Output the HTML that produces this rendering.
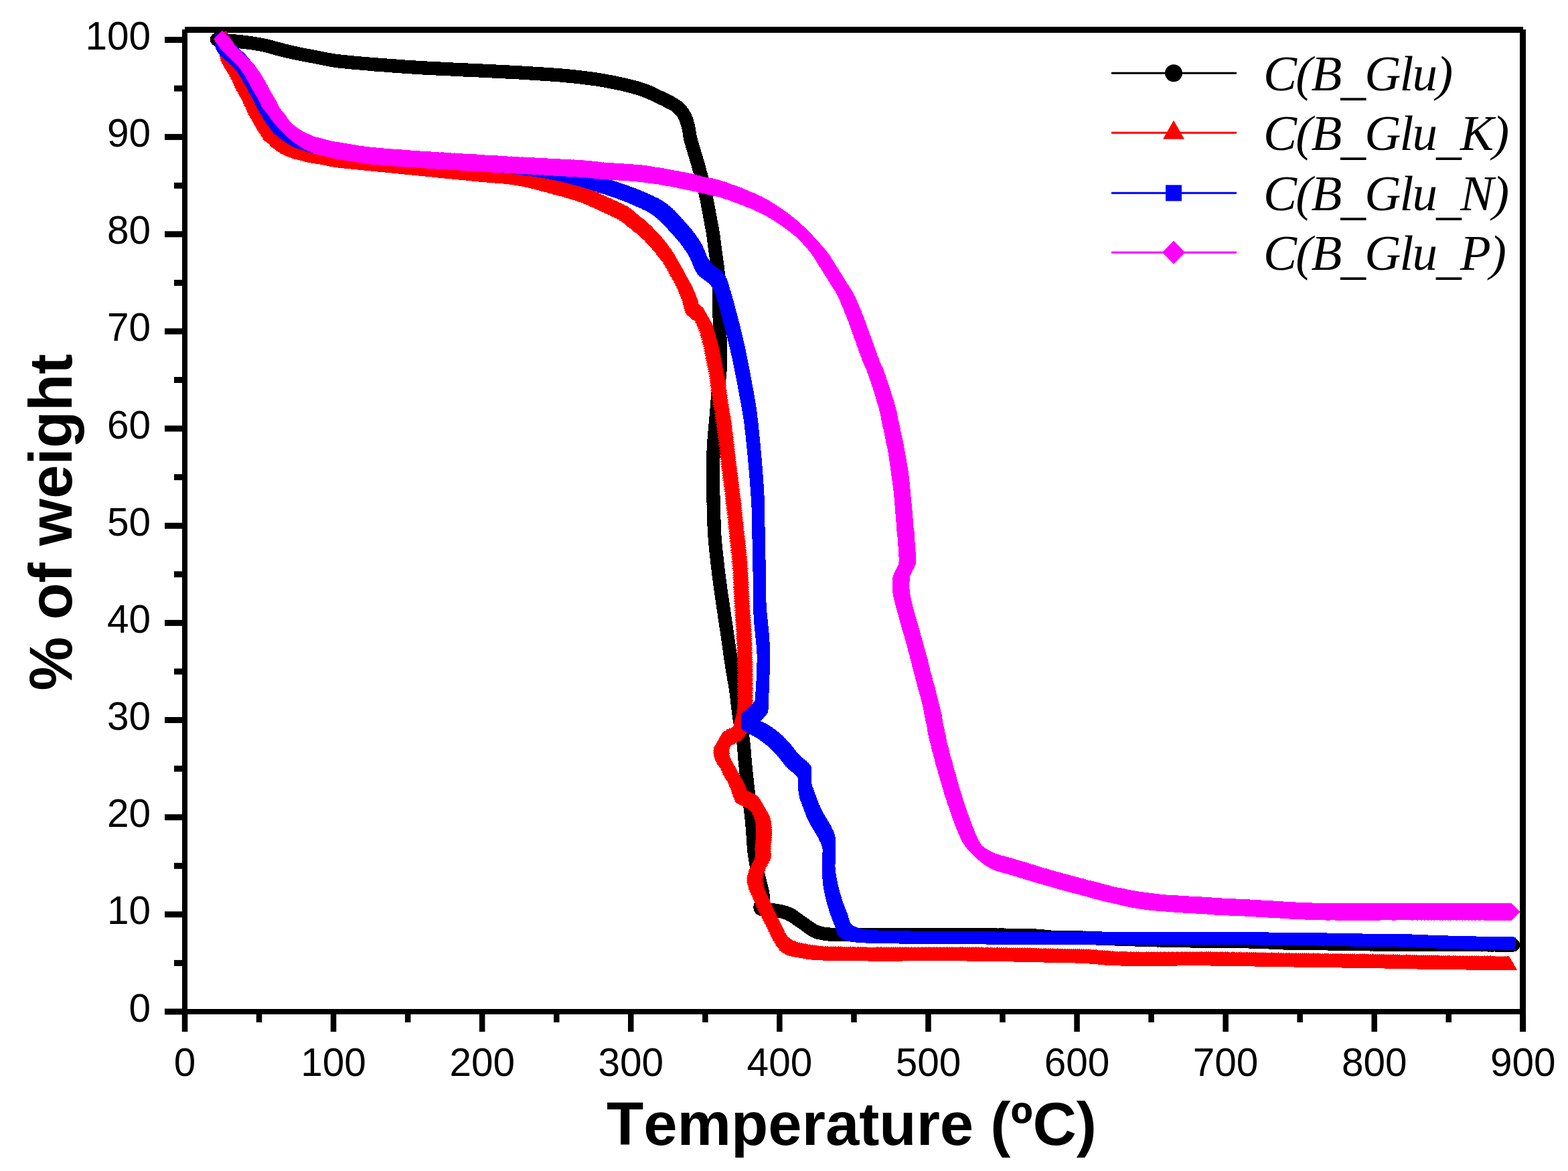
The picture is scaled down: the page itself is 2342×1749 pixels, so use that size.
<!DOCTYPE html><html><head><meta charset="utf-8"><title>TGA</title><style>html,body{margin:0;padding:0;background:#fff;overflow:hidden;width:2342px;height:1749px;}svg{display:block;} text{font-kerning:none;}.tk{font-family:"Liberation Sans",Arial,sans-serif;font-size:58.5px;fill:#000;}.ttl{font-family:"Liberation Sans",Arial,sans-serif;font-weight:bold;font-size:90.5px;fill:#000;}.lg{font-family:"Liberation Serif","Times New Roman",serif;font-style:italic;font-size:75px;letter-spacing:-1.8px;fill:#000;}</style></head><body><svg width="2342" height="1749" viewBox="0 0 2342 1749"><rect x="0" y="0" width="2342" height="1749" fill="#fff"/><defs><marker id="mC" shape-rendering="crispEdges" markerUnits="userSpaceOnUse" markerWidth="40" markerHeight="40" refX="20" refY="20" viewBox="0 0 40 40" overflow="visible"><circle cx="20" cy="20" r="10.2" fill="#000"/></marker><marker id="mT" shape-rendering="crispEdges" markerUnits="userSpaceOnUse" markerWidth="40" markerHeight="40" refX="20" refY="20" viewBox="0 0 40 40" overflow="visible"><path d="M20 9.3 L32.3 30.7 L7.7 30.7 Z" fill="#f00"/></marker><marker id="mS" shape-rendering="crispEdges" markerUnits="userSpaceOnUse" markerWidth="40" markerHeight="40" refX="20" refY="20" viewBox="0 0 40 40" overflow="visible"><rect x="10.5" y="10.5" width="19" height="19" fill="#00f"/></marker><marker id="mD" shape-rendering="crispEdges" markerUnits="userSpaceOnUse" markerWidth="40" markerHeight="40" refX="20" refY="20" viewBox="0 0 40 40" overflow="visible"><path d="M20 7 L33 20 L20 33 L7 20 Z" fill="#f0f"/></marker></defs><g fill="#000"><rect x="276" y="40" width="1999" height="9"/><rect x="272" y="44" width="8" height="1497"/><rect x="2270" y="44" width="9" height="1497"/><rect x="246" y="1507" width="2033" height="8"/><rect x="246" y="1506.5" width="26" height="9"/><rect x="260" y="1433.9" width="12" height="9"/><rect x="246" y="1361.3" width="26" height="9"/><rect x="260" y="1288.8" width="12" height="9"/><rect x="246" y="1216.2" width="26" height="9"/><rect x="260" y="1143.6" width="12" height="9"/><rect x="246" y="1071.0" width="26" height="9"/><rect x="260" y="998.5" width="12" height="9"/><rect x="246" y="925.9" width="26" height="9"/><rect x="260" y="853.3" width="12" height="9"/><rect x="246" y="780.8" width="26" height="9"/><rect x="260" y="708.2" width="12" height="9"/><rect x="246" y="635.6" width="26" height="9"/><rect x="260" y="563.0" width="12" height="9"/><rect x="246" y="490.4" width="26" height="9"/><rect x="260" y="417.9" width="12" height="9"/><rect x="246" y="345.3" width="26" height="9"/><rect x="260" y="272.7" width="12" height="9"/><rect x="246" y="200.1" width="26" height="9"/><rect x="260" y="127.6" width="12" height="9"/><rect x="246" y="55.0" width="26" height="9"/><rect x="271.8" y="1515" width="8.5" height="26"/><rect x="382.8" y="1515" width="8.5" height="12"/><rect x="493.8" y="1515" width="8.5" height="26"/><rect x="604.9" y="1515" width="8.5" height="12"/><rect x="715.9" y="1515" width="8.5" height="26"/><rect x="827.0" y="1515" width="8.5" height="12"/><rect x="938.0" y="1515" width="8.5" height="26"/><rect x="1049.1" y="1515" width="8.5" height="12"/><rect x="1160.1" y="1515" width="8.5" height="26"/><rect x="1271.2" y="1515" width="8.5" height="12"/><rect x="1382.2" y="1515" width="8.5" height="26"/><rect x="1493.2" y="1515" width="8.5" height="12"/><rect x="1604.3" y="1515" width="8.5" height="26"/><rect x="1715.3" y="1515" width="8.5" height="12"/><rect x="1826.4" y="1515" width="8.5" height="26"/><rect x="1937.4" y="1515" width="8.5" height="12"/><rect x="2048.5" y="1515" width="8.5" height="26"/><rect x="2159.5" y="1515" width="8.5" height="12"/><rect x="2270.6" y="1515" width="8.5" height="26"/></g><polyline fill="none" shape-rendering="crispEdges" stroke="#000" stroke-width="2" points="324.0,59.0 324.1,59.0 324.4,59.0 324.9,59.1 325.5,59.1 326.3,59.2 327.2,59.3 328.2,59.4 329.3,59.5 330.5,59.6 331.7,59.7 332.9,59.8 334.2,60.0 335.4,60.1 336.7,60.2 337.8,60.3 339.0,60.4 340.0,60.5 340.9,60.6 341.9,60.7 342.8,60.8 343.8,60.8 344.7,60.9 345.7,61.0 346.7,61.1 347.6,61.2 348.6,61.3 349.6,61.3 350.6,61.4 351.6,61.5 352.6,61.6 353.6,61.7 354.6,61.8 355.6,61.9 356.6,62.0 357.6,62.1 358.6,62.2 359.5,62.3 360.5,62.4 361.5,62.5 362.5,62.6 363.5,62.7 364.5,62.9 365.4,63.0 366.4,63.1 367.4,63.2 368.4,63.4 369.4,63.5 370.4,63.6 371.4,63.7 372.3,63.9 373.3,64.0 374.3,64.1 375.2,64.3 376.2,64.4 377.2,64.6 378.1,64.7 379.1,64.9 380.0,65.0 381.0,65.2 381.9,65.3 382.9,65.5 383.8,65.6 384.8,65.8 385.7,65.9 386.6,66.1 387.6,66.2 388.5,66.4 389.4,66.6 390.4,66.8 391.3,66.9 392.2,67.1 393.1,67.3 394.1,67.5 395.0,67.7 396.0,67.9 396.9,68.1 397.8,68.3 398.8,68.5 399.7,68.8 400.7,69.0 401.6,69.3 402.6,69.5 403.5,69.8 404.5,70.1 405.4,70.3 406.4,70.6 407.3,70.9 408.3,71.2 409.3,71.4 410.2,71.7 411.2,72.0 412.1,72.2 413.1,72.5 414.0,72.7 415.0,73.0 416.0,73.2 416.9,73.5 417.9,73.7 418.8,74.0 419.8,74.2 420.7,74.5 421.7,74.7 422.6,75.0 423.6,75.2 424.5,75.4 425.5,75.7 426.5,75.9 427.4,76.1 428.4,76.4 429.3,76.6 430.3,76.8 431.3,77.1 432.2,77.3 433.2,77.5 434.1,77.7 435.1,77.9 436.0,78.1 436.9,78.3 437.9,78.6 438.8,78.8 439.8,79.0 440.7,79.2 441.7,79.4 442.6,79.6 443.6,79.8 444.5,80.0 445.5,80.2 446.4,80.4 447.3,80.6 448.3,80.7 449.2,80.9 450.1,81.1 451.1,81.3 452.0,81.5 453.0,81.7 453.9,81.9 454.9,82.1 455.8,82.3 456.8,82.4 457.7,82.6 458.6,82.8 459.6,83.0 460.5,83.1 461.4,83.3 462.4,83.5 463.3,83.7 464.3,83.8 465.3,84.0 466.3,84.2 467.3,84.4 468.4,84.6 469.5,84.8 470.3,85.0 471.2,85.1 472.1,85.3 472.9,85.5 473.8,85.6 474.8,85.8 475.7,86.0 476.6,86.2 477.6,86.4 478.6,86.6 479.5,86.8 480.5,87.0 481.5,87.2 482.5,87.4 483.5,87.6 484.5,87.8 485.5,88.0 486.5,88.2 487.5,88.4 488.5,88.6 489.5,88.8 490.5,89.0 491.5,89.2 492.5,89.3 493.5,89.5 494.5,89.7 495.4,89.9 496.4,90.0 497.3,90.2 498.2,90.3 499.1,90.5 500.0,90.6 501.0,90.7 502.0,90.9 503.0,91.0 504.0,91.2 505.0,91.3 505.9,91.4 506.9,91.5 507.8,91.6 508.7,91.7 509.7,91.8 510.6,91.9 511.5,92.0 512.4,92.1 513.4,92.2 514.3,92.3 515.2,92.4 516.2,92.4 517.1,92.5 518.1,92.6 519.0,92.7 520.0,92.8 521.0,92.9 522.0,93.0 522.9,93.1 523.8,93.2 524.8,93.3 525.7,93.4 526.6,93.4 527.6,93.5 528.5,93.6 529.5,93.7 530.4,93.8 531.4,93.9 532.3,94.0 533.3,94.1 534.3,94.2 535.2,94.2 536.2,94.3 537.2,94.4 538.2,94.5 539.2,94.6 540.1,94.7 541.1,94.8 542.1,94.8 543.1,94.9 544.1,95.0 545.1,95.1 546.1,95.2 547.0,95.3 548.0,95.3 549.0,95.4 550.0,95.5 551.0,95.6 551.9,95.7 552.9,95.7 553.8,95.8 554.8,95.9 555.7,96.0 556.7,96.0 557.6,96.1 558.6,96.2 559.5,96.3 560.5,96.3 561.5,96.4 562.4,96.5 563.4,96.6 564.4,96.6 565.3,96.7 566.3,96.8 567.3,96.9 568.2,96.9 569.2,97.0 570.2,97.1 571.2,97.1 572.1,97.2 573.1,97.3 574.1,97.4 575.1,97.4 576.1,97.5 577.0,97.6 578.0,97.7 579.0,97.7 580.0,97.8 580.9,97.9 581.9,97.9 582.8,98.0 583.8,98.1 584.7,98.2 585.6,98.2 586.5,98.3 587.5,98.4 588.4,98.4 589.3,98.5 590.2,98.6 591.2,98.6 592.1,98.7 593.0,98.8 594.0,98.9 594.9,98.9 595.8,99.0 596.8,99.1 597.7,99.1 598.7,99.2 599.7,99.3 600.6,99.4 601.6,99.4 602.6,99.5 603.6,99.6 604.6,99.6 605.6,99.7 606.6,99.8 607.7,99.8 608.7,99.9 609.8,100.0 610.8,100.1 611.9,100.1 613.0,100.2 613.9,100.3 614.7,100.3 615.6,100.4 616.5,100.4 617.4,100.5 618.3,100.5 619.2,100.6 620.1,100.6 621.0,100.7 621.9,100.7 622.9,100.8 623.8,100.9 624.7,100.9 625.7,101.0 626.7,101.0 627.6,101.1 628.6,101.1 629.6,101.2 630.5,101.2 631.5,101.3 632.5,101.3 633.5,101.4 634.5,101.5 635.5,101.5 636.5,101.6 637.5,101.6 638.5,101.7 639.5,101.7 640.6,101.8 641.6,101.8 642.6,101.9 643.6,101.9 644.6,102.0 645.7,102.1 646.7,102.1 647.7,102.2 648.8,102.2 649.8,102.3 650.8,102.3 651.8,102.4 652.9,102.4 653.9,102.5 654.9,102.5 655.9,102.6 657.0,102.6 658.0,102.7 659.0,102.7 660.0,102.8 661.0,102.8 662.0,102.9 663.0,102.9 664.0,103.0 665.1,103.1 666.0,103.1 667.0,103.2 668.0,103.2 669.0,103.3 670.0,103.3 671.0,103.3 672.0,103.4 673.0,103.4 673.9,103.5 674.9,103.5 675.9,103.6 676.9,103.6 677.9,103.7 678.9,103.7 679.9,103.8 680.9,103.8 681.8,103.9 682.8,103.9 683.8,104.0 684.8,104.0 685.8,104.1 686.8,104.1 687.8,104.1 688.7,104.2 689.7,104.2 690.7,104.3 691.7,104.3 692.7,104.4 693.7,104.4 694.7,104.5 695.6,104.5 696.6,104.5 697.6,104.6 698.6,104.6 699.6,104.7 700.6,104.7 701.5,104.8 702.5,104.8 703.5,104.9 704.5,104.9 705.5,104.9 706.4,105.0 707.4,105.0 708.4,105.1 709.4,105.1 710.4,105.2 711.3,105.2 712.3,105.3 713.3,105.3 714.3,105.3 715.3,105.4 716.2,105.4 717.2,105.5 718.2,105.5 719.2,105.6 720.2,105.6 721.1,105.7 722.1,105.7 723.1,105.8 724.1,105.8 725.0,105.9 726.0,105.9 727.0,105.9 728.0,106.0 729.0,106.0 730.0,106.1 730.9,106.1 731.9,106.2 732.9,106.2 733.9,106.3 734.9,106.3 735.8,106.4 736.8,106.4 737.8,106.5 738.8,106.5 739.8,106.6 740.7,106.6 741.7,106.7 742.7,106.7 743.7,106.8 744.6,106.8 745.6,106.9 746.6,106.9 747.6,107.0 748.5,107.0 749.5,107.1 750.5,107.1 751.5,107.2 752.4,107.2 753.4,107.3 754.4,107.3 755.4,107.4 756.3,107.4 757.3,107.5 758.3,107.5 759.3,107.6 760.2,107.6 761.2,107.7 762.2,107.7 763.2,107.8 764.1,107.8 765.1,107.9 766.1,107.9 767.1,108.0 768.1,108.0 769.1,108.1 770.1,108.1 771.0,108.2 772.0,108.2 773.0,108.3 774.0,108.4 775.0,108.4 776.0,108.5 777.0,108.5 778.0,108.6 779.0,108.6 780.0,108.7 781.0,108.8 781.9,108.8 782.9,108.9 783.9,108.9 784.9,109.0 785.9,109.0 786.9,109.1 787.9,109.2 788.9,109.2 789.9,109.3 790.9,109.3 791.9,109.4 793.0,109.5 794.0,109.5 795.0,109.6 796.0,109.7 797.1,109.7 798.1,109.8 799.1,109.8 800.2,109.9 801.2,110.0 802.2,110.0 803.3,110.1 804.3,110.2 805.4,110.2 806.4,110.3 807.4,110.4 808.5,110.4 809.5,110.5 810.5,110.6 811.5,110.6 812.6,110.7 813.6,110.7 814.6,110.8 815.6,110.9 816.6,110.9 817.6,111.0 818.6,111.1 819.6,111.2 820.6,111.2 821.6,111.3 822.6,111.4 823.6,111.4 824.6,111.5 825.5,111.6 826.5,111.6 827.4,111.7 828.4,111.8 829.3,111.8 830.2,111.9 831.1,112.0 832.1,112.0 833.0,112.1 833.9,112.2 834.7,112.3 835.6,112.3 836.5,112.4 837.3,112.5 838.2,112.5 839.0,112.6 840.1,112.7 841.2,112.8 842.3,112.9 843.4,113.0 844.4,113.1 845.4,113.2 846.5,113.3 847.5,113.4 848.5,113.4 849.4,113.5 850.4,113.6 851.4,113.7 852.3,113.8 853.3,113.9 854.2,114.0 855.2,114.1 856.1,114.2 857.0,114.3 857.9,114.4 858.9,114.5 859.8,114.6 860.7,114.7 861.6,114.8 862.5,114.9 863.4,115.0 864.4,115.1 865.3,115.2 866.2,115.3 867.2,115.5 868.1,115.6 869.0,115.7 870.0,115.8 871.0,115.9 871.9,116.0 872.9,116.2 873.9,116.3 874.8,116.4 875.8,116.5 876.7,116.6 877.7,116.7 878.6,116.9 879.5,117.0 880.5,117.1 881.4,117.2 882.4,117.3 883.3,117.5 884.3,117.6 885.2,117.7 886.1,117.8 887.1,118.0 888.1,118.1 889.0,118.2 890.0,118.4 890.9,118.5 891.9,118.7 892.9,118.8 893.9,119.0 894.9,119.1 895.9,119.3 896.9,119.5 897.9,119.6 899.0,119.8 900.0,120.0 900.9,120.2 901.8,120.3 902.7,120.5 903.6,120.7 904.6,120.8 905.5,121.0 906.5,121.2 907.5,121.4 908.4,121.6 909.4,121.7 910.4,121.9 911.4,122.1 912.4,122.3 913.4,122.5 914.4,122.7 915.5,122.9 916.5,123.1 917.5,123.3 918.5,123.6 919.6,123.8 920.6,124.0 921.6,124.2 922.6,124.4 923.6,124.6 924.7,124.8 925.7,125.1 926.7,125.3 927.7,125.5 928.7,125.7 929.7,125.9 930.7,126.2 931.6,126.4 932.6,126.6 933.5,126.8 934.5,127.1 935.4,127.3 936.3,127.5 937.3,127.7 938.1,127.9 939.0,128.1 939.9,128.4 940.7,128.6 941.6,128.8 942.4,129.0 943.5,129.3 944.5,129.6 945.6,129.8 946.6,130.1 947.6,130.4 948.6,130.7 949.6,130.9 950.6,131.2 951.5,131.5 952.4,131.8 953.4,132.0 954.3,132.3 955.2,132.6 956.1,132.9 957.0,133.2 957.9,133.5 958.8,133.8 959.7,134.1 960.6,134.4 961.4,134.7 962.3,135.0 963.2,135.3 964.1,135.7 965.0,136.0 965.9,136.4 966.9,136.7 967.8,137.1 968.7,137.5 969.7,137.9 970.6,138.3 971.5,138.7 972.4,139.1 973.3,139.5 974.2,140.0 975.1,140.4 976.0,140.8 976.9,141.2 977.8,141.7 978.7,142.1 979.6,142.5 980.4,142.9 981.3,143.4 982.2,143.8 983.0,144.2 983.9,144.6 984.7,145.0 985.6,145.4 986.5,145.8 987.4,146.3 988.3,146.7 989.2,147.1 990.0,147.5 990.9,147.9 991.8,148.3 992.6,148.7 993.5,149.1 994.3,149.5 995.1,150.0 996.0,150.4 996.8,150.8 997.6,151.2 998.4,151.6 999.2,152.1 1000.0,152.5 1000.9,153.0 1001.7,153.4 1002.6,153.9 1003.4,154.4 1004.2,154.8 1005.0,155.3 1005.9,155.7 1006.7,156.2 1007.5,156.7 1008.2,157.2 1009.0,157.7 1009.8,158.2 1010.5,158.8 1011.3,159.4 1012.0,160.0 1012.7,160.6 1013.4,161.3 1014.1,161.9 1014.8,162.6 1015.5,163.3 1016.1,164.0 1016.8,164.8 1017.4,165.5 1018.1,166.3 1018.7,167.0 1019.3,167.8 1019.9,168.6 1020.4,169.5 1021.0,170.3 1021.5,171.1 1022.0,172.0 1022.4,172.8 1022.9,173.6 1023.3,174.4 1023.6,175.3 1024.0,176.2 1024.4,177.0 1024.7,177.9 1025.0,178.8 1025.3,179.8 1025.6,180.7 1025.9,181.6 1026.2,182.5 1026.5,183.5 1026.8,184.4 1027.0,185.3 1027.3,186.3 1027.5,187.2 1027.8,188.1 1028.0,189.0 1028.2,189.9 1028.4,190.9 1028.6,191.8 1028.8,192.7 1029.0,193.7 1029.1,194.6 1029.3,195.5 1029.4,196.4 1029.5,197.4 1029.7,198.3 1029.8,199.3 1029.9,200.2 1030.1,201.2 1030.2,202.1 1030.4,203.1 1030.6,204.0 1030.8,205.0 1031.0,206.0 1031.2,206.9 1031.4,207.8 1031.7,208.8 1031.9,209.7 1032.2,210.6 1032.4,211.6 1032.7,212.5 1033.0,213.5 1033.2,214.4 1033.5,215.4 1033.8,216.4 1034.1,217.3 1034.4,218.3 1034.7,219.3 1035.0,220.2 1035.3,221.2 1035.6,222.2 1035.9,223.1 1036.1,224.1 1036.4,225.1 1036.7,226.0 1037.0,227.0 1037.3,227.9 1037.5,228.8 1037.8,229.8 1038.1,230.7 1038.4,231.6 1038.7,232.5 1038.9,233.5 1039.2,234.4 1039.5,235.3 1039.8,236.2 1040.1,237.2 1040.4,238.1 1040.7,239.0 1040.9,239.9 1041.2,240.9 1041.5,241.8 1041.8,242.7 1042.1,243.6 1042.3,244.6 1042.6,245.5 1042.9,246.4 1043.1,247.4 1043.4,248.3 1043.7,249.2 1043.9,250.2 1044.2,251.1 1044.4,252.1 1044.7,253.0 1044.9,253.9 1045.2,254.9 1045.4,255.8 1045.7,256.8 1045.9,257.7 1046.2,258.7 1046.4,259.6 1046.6,260.6 1046.9,261.5 1047.1,262.5 1047.4,263.4 1047.6,264.4 1047.8,265.3 1048.1,266.3 1048.3,267.2 1048.5,268.1 1048.8,269.1 1049.0,270.0 1049.2,270.9 1049.5,271.9 1049.7,272.8 1049.9,273.7 1050.2,274.7 1050.4,275.6 1050.6,276.5 1050.9,277.4 1051.1,278.3 1051.3,279.2 1051.5,280.1 1051.8,281.1 1052.0,282.0 1052.2,282.9 1052.4,283.9 1052.7,284.8 1052.9,285.8 1053.1,286.7 1053.3,287.7 1053.6,288.7 1053.8,289.7 1054.0,290.7 1054.2,291.6 1054.4,292.5 1054.6,293.5 1054.8,294.4 1055.0,295.4 1055.2,296.4 1055.4,297.4 1055.6,298.4 1055.8,299.5 1056.0,300.5 1056.2,301.6 1056.4,302.6 1056.6,303.7 1056.8,304.7 1057.0,305.8 1057.2,306.8 1057.4,307.8 1057.6,308.9 1057.8,309.9 1058.0,310.9 1058.2,311.9 1058.4,312.9 1058.6,313.9 1058.7,314.8 1058.9,315.7 1059.1,316.6 1059.2,317.5 1059.4,318.4 1059.6,319.2 1059.7,320.0 1059.9,321.1 1060.1,322.1 1060.3,323.1 1060.4,324.1 1060.6,325.0 1060.8,325.9 1060.9,326.8 1061.1,327.7 1061.2,328.5 1061.4,329.4 1061.5,330.3 1061.7,331.2 1061.8,332.1 1062.0,333.0 1062.2,333.9 1062.3,334.8 1062.5,335.7 1062.7,336.6 1062.9,337.5 1063.1,338.4 1063.2,339.3 1063.4,340.2 1063.6,341.2 1063.8,342.1 1064.0,343.1 1064.2,344.1 1064.3,345.1 1064.5,346.1 1064.7,347.2 1064.8,348.0 1065.0,348.9 1065.1,349.7 1065.2,350.6 1065.4,351.5 1065.5,352.5 1065.6,353.4 1065.7,354.4 1065.9,355.3 1066.0,356.3 1066.1,357.3 1066.2,358.3 1066.4,359.3 1066.5,360.3 1066.6,361.3 1066.8,362.3 1066.9,363.4 1067.0,364.4 1067.1,365.4 1067.3,366.4 1067.4,367.5 1067.5,368.5 1067.7,369.5 1067.8,370.5 1067.9,371.5 1068.0,372.5 1068.2,373.5 1068.3,374.5 1068.4,375.5 1068.6,376.4 1068.7,377.4 1068.8,378.4 1069.0,379.4 1069.1,380.3 1069.3,381.3 1069.4,382.3 1069.6,383.2 1069.7,384.2 1069.8,385.2 1070.0,386.1 1070.1,387.1 1070.3,388.1 1070.4,389.0 1070.5,390.0 1070.7,391.0 1070.8,391.9 1071.0,392.9 1071.1,393.9 1071.2,394.9 1071.3,395.8 1071.5,396.8 1071.6,397.8 1071.7,398.8 1071.8,399.7 1071.9,400.7 1072.0,401.7 1072.1,402.7 1072.2,403.6 1072.3,404.6 1072.4,405.6 1072.4,406.6 1072.5,407.6 1072.6,408.6 1072.7,409.6 1072.7,410.6 1072.8,411.6 1072.9,412.6 1072.9,413.6 1073.0,414.6 1073.0,415.6 1073.1,416.6 1073.2,417.6 1073.2,418.6 1073.3,419.6 1073.3,420.6 1073.3,421.6 1073.4,422.5 1073.4,423.5 1073.5,424.5 1073.5,425.4 1073.6,426.3 1073.6,427.3 1073.6,428.2 1073.7,429.1 1073.7,430.0 1073.7,431.0 1073.8,432.0 1073.8,433.0 1073.8,433.9 1073.8,434.8 1073.8,435.7 1073.9,436.6 1073.9,437.5 1073.9,438.4 1073.9,439.3 1073.9,440.1 1073.9,441.0 1073.9,441.9 1073.9,442.8 1073.9,443.8 1073.9,444.7 1073.9,445.7 1073.9,446.7 1074.0,447.8 1074.0,448.9 1074.0,450.0 1074.0,450.8 1074.0,451.6 1074.1,452.4 1074.1,453.3 1074.1,454.2 1074.1,455.0 1074.1,455.9 1074.2,456.8 1074.2,457.7 1074.2,458.7 1074.2,459.6 1074.3,460.6 1074.3,461.5 1074.3,462.5 1074.3,463.5 1074.4,464.5 1074.4,465.5 1074.4,466.5 1074.4,467.5 1074.5,468.5 1074.5,469.6 1074.5,470.6 1074.6,471.7 1074.6,472.7 1074.6,473.8 1074.6,474.8 1074.7,475.9 1074.7,476.9 1074.7,478.0 1074.8,479.1 1074.8,480.1 1074.8,481.2 1074.8,482.3 1074.9,483.3 1074.9,484.4 1074.9,485.5 1075.0,486.5 1075.0,487.6 1075.0,488.6 1075.0,489.7 1075.1,490.7 1075.1,491.8 1075.1,492.8 1075.1,493.9 1075.2,494.9 1075.2,495.9 1075.2,496.9 1075.2,497.9 1075.2,498.9 1075.3,499.9 1075.3,500.9 1075.3,501.9 1075.3,502.9 1075.4,503.9 1075.4,504.9 1075.4,505.9 1075.5,506.9 1075.5,508.0 1075.5,509.0 1075.5,510.0 1075.6,511.1 1075.6,512.1 1075.6,513.1 1075.7,514.2 1075.7,515.2 1075.7,516.2 1075.8,517.3 1075.8,518.3 1075.8,519.3 1075.8,520.4 1075.9,521.4 1075.9,522.4 1075.9,523.4 1075.9,524.4 1076.0,525.4 1076.0,526.5 1076.0,527.5 1076.0,528.5 1076.0,529.4 1076.1,530.4 1076.1,531.4 1076.1,532.4 1076.1,533.3 1076.1,534.3 1076.1,535.2 1076.1,536.2 1076.1,537.1 1076.1,538.0 1076.1,538.9 1076.1,539.8 1076.1,540.7 1076.1,541.6 1076.1,542.5 1076.0,543.3 1076.0,544.2 1076.0,545.0 1076.0,546.1 1075.9,547.2 1075.9,548.2 1075.8,549.2 1075.8,550.2 1075.7,551.2 1075.6,552.1 1075.6,553.0 1075.5,553.9 1075.4,554.8 1075.3,555.7 1075.3,556.6 1075.2,557.5 1075.1,558.4 1075.0,559.3 1074.9,560.2 1074.8,561.1 1074.7,562.0 1074.6,562.9 1074.6,563.8 1074.5,564.8 1074.4,565.8 1074.3,566.8 1074.2,567.8 1074.1,568.9 1074.0,570.0 1073.9,570.8 1073.9,571.7 1073.8,572.5 1073.7,573.4 1073.7,574.3 1073.6,575.1 1073.5,576.0 1073.4,577.0 1073.4,577.9 1073.3,578.8 1073.2,579.7 1073.1,580.7 1073.0,581.6 1073.0,582.6 1072.9,583.6 1072.8,584.5 1072.7,585.5 1072.6,586.5 1072.6,587.5 1072.5,588.5 1072.4,589.5 1072.3,590.5 1072.2,591.5 1072.1,592.5 1072.0,593.5 1072.0,594.6 1071.9,595.6 1071.8,596.6 1071.7,597.6 1071.6,598.7 1071.5,599.7 1071.4,600.7 1071.4,601.8 1071.3,602.8 1071.2,603.8 1071.1,604.9 1071.0,605.9 1070.9,606.9 1070.8,607.9 1070.8,609.0 1070.7,610.0 1070.6,611.0 1070.5,612.0 1070.4,613.0 1070.3,614.0 1070.2,615.0 1070.2,616.0 1070.1,617.0 1070.0,618.0 1069.9,619.0 1069.8,620.0 1069.7,620.9 1069.7,621.9 1069.6,622.9 1069.5,623.9 1069.4,624.9 1069.3,625.8 1069.2,626.8 1069.1,627.8 1069.0,628.8 1069.0,629.7 1068.9,630.7 1068.8,631.7 1068.7,632.7 1068.6,633.7 1068.5,634.6 1068.4,635.6 1068.3,636.6 1068.2,637.6 1068.1,638.5 1068.0,639.5 1067.9,640.5 1067.9,641.5 1067.8,642.5 1067.7,643.4 1067.6,644.4 1067.5,645.4 1067.4,646.4 1067.3,647.3 1067.2,648.3 1067.2,649.3 1067.1,650.3 1067.0,651.3 1066.9,652.2 1066.8,653.2 1066.8,654.2 1066.7,655.2 1066.6,656.2 1066.6,657.1 1066.5,658.1 1066.4,659.1 1066.3,660.1 1066.3,661.1 1066.2,662.1 1066.2,663.0 1066.1,664.0 1066.1,665.0 1066.0,666.0 1066.0,667.0 1065.9,667.9 1065.9,668.9 1065.8,669.9 1065.8,670.9 1065.7,671.9 1065.7,672.8 1065.6,673.8 1065.6,674.8 1065.6,675.8 1065.5,676.8 1065.5,677.7 1065.5,678.7 1065.4,679.7 1065.4,680.7 1065.4,681.7 1065.4,682.6 1065.3,683.6 1065.3,684.6 1065.3,685.6 1065.3,686.6 1065.2,687.5 1065.2,688.5 1065.2,689.5 1065.2,690.5 1065.2,691.5 1065.2,692.5 1065.1,693.4 1065.1,694.4 1065.1,695.4 1065.1,696.4 1065.1,697.4 1065.1,698.4 1065.1,699.3 1065.1,700.3 1065.0,701.3 1065.0,702.3 1065.0,703.3 1065.0,704.2 1065.0,705.2 1065.0,706.2 1065.0,707.2 1065.0,708.2 1065.0,709.1 1065.0,710.1 1065.0,711.1 1065.0,712.1 1065.0,713.0 1065.0,714.0 1065.0,715.0 1065.0,716.0 1065.0,717.0 1065.0,718.0 1065.0,719.0 1065.0,719.9 1065.0,720.9 1065.0,721.9 1065.0,722.9 1065.1,723.9 1065.1,724.9 1065.1,725.9 1065.1,726.9 1065.1,727.9 1065.1,728.9 1065.1,729.9 1065.2,730.9 1065.2,731.9 1065.2,732.9 1065.2,733.9 1065.2,734.9 1065.3,735.9 1065.3,736.9 1065.3,737.9 1065.3,738.9 1065.3,739.9 1065.4,740.9 1065.4,741.9 1065.4,742.9 1065.4,743.9 1065.5,744.9 1065.5,745.8 1065.5,746.8 1065.6,747.8 1065.6,748.8 1065.6,749.8 1065.6,750.7 1065.7,751.7 1065.7,752.7 1065.7,753.6 1065.8,754.6 1065.8,755.5 1065.8,756.5 1065.8,757.4 1065.9,758.4 1065.9,759.3 1065.9,760.2 1065.9,761.2 1066.0,762.1 1066.0,763.0 1066.0,764.0 1066.1,765.1 1066.1,766.1 1066.1,767.1 1066.1,768.1 1066.2,769.1 1066.2,770.0 1066.2,771.0 1066.2,772.0 1066.3,773.0 1066.3,773.9 1066.3,774.9 1066.3,775.8 1066.4,776.8 1066.4,777.7 1066.4,778.7 1066.4,779.6 1066.5,780.6 1066.5,781.5 1066.5,782.4 1066.6,783.4 1066.6,784.3 1066.6,785.3 1066.7,786.2 1066.7,787.2 1066.7,788.1 1066.8,789.1 1066.8,790.0 1066.9,791.0 1066.9,792.0 1067.0,793.0 1067.0,793.9 1067.1,794.9 1067.1,795.9 1067.2,796.9 1067.3,797.9 1067.3,799.0 1067.4,800.0 1067.5,800.9 1067.5,801.9 1067.6,802.8 1067.7,803.7 1067.7,804.7 1067.8,805.6 1067.9,806.6 1068.0,807.5 1068.1,808.5 1068.1,809.5 1068.2,810.4 1068.3,811.4 1068.4,812.4 1068.5,813.4 1068.6,814.3 1068.7,815.3 1068.8,816.3 1068.9,817.3 1069.0,818.3 1069.1,819.3 1069.2,820.3 1069.3,821.3 1069.4,822.3 1069.5,823.3 1069.6,824.3 1069.7,825.3 1069.8,826.3 1069.9,827.3 1070.0,828.3 1070.1,829.3 1070.2,830.4 1070.3,831.4 1070.5,832.4 1070.6,833.4 1070.7,834.4 1070.8,835.4 1070.9,836.4 1071.0,837.4 1071.1,838.4 1071.3,839.4 1071.4,840.4 1071.5,841.4 1071.6,842.4 1071.7,843.4 1071.8,844.4 1072.0,845.4 1072.1,846.4 1072.2,847.4 1072.3,848.4 1072.4,849.4 1072.5,850.4 1072.7,851.4 1072.8,852.4 1072.9,853.4 1073.0,854.3 1073.1,855.3 1073.3,856.3 1073.4,857.3 1073.5,858.3 1073.6,859.3 1073.8,860.3 1073.9,861.3 1074.0,862.3 1074.2,863.3 1074.3,864.2 1074.4,865.2 1074.5,866.2 1074.7,867.2 1074.8,868.2 1074.9,869.2 1075.1,870.2 1075.2,871.2 1075.3,872.2 1075.5,873.2 1075.6,874.1 1075.7,875.1 1075.9,876.1 1076.0,877.1 1076.2,878.1 1076.3,879.1 1076.4,880.1 1076.6,881.1 1076.7,882.1 1076.8,883.1 1077.0,884.0 1077.1,885.0 1077.3,886.0 1077.4,887.0 1077.5,888.0 1077.7,889.0 1077.8,890.0 1078.0,891.0 1078.1,892.0 1078.2,892.9 1078.4,893.9 1078.5,894.9 1078.7,895.9 1078.8,896.9 1078.9,897.9 1079.1,898.9 1079.2,899.9 1079.4,900.9 1079.5,901.8 1079.7,902.8 1079.8,903.8 1079.9,904.8 1080.1,905.8 1080.2,906.8 1080.4,907.8 1080.5,908.8 1080.7,909.7 1080.8,910.7 1081.0,911.7 1081.1,912.7 1081.3,913.7 1081.4,914.7 1081.6,915.7 1081.7,916.7 1081.9,917.6 1082.0,918.6 1082.2,919.6 1082.3,920.6 1082.4,921.6 1082.6,922.6 1082.7,923.6 1082.9,924.6 1083.0,925.5 1083.2,926.5 1083.3,927.5 1083.5,928.5 1083.6,929.5 1083.8,930.5 1083.9,931.5 1084.1,932.5 1084.2,933.4 1084.4,934.4 1084.5,935.4 1084.7,936.4 1084.8,937.4 1085.0,938.4 1085.1,939.4 1085.3,940.4 1085.4,941.3 1085.6,942.3 1085.7,943.3 1085.9,944.3 1086.0,945.3 1086.1,946.3 1086.3,947.3 1086.4,948.3 1086.6,949.3 1086.7,950.3 1086.9,951.3 1087.0,952.3 1087.1,953.3 1087.3,954.3 1087.4,955.3 1087.6,956.3 1087.7,957.3 1087.8,958.3 1088.0,959.3 1088.1,960.3 1088.3,961.4 1088.4,962.4 1088.6,963.4 1088.7,964.4 1088.8,965.4 1089.0,966.4 1089.1,967.4 1089.3,968.4 1089.4,969.4 1089.5,970.4 1089.7,971.4 1089.8,972.4 1089.9,973.4 1090.1,974.4 1090.2,975.4 1090.4,976.4 1090.5,977.4 1090.6,978.4 1090.8,979.4 1090.9,980.4 1091.1,981.4 1091.2,982.3 1091.3,983.3 1091.5,984.3 1091.6,985.2 1091.8,986.2 1091.9,987.2 1092.1,988.1 1092.2,989.1 1092.3,990.0 1092.5,990.9 1092.6,991.9 1092.8,992.8 1092.9,993.7 1093.1,994.8 1093.2,995.8 1093.4,996.8 1093.6,997.9 1093.7,998.9 1093.9,1000.0 1094.1,1001.0 1094.3,1002.0 1094.4,1003.0 1094.6,1004.1 1094.8,1005.1 1095.0,1006.1 1095.1,1007.1 1095.3,1008.1 1095.5,1009.1 1095.7,1010.1 1095.9,1011.1 1096.0,1012.1 1096.2,1013.1 1096.4,1014.1 1096.5,1015.0 1096.7,1016.0 1096.9,1017.0 1097.1,1017.9 1097.2,1018.9 1097.4,1019.9 1097.5,1020.8 1097.7,1021.8 1097.9,1022.7 1098.0,1023.6 1098.2,1024.6 1098.3,1025.5 1098.5,1026.4 1098.6,1027.3 1098.7,1028.2 1098.9,1029.1 1099.0,1030.0 1099.1,1031.0 1099.3,1032.1 1099.4,1033.1 1099.6,1034.1 1099.7,1035.1 1099.8,1036.1 1099.9,1037.1 1100.1,1038.1 1100.2,1039.1 1100.3,1040.0 1100.4,1041.0 1100.5,1041.9 1100.6,1042.9 1100.7,1043.8 1100.8,1044.8 1100.9,1045.7 1101.0,1046.6 1101.1,1047.6 1101.2,1048.5 1101.3,1049.4 1101.4,1050.4 1101.5,1051.3 1101.7,1052.2 1101.8,1053.1 1101.9,1054.1 1102.0,1055.0 1102.1,1056.0 1102.3,1057.0 1102.4,1057.9 1102.5,1058.9 1102.6,1059.8 1102.7,1060.8 1102.9,1061.7 1103.0,1062.6 1103.1,1063.6 1103.2,1064.5 1103.3,1065.4 1103.5,1066.4 1103.6,1067.3 1103.7,1068.2 1103.9,1069.2 1104.0,1070.1 1104.1,1071.1 1104.3,1072.0 1104.4,1073.0 1104.5,1074.0 1104.7,1075.0 1104.8,1076.0 1105.0,1077.0 1105.1,1077.9 1105.3,1078.8 1105.4,1079.7 1105.6,1080.7 1105.8,1081.6 1105.9,1082.6 1106.1,1083.5 1106.3,1084.5 1106.5,1085.5 1106.6,1086.4 1106.8,1087.4 1107.0,1088.4 1107.2,1089.4 1107.4,1090.4 1107.6,1091.4 1107.7,1092.3 1107.9,1093.3 1108.1,1094.3 1108.3,1095.3 1108.5,1096.3 1108.6,1097.3 1108.8,1098.3 1109.0,1099.3 1109.1,1100.2 1109.3,1101.2 1109.5,1102.2 1109.6,1103.1 1109.7,1104.1 1109.9,1105.1 1110.0,1106.0 1110.1,1107.0 1110.3,1108.0 1110.4,1109.0 1110.5,1110.0 1110.6,1111.0 1110.7,1112.0 1110.8,1113.0 1110.9,1114.0 1111.0,1115.0 1111.0,1116.0 1111.1,1117.0 1111.2,1118.0 1111.3,1119.0 1111.4,1119.9 1111.4,1120.9 1111.5,1121.9 1111.6,1122.9 1111.7,1123.9 1111.7,1124.8 1111.8,1125.8 1111.9,1126.8 1112.0,1127.8 1112.0,1128.8 1112.1,1129.7 1112.2,1130.7 1112.3,1131.7 1112.4,1132.7 1112.5,1133.6 1112.6,1134.6 1112.7,1135.6 1112.8,1136.6 1112.9,1137.5 1112.9,1138.5 1113.0,1139.4 1113.1,1140.4 1113.2,1141.4 1113.3,1142.3 1113.4,1143.3 1113.5,1144.3 1113.6,1145.2 1113.7,1146.2 1113.8,1147.2 1113.9,1148.1 1114.0,1149.1 1114.1,1150.1 1114.2,1151.0 1114.3,1152.0 1114.4,1153.0 1114.5,1154.0 1114.6,1155.0 1114.7,1156.0 1114.8,1157.0 1114.9,1157.9 1115.0,1158.9 1115.1,1159.8 1115.2,1160.7 1115.3,1161.7 1115.4,1162.6 1115.5,1163.6 1115.6,1164.5 1115.7,1165.4 1115.8,1166.4 1115.9,1167.3 1116.0,1168.3 1116.1,1169.2 1116.2,1170.2 1116.3,1171.2 1116.4,1172.1 1116.5,1173.1 1116.6,1174.1 1116.7,1175.0 1116.9,1176.0 1117.0,1177.0 1117.1,1178.0 1117.2,1179.0 1117.3,1179.9 1117.4,1180.9 1117.5,1181.9 1117.6,1182.9 1117.8,1184.0 1117.9,1185.0 1118.0,1186.0 1118.1,1186.9 1118.2,1187.8 1118.3,1188.8 1118.4,1189.7 1118.6,1190.6 1118.7,1191.6 1118.8,1192.5 1118.9,1193.5 1119.1,1194.5 1119.2,1195.4 1119.3,1196.4 1119.4,1197.4 1119.6,1198.3 1119.7,1199.3 1119.8,1200.3 1120.0,1201.3 1120.1,1202.3 1120.2,1203.3 1120.3,1204.2 1120.5,1205.2 1120.6,1206.2 1120.7,1207.2 1120.9,1208.2 1121.0,1209.2 1121.1,1210.2 1121.2,1211.2 1121.4,1212.2 1121.5,1213.2 1121.6,1214.2 1121.7,1215.2 1121.8,1216.1 1122.0,1217.1 1122.1,1218.1 1122.2,1219.1 1122.3,1220.1 1122.4,1221.1 1122.5,1222.0 1122.6,1223.0 1122.7,1224.0 1122.8,1225.0 1122.9,1226.0 1123.0,1227.0 1123.1,1228.0 1123.2,1229.1 1123.3,1230.1 1123.4,1231.2 1123.4,1232.2 1123.5,1233.3 1123.6,1234.4 1123.7,1235.4 1123.8,1236.5 1123.9,1237.6 1123.9,1238.6 1124.0,1239.7 1124.1,1240.8 1124.2,1241.8 1124.3,1242.8 1124.3,1243.9 1124.4,1244.9 1124.5,1245.9 1124.5,1246.9 1124.6,1247.9 1124.7,1248.9 1124.7,1249.8 1124.8,1250.8 1124.9,1251.7 1124.9,1252.6 1125.0,1253.5 1125.1,1254.3 1125.1,1255.2 1125.2,1256.0 1125.2,1256.8 1125.3,1257.6 1125.3,1258.3 1125.4,1259.0 1125.5,1260.1 1125.5,1261.2 1125.6,1262.1 1125.7,1263.0 1125.7,1263.9 1125.8,1264.7 1125.8,1265.5 1125.9,1266.3 1125.9,1267.2 1126.0,1268.0 1126.1,1269.0 1126.2,1270.0 1126.3,1270.8 1126.4,1271.7 1126.5,1272.6 1126.6,1273.5 1126.8,1274.5 1126.9,1275.4 1127.0,1276.4 1127.2,1277.4 1127.3,1278.4 1127.5,1279.4 1127.6,1280.4 1127.8,1281.4 1127.9,1282.5 1128.1,1283.5 1128.3,1284.5 1128.4,1285.6 1128.6,1286.6 1128.8,1287.6 1129.0,1288.6 1129.1,1289.6 1129.3,1290.6 1129.5,1291.5 1129.6,1292.5 1129.8,1293.4 1130.0,1294.4 1130.2,1295.3 1130.3,1296.2 1130.5,1297.2 1130.7,1298.1 1130.9,1299.0 1131.1,1300.0 1131.3,1300.9 1131.5,1301.9 1131.7,1302.8 1131.9,1303.7 1132.1,1304.7 1132.3,1305.6 1132.5,1306.5 1132.7,1307.5 1132.9,1308.4 1133.1,1309.3 1133.3,1310.3 1133.5,1311.2 1133.7,1312.1 1134.0,1313.1 1134.2,1314.1 1134.4,1315.0 1134.7,1316.0 1135.0,1317.0 1135.2,1318.0 1135.5,1319.0 1135.8,1319.9 1136.0,1320.9 1136.3,1321.9 1136.6,1322.9 1136.8,1323.8 1137.1,1324.8 1137.3,1325.7 1137.6,1326.6 1137.8,1327.5 1138.0,1328.4 1138.2,1329.3 1138.4,1330.1 1138.6,1330.9 1138.7,1331.7 1138.9,1332.8 1139.1,1333.8 1139.2,1334.7 1139.4,1335.6 1139.5,1336.5 1139.6,1337.4 1139.7,1338.3 1139.7,1339.2 1139.8,1340.1 1139.8,1341.0 1139.7,1342.0 1139.6,1342.9 1139.4,1343.8 1139.1,1344.8 1138.7,1345.8 1138.3,1346.9 1137.8,1348.0 1137.4,1349.0 1136.9,1350.1 1136.5,1351.1 1136.2,1352.1 1135.9,1353.1 1135.6,1354.0 1135.5,1354.9 1135.5,1355.7 1135.7,1356.4 1136.0,1357.0 1136.4,1357.4 1136.9,1357.8 1137.5,1358.1 1138.2,1358.4 1138.9,1358.6 1139.8,1358.8 1140.7,1358.9 1141.6,1359.0 1142.7,1359.0 1143.7,1359.1 1144.8,1359.1 1145.9,1359.1 1147.1,1359.1 1148.3,1359.1 1149.4,1359.1 1150.6,1359.1 1151.7,1359.1 1152.8,1359.1 1153.9,1359.2 1155.0,1359.2 1156.0,1359.3 1157.0,1359.5 1157.9,1359.7 1158.9,1359.8 1159.8,1360.0 1160.8,1360.2 1161.7,1360.4 1162.7,1360.5 1163.6,1360.7 1164.5,1360.9 1165.5,1361.1 1166.4,1361.3 1167.4,1361.5 1168.3,1361.7 1169.2,1361.9 1170.2,1362.2 1171.1,1362.4 1172.0,1362.7 1172.9,1363.0 1173.9,1363.3 1174.8,1363.6 1175.7,1364.0 1176.6,1364.3 1177.5,1364.7 1178.3,1365.1 1179.2,1365.5 1180.0,1365.9 1180.9,1366.4 1181.7,1366.8 1182.5,1367.3 1183.4,1367.8 1184.2,1368.4 1185.0,1368.9 1185.8,1369.4 1186.6,1370.0 1187.4,1370.6 1188.3,1371.1 1189.1,1371.7 1189.9,1372.3 1190.7,1372.9 1191.5,1373.5 1192.3,1374.0 1193.1,1374.6 1193.9,1375.2 1194.7,1375.8 1195.5,1376.4 1196.4,1376.9 1197.2,1377.5 1198.0,1378.0 1198.8,1378.5 1199.6,1379.1 1200.5,1379.7 1201.3,1380.2 1202.1,1380.8 1202.9,1381.4 1203.7,1382.0 1204.5,1382.6 1205.3,1383.2 1206.2,1383.8 1207.0,1384.4 1207.8,1385.0 1208.6,1385.6 1209.4,1386.1 1210.2,1386.7 1211.1,1387.3 1211.9,1387.8 1212.7,1388.3 1213.5,1388.8 1214.4,1389.3 1215.2,1389.8 1216.0,1390.2 1216.9,1390.6 1217.7,1391.0 1218.6,1391.4 1219.5,1391.8 1220.4,1392.1 1221.3,1392.4 1222.2,1392.7 1223.1,1393.0 1224.0,1393.2 1224.9,1393.4 1225.8,1393.7 1226.7,1393.9 1227.6,1394.0 1228.5,1394.2 1229.5,1394.4 1230.4,1394.5 1231.3,1394.7 1232.3,1394.8 1233.2,1394.9 1234.2,1395.0 1235.2,1395.2 1236.2,1395.3 1237.2,1395.4 1238.2,1395.5 1239.2,1395.6 1240.1,1395.7 1241.0,1395.8 1241.9,1395.8 1242.9,1395.9 1243.8,1396.0 1244.8,1396.0 1245.7,1396.0 1246.7,1396.1 1247.7,1396.1 1248.7,1396.1 1249.7,1396.1 1250.7,1396.2 1251.7,1396.2 1252.7,1396.2 1253.7,1396.2 1254.7,1396.2 1255.8,1396.1 1256.8,1396.1 1257.8,1396.1 1258.8,1396.1 1259.9,1396.1 1260.9,1396.1 1261.9,1396.1 1262.9,1396.1 1264.0,1396.0 1265.0,1396.0 1266.0,1396.0 1267.0,1396.0 1268.0,1396.0 1269.0,1396.0 1270.0,1396.0 1271.0,1396.0 1271.9,1396.0 1272.8,1396.0 1273.7,1396.0 1274.6,1396.0 1275.4,1396.0 1276.3,1396.0 1277.1,1396.0 1278.0,1396.0 1278.8,1396.0 1279.6,1396.0 1280.5,1396.0 1281.3,1395.9 1282.1,1395.9 1283.0,1395.9 1283.9,1395.9 1284.7,1395.9 1285.6,1395.9 1286.5,1395.9 1287.5,1395.9 1288.4,1395.9 1289.4,1395.9 1290.5,1395.8 1291.5,1395.8 1292.6,1395.8 1293.7,1395.8 1294.9,1395.8 1296.1,1395.8 1297.3,1395.8 1298.6,1395.8 1300.0,1395.8 1300.6,1395.8 1301.2,1395.8 1301.8,1395.8 1302.4,1395.8 1303.0,1395.8 1303.6,1395.8 1304.3,1395.8 1304.9,1395.8 1305.6,1395.8 1306.3,1395.8 1307.0,1395.8 1307.7,1395.8 1308.4,1395.8 1309.1,1395.8 1309.8,1395.8 1310.6,1395.8 1311.3,1395.8 1312.1,1395.8 1312.9,1395.8 1313.6,1395.8 1314.4,1395.8 1315.2,1395.8 1316.0,1395.8 1316.9,1395.8 1317.7,1395.8 1318.5,1395.8 1319.4,1395.8 1320.2,1395.8 1321.1,1395.8 1321.9,1395.8 1322.8,1395.8 1323.7,1395.8 1324.6,1395.8 1325.5,1395.8 1326.4,1395.8 1327.3,1395.8 1328.3,1395.8 1329.2,1395.8 1330.1,1395.8 1331.1,1395.8 1332.0,1395.8 1333.0,1395.8 1334.0,1395.8 1335.0,1395.8 1335.9,1395.8 1336.9,1395.8 1337.9,1395.8 1338.9,1395.8 1339.9,1395.8 1340.9,1395.8 1342.0,1395.8 1343.0,1395.8 1344.0,1395.8 1345.1,1395.8 1346.1,1395.8 1347.2,1395.8 1348.2,1395.8 1349.3,1395.8 1350.3,1395.8 1351.4,1395.8 1352.5,1395.8 1353.5,1395.8 1354.6,1395.8 1355.7,1395.8 1356.8,1395.9 1357.9,1395.9 1359.0,1395.9 1360.1,1395.9 1361.2,1395.9 1362.3,1395.9 1363.4,1395.9 1364.6,1395.9 1365.7,1395.9 1366.8,1395.9 1367.9,1395.9 1369.1,1395.9 1370.2,1395.9 1371.3,1395.9 1372.5,1395.9 1373.6,1395.9 1374.8,1395.9 1375.9,1395.9 1377.1,1395.9 1378.2,1395.9 1379.4,1395.9 1380.5,1395.9 1381.7,1395.9 1382.8,1395.9 1384.0,1395.9 1385.2,1395.9 1386.3,1395.9 1387.5,1395.9 1388.6,1395.9 1389.8,1395.9 1391.0,1395.9 1392.1,1395.9 1393.3,1396.0 1394.5,1396.0 1395.7,1396.0 1396.8,1396.0 1398.0,1396.0 1399.2,1396.0 1400.3,1396.0 1401.5,1396.0 1402.7,1396.0 1403.8,1396.0 1405.0,1396.0 1406.2,1396.0 1407.3,1396.0 1408.5,1396.0 1409.6,1396.0 1410.8,1396.0 1412.0,1396.0 1413.1,1396.0 1414.3,1396.0 1415.4,1396.0 1416.6,1396.0 1417.7,1396.0 1418.9,1396.1 1420.0,1396.1 1421.2,1396.1 1422.3,1396.1 1423.5,1396.1 1424.6,1396.1 1425.7,1396.1 1426.9,1396.1 1428.0,1396.1 1429.1,1396.1 1430.2,1396.1 1431.4,1396.1 1432.5,1396.1 1433.6,1396.1 1434.7,1396.1 1435.8,1396.1 1436.9,1396.1 1438.0,1396.1 1439.1,1396.2 1440.2,1396.2 1441.3,1396.2 1442.3,1396.2 1443.4,1396.2 1444.5,1396.2 1445.6,1396.2 1446.6,1396.2 1447.7,1396.2 1448.7,1396.2 1449.8,1396.2 1450.8,1396.2 1451.8,1396.2 1452.9,1396.2 1453.9,1396.2 1454.9,1396.2 1455.9,1396.3 1456.9,1396.3 1457.9,1396.3 1458.9,1396.3 1459.9,1396.3 1460.8,1396.3 1461.8,1396.3 1462.8,1396.3 1463.7,1396.3 1464.7,1396.3 1465.6,1396.3 1466.6,1396.3 1467.5,1396.3 1468.4,1396.3 1469.3,1396.4 1470.2,1396.4 1471.1,1396.4 1472.0,1396.4 1472.9,1396.4 1473.8,1396.4 1474.6,1396.4 1475.5,1396.4 1476.3,1396.4 1477.1,1396.4 1478.0,1396.4 1478.8,1396.4 1479.6,1396.4 1480.4,1396.5 1481.2,1396.5 1482.0,1396.5 1482.7,1396.5 1483.5,1396.5 1484.3,1396.5 1485.0,1396.5 1486.2,1396.5 1487.5,1396.5 1488.7,1396.5 1489.9,1396.6 1491.1,1396.6 1492.3,1396.6 1493.5,1396.6 1494.7,1396.6 1495.8,1396.6 1497.0,1396.6 1498.1,1396.6 1499.3,1396.6 1500.4,1396.7 1501.5,1396.7 1502.7,1396.7 1503.8,1396.7 1504.9,1396.7 1506.0,1396.7 1507.1,1396.7 1508.2,1396.7 1509.2,1396.7 1510.3,1396.8 1511.3,1396.8 1512.4,1396.8 1513.4,1396.8 1514.5,1396.8 1515.5,1396.8 1516.5,1396.8 1517.5,1396.8 1518.5,1396.8 1519.5,1396.9 1520.5,1396.9 1521.5,1396.9 1522.5,1396.9 1523.4,1396.9 1524.4,1396.9 1525.3,1396.9 1526.3,1397.0 1527.2,1397.0 1528.1,1397.0 1529.1,1397.0 1530.0,1397.0 1530.9,1397.1 1531.8,1397.1 1532.7,1397.1 1533.6,1397.1 1534.4,1397.1 1535.3,1397.2 1536.2,1397.2 1537.0,1397.2 1537.9,1397.2 1538.7,1397.3 1539.5,1397.3 1540.4,1397.3 1541.2,1397.3 1542.0,1397.4 1542.8,1397.4 1543.6,1397.4 1544.4,1397.5 1545.2,1397.5 1546.0,1397.5 1546.7,1397.6 1547.5,1397.6 1548.2,1397.7 1549.0,1397.7 1550.2,1397.8 1551.3,1397.8 1552.4,1397.9 1553.4,1398.0 1554.5,1398.1 1555.5,1398.2 1556.4,1398.3 1557.4,1398.4 1558.3,1398.5 1559.2,1398.6 1560.1,1398.7 1561.0,1398.8 1561.8,1398.9 1562.7,1399.0 1563.6,1399.1 1564.5,1399.2 1565.3,1399.3 1566.2,1399.4 1567.1,1399.5 1568.1,1399.5 1569.0,1399.6 1570.0,1399.7 1570.9,1399.8 1572.0,1399.8 1573.0,1399.9 1573.9,1399.9 1574.8,1400.0 1575.7,1400.0 1576.6,1400.1 1577.5,1400.1 1578.4,1400.1 1579.4,1400.1 1580.3,1400.2 1581.3,1400.2 1582.2,1400.2 1583.2,1400.2 1584.2,1400.2 1585.2,1400.2 1586.2,1400.2 1587.2,1400.2 1588.2,1400.2 1589.2,1400.3 1590.2,1400.3 1591.2,1400.3 1592.2,1400.3 1593.2,1400.3 1594.2,1400.3 1595.3,1400.3 1596.3,1400.3 1597.3,1400.3 1598.3,1400.3 1599.3,1400.3 1600.3,1400.3 1601.3,1400.3 1602.3,1400.3 1603.3,1400.3 1604.3,1400.3 1605.2,1400.3 1606.2,1400.3 1607.2,1400.3 1608.1,1400.4 1609.1,1400.4 1610.0,1400.4 1611.0,1400.4 1612.0,1400.5 1613.0,1400.5 1613.9,1400.5 1614.9,1400.5 1615.8,1400.6 1616.8,1400.6 1617.7,1400.6 1618.6,1400.7 1619.6,1400.7 1620.5,1400.7 1621.4,1400.8 1622.3,1400.8 1623.2,1400.8 1624.1,1400.9 1625.1,1400.9 1626.0,1400.9 1626.9,1401.0 1627.8,1401.0 1628.8,1401.0 1629.7,1401.1 1630.7,1401.1 1631.6,1401.2 1632.6,1401.2 1633.6,1401.2 1634.6,1401.3 1635.6,1401.3 1636.7,1401.3 1637.7,1401.4 1638.8,1401.4 1639.9,1401.5 1641.0,1401.5 1641.8,1401.5 1642.7,1401.6 1643.5,1401.6 1644.4,1401.6 1645.2,1401.6 1646.1,1401.7 1647.0,1401.7 1647.9,1401.7 1648.7,1401.8 1649.6,1401.8 1650.5,1401.8 1651.5,1401.9 1652.4,1401.9 1653.3,1401.9 1654.2,1402.0 1655.1,1402.0 1656.1,1402.0 1657.0,1402.1 1658.0,1402.1 1658.9,1402.1 1659.9,1402.2 1660.9,1402.2 1661.8,1402.2 1662.8,1402.3 1663.8,1402.3 1664.8,1402.3 1665.8,1402.4 1666.8,1402.4 1667.8,1402.5 1668.8,1402.5 1669.8,1402.5 1670.8,1402.6 1671.8,1402.6 1672.8,1402.6 1673.8,1402.7 1674.9,1402.7 1675.9,1402.7 1676.9,1402.8 1677.9,1402.8 1679.0,1402.8 1680.0,1402.9 1681.0,1402.9 1682.1,1402.9 1683.1,1403.0 1684.2,1403.0 1685.2,1403.0 1686.3,1403.1 1687.3,1403.1 1688.4,1403.1 1689.4,1403.2 1690.5,1403.2 1691.5,1403.2 1692.6,1403.3 1693.7,1403.3 1694.7,1403.3 1695.8,1403.4 1696.8,1403.4 1697.9,1403.4 1698.9,1403.5 1700.0,1403.5 1700.9,1403.5 1701.8,1403.6 1702.8,1403.6 1703.7,1403.6 1704.6,1403.6 1705.5,1403.7 1706.5,1403.7 1707.4,1403.7 1708.3,1403.7 1709.3,1403.8 1710.2,1403.8 1711.1,1403.8 1712.1,1403.8 1713.0,1403.9 1714.0,1403.9 1714.9,1403.9 1715.9,1403.9 1716.9,1404.0 1717.8,1404.0 1718.8,1404.0 1719.7,1404.0 1720.7,1404.1 1721.7,1404.1 1722.6,1404.1 1723.6,1404.1 1724.6,1404.2 1725.6,1404.2 1726.5,1404.2 1727.5,1404.2 1728.5,1404.3 1729.5,1404.3 1730.5,1404.3 1731.4,1404.3 1732.4,1404.4 1733.4,1404.4 1734.4,1404.4 1735.4,1404.4 1736.4,1404.5 1737.4,1404.5 1738.4,1404.5 1739.4,1404.5 1740.4,1404.6 1741.4,1404.6 1742.4,1404.6 1743.4,1404.6 1744.4,1404.7 1745.4,1404.7 1746.4,1404.7 1747.4,1404.7 1748.4,1404.8 1749.4,1404.8 1750.4,1404.8 1751.5,1404.8 1752.5,1404.8 1753.5,1404.9 1754.5,1404.9 1755.5,1404.9 1756.5,1404.9 1757.5,1405.0 1758.6,1405.0 1759.6,1405.0 1760.6,1405.0 1761.6,1405.0 1762.6,1405.1 1763.7,1405.1 1764.7,1405.1 1765.7,1405.1 1766.7,1405.1 1767.7,1405.2 1768.8,1405.2 1769.8,1405.2 1770.8,1405.2 1771.8,1405.2 1772.8,1405.3 1773.9,1405.3 1774.9,1405.3 1775.9,1405.3 1776.9,1405.3 1778.0,1405.4 1779.0,1405.4 1780.0,1405.4 1781.0,1405.4 1781.9,1405.4 1782.9,1405.4 1783.8,1405.5 1784.8,1405.5 1785.8,1405.5 1786.8,1405.5 1787.8,1405.5 1788.7,1405.5 1789.7,1405.5 1790.7,1405.6 1791.7,1405.6 1792.7,1405.6 1793.7,1405.6 1794.7,1405.6 1795.7,1405.6 1796.7,1405.6 1797.7,1405.6 1798.7,1405.7 1799.7,1405.7 1800.8,1405.7 1801.8,1405.7 1802.8,1405.7 1803.8,1405.7 1804.8,1405.7 1805.8,1405.7 1806.9,1405.7 1807.9,1405.7 1808.9,1405.7 1809.9,1405.8 1811.0,1405.8 1812.0,1405.8 1813.0,1405.8 1814.1,1405.8 1815.1,1405.8 1816.1,1405.8 1817.1,1405.8 1818.2,1405.8 1819.2,1405.8 1820.2,1405.8 1821.3,1405.8 1822.3,1405.9 1823.3,1405.9 1824.4,1405.9 1825.4,1405.9 1826.4,1405.9 1827.4,1405.9 1828.5,1405.9 1829.5,1405.9 1830.5,1405.9 1831.5,1405.9 1832.5,1405.9 1833.6,1405.9 1834.6,1405.9 1835.6,1406.0 1836.6,1406.0 1837.6,1406.0 1838.6,1406.0 1839.6,1406.0 1840.7,1406.0 1841.7,1406.0 1842.7,1406.0 1843.7,1406.0 1844.7,1406.0 1845.7,1406.1 1846.6,1406.1 1847.6,1406.1 1848.6,1406.1 1849.6,1406.1 1850.6,1406.1 1851.6,1406.1 1852.5,1406.1 1853.5,1406.1 1854.5,1406.2 1855.4,1406.2 1856.4,1406.2 1857.3,1406.2 1858.3,1406.2 1859.2,1406.2 1860.2,1406.3 1861.1,1406.3 1862.1,1406.3 1863.0,1406.3 1863.9,1406.3 1864.8,1406.3 1865.7,1406.4 1866.6,1406.4 1867.6,1406.4 1868.5,1406.4 1869.3,1406.4 1870.2,1406.5 1871.1,1406.5 1872.0,1406.5 1873.1,1406.5 1874.2,1406.6 1875.2,1406.6 1876.3,1406.6 1877.4,1406.7 1878.4,1406.7 1879.5,1406.7 1880.5,1406.8 1881.5,1406.8 1882.6,1406.8 1883.6,1406.9 1884.6,1406.9 1885.6,1407.0 1886.6,1407.0 1887.6,1407.0 1888.6,1407.1 1889.5,1407.1 1890.5,1407.2 1891.5,1407.2 1892.5,1407.2 1893.4,1407.3 1894.4,1407.3 1895.3,1407.4 1896.3,1407.4 1897.3,1407.5 1898.2,1407.5 1899.2,1407.6 1900.1,1407.6 1901.0,1407.6 1902.0,1407.7 1902.9,1407.7 1903.9,1407.8 1904.8,1407.8 1905.8,1407.9 1906.7,1407.9 1907.6,1408.0 1908.6,1408.0 1909.5,1408.0 1910.5,1408.1 1911.4,1408.1 1912.4,1408.2 1913.3,1408.2 1914.3,1408.3 1915.2,1408.3 1916.2,1408.3 1917.1,1408.4 1918.1,1408.4 1919.1,1408.5 1920.0,1408.5 1921.0,1408.5 1922.0,1408.6 1923.0,1408.6 1924.0,1408.6 1924.9,1408.7 1925.9,1408.7 1927.0,1408.7 1928.0,1408.7 1929.0,1408.8 1930.0,1408.8 1930.9,1408.8 1931.9,1408.8 1932.8,1408.9 1933.8,1408.9 1934.8,1408.9 1935.7,1408.9 1936.7,1408.9 1937.7,1409.0 1938.7,1409.0 1939.6,1409.0 1940.6,1409.0 1941.6,1409.0 1942.6,1409.0 1943.6,1409.1 1944.6,1409.1 1945.6,1409.1 1946.6,1409.1 1947.6,1409.1 1948.6,1409.1 1949.6,1409.1 1950.6,1409.1 1951.6,1409.1 1952.6,1409.2 1953.6,1409.2 1954.6,1409.2 1955.6,1409.2 1956.7,1409.2 1957.7,1409.2 1958.7,1409.2 1959.7,1409.2 1960.7,1409.2 1961.7,1409.2 1962.7,1409.2 1963.8,1409.2 1964.8,1409.2 1965.8,1409.3 1966.8,1409.3 1967.8,1409.3 1968.8,1409.3 1969.8,1409.3 1970.9,1409.3 1971.9,1409.3 1972.9,1409.3 1973.9,1409.3 1974.9,1409.3 1975.9,1409.3 1976.9,1409.3 1977.9,1409.3 1978.9,1409.3 1979.9,1409.3 1980.9,1409.3 1981.8,1409.3 1982.8,1409.3 1983.8,1409.4 1984.8,1409.4 1985.8,1409.4 1986.7,1409.4 1987.7,1409.4 1988.7,1409.4 1989.6,1409.4 1990.6,1409.4 1991.5,1409.4 1992.5,1409.4 1993.4,1409.4 1994.4,1409.4 1995.3,1409.5 1996.2,1409.5 1997.2,1409.5 1998.1,1409.5 1999.0,1409.5 2000.0,1409.5 2001.1,1409.5 2002.1,1409.5 2003.1,1409.6 2004.1,1409.6 2005.1,1409.6 2006.1,1409.6 2007.1,1409.6 2008.0,1409.6 2009.0,1409.7 2009.9,1409.7 2010.9,1409.7 2011.8,1409.7 2012.7,1409.7 2013.7,1409.7 2014.6,1409.8 2015.5,1409.8 2016.4,1409.8 2017.3,1409.8 2018.2,1409.8 2019.2,1409.9 2020.1,1409.9 2021.0,1409.9 2021.9,1409.9 2022.8,1409.9 2023.7,1410.0 2024.6,1410.0 2025.5,1410.0 2026.5,1410.0 2027.4,1410.0 2028.3,1410.0 2029.2,1410.1 2030.2,1410.1 2031.1,1410.1 2032.1,1410.1 2033.1,1410.1 2034.0,1410.2 2035.0,1410.2 2036.0,1410.2 2037.0,1410.2 2038.0,1410.2 2039.0,1410.2 2040.1,1410.3 2041.1,1410.3 2042.2,1410.3 2043.2,1410.3 2044.3,1410.3 2045.4,1410.3 2046.5,1410.4 2047.7,1410.4 2048.8,1410.4 2050.0,1410.4 2050.8,1410.4 2051.6,1410.4 2052.4,1410.4 2053.2,1410.4 2054.1,1410.4 2054.9,1410.5 2055.7,1410.5 2056.6,1410.5 2057.4,1410.5 2058.3,1410.5 2059.2,1410.5 2060.0,1410.5 2060.9,1410.5 2061.8,1410.5 2062.7,1410.5 2063.6,1410.5 2064.5,1410.5 2065.4,1410.6 2066.3,1410.6 2067.2,1410.6 2068.2,1410.6 2069.1,1410.6 2070.0,1410.6 2071.0,1410.6 2071.9,1410.6 2072.9,1410.6 2073.8,1410.6 2074.8,1410.6 2075.8,1410.6 2076.7,1410.6 2077.7,1410.7 2078.7,1410.7 2079.7,1410.7 2080.7,1410.7 2081.7,1410.7 2082.7,1410.7 2083.6,1410.7 2084.7,1410.7 2085.7,1410.7 2086.7,1410.7 2087.7,1410.7 2088.7,1410.7 2089.7,1410.7 2090.7,1410.7 2091.8,1410.7 2092.8,1410.7 2093.8,1410.8 2094.9,1410.8 2095.9,1410.8 2096.9,1410.8 2098.0,1410.8 2099.0,1410.8 2100.1,1410.8 2101.1,1410.8 2102.2,1410.8 2103.2,1410.8 2104.3,1410.8 2105.3,1410.8 2106.4,1410.8 2107.4,1410.8 2108.5,1410.8 2109.5,1410.8 2110.6,1410.8 2111.6,1410.8 2112.7,1410.9 2113.8,1410.9 2114.8,1410.9 2115.9,1410.9 2116.9,1410.9 2118.0,1410.9 2119.1,1410.9 2120.1,1410.9 2121.2,1410.9 2122.2,1410.9 2123.3,1410.9 2124.4,1410.9 2125.4,1410.9 2126.5,1410.9 2127.5,1410.9 2128.6,1410.9 2129.6,1410.9 2130.7,1410.9 2131.7,1410.9 2132.8,1410.9 2133.8,1411.0 2134.9,1411.0 2135.9,1411.0 2137.0,1411.0 2138.0,1411.0 2139.1,1411.0 2140.1,1411.0 2141.1,1411.0 2142.2,1411.0 2143.2,1411.0 2144.2,1411.0 2145.3,1411.0 2146.3,1411.0 2147.3,1411.0 2148.3,1411.0 2149.3,1411.0 2150.3,1411.0 2151.3,1411.0 2152.3,1411.0 2153.3,1411.0 2154.3,1411.0 2155.3,1411.1 2156.3,1411.1 2157.3,1411.1 2158.3,1411.1 2159.2,1411.1 2160.2,1411.1 2161.2,1411.1 2162.1,1411.1 2163.1,1411.1 2164.1,1411.1 2165.0,1411.1 2166.0,1411.1 2167.1,1411.1 2168.2,1411.1 2169.3,1411.1 2170.4,1411.1 2171.5,1411.1 2172.7,1411.1 2173.8,1411.1 2175.0,1411.1 2176.2,1411.2 2177.4,1411.2 2178.6,1411.2 2179.8,1411.2 2181.1,1411.2 2182.3,1411.2 2183.6,1411.2 2184.8,1411.2 2186.1,1411.2 2187.4,1411.2 2188.6,1411.2 2189.9,1411.2 2191.2,1411.2 2192.5,1411.2 2193.8,1411.2 2195.1,1411.2 2196.4,1411.2 2197.8,1411.3 2199.1,1411.3 2200.4,1411.3 2201.7,1411.3 2203.0,1411.3 2204.4,1411.3 2205.7,1411.3 2207.0,1411.3 2208.3,1411.3 2209.6,1411.3 2210.9,1411.3 2212.2,1411.3 2213.5,1411.3 2214.8,1411.3 2216.1,1411.3 2217.4,1411.3 2218.7,1411.3 2219.9,1411.3 2221.2,1411.3 2222.4,1411.4 2223.7,1411.4 2224.9,1411.4 2226.1,1411.4 2227.3,1411.4 2228.5,1411.4 2229.7,1411.4 2230.9,1411.4 2232.0,1411.4 2233.2,1411.4 2234.3,1411.4 2235.4,1411.4 2236.5,1411.4 2237.6,1411.4 2238.6,1411.4 2239.7,1411.4 2240.7,1411.4 2241.7,1411.4 2242.7,1411.4 2243.7,1411.4 2244.6,1411.4 2245.5,1411.4 2246.4,1411.4 2247.3,1411.5 2248.1,1411.5 2249.0,1411.5 2249.8,1411.5 2250.6,1411.5 2251.3,1411.5 2252.0,1411.5 2252.7,1411.5 2253.4,1411.5 2254.0,1411.5 2254.6,1411.5 2255.2,1411.5 2255.8,1411.5 2256.3,1411.5 2256.8,1411.5 2257.2,1411.5 2257.7,1411.5 2258.1,1411.5 2258.4,1411.5 2258.7,1411.5 2259.0,1411.5 2259.3,1411.5 2259.5,1411.5 2259.7,1411.5 2259.8,1411.5 2259.9,1411.5 2260.0,1411.5 2260.0,1411.5" marker-start="url(#mC)" marker-mid="url(#mC)" marker-end="url(#mC)"/><polyline fill="none" shape-rendering="crispEdges" stroke="#f00" stroke-width="2" points="337.0,55.5 337.1,55.8 337.2,56.6 337.4,57.9 337.7,59.4 338.1,61.2 338.4,63.1 338.8,65.0 339.1,66.8 339.4,68.4 339.7,69.9 339.9,71.4 340.1,72.9 340.3,74.3 340.5,75.7 340.8,77.1 341.1,78.5 341.5,79.8 342.0,81.2 342.6,82.5 343.2,83.8 343.9,85.1 344.6,86.4 345.3,87.7 346.0,89.0 346.7,90.2 347.4,91.5 348.2,92.7 349.0,94.0 349.7,95.2 350.5,96.5 351.3,97.7 352.1,99.0 352.8,100.3 353.5,101.6 354.2,102.9 354.9,104.2 355.6,105.5 356.3,106.8 357.0,108.1 357.7,109.4 358.4,110.7 359.0,112.0 359.7,113.3 360.3,114.6 360.9,115.9 361.5,117.2 362.2,118.5 362.8,119.8 363.4,121.1 364.0,122.4 364.6,123.8 365.3,125.1 365.9,126.4 366.5,127.7 367.2,129.0 367.9,130.2 368.6,131.5 369.3,132.7 370.1,134.0 370.8,135.2 371.6,136.5 372.3,137.7 373.0,139.0 373.6,140.3 374.3,141.6 374.9,142.9 375.5,144.2 376.1,145.5 376.7,146.8 377.3,148.1 377.9,149.4 378.5,150.7 379.1,152.0 379.7,153.3 380.3,154.6 380.9,155.9 381.5,157.2 382.2,158.5 382.8,159.8 383.5,161.1 384.2,162.5 384.9,163.8 385.6,165.1 386.3,166.4 387.0,167.7 387.8,169.0 388.5,170.3 389.2,171.6 389.9,172.9 390.6,174.2 391.3,175.5 392.0,176.8 392.8,178.1 393.5,179.4 394.2,180.7 394.9,181.9 395.7,183.2 396.4,184.4 397.2,185.7 397.9,186.9 398.7,188.2 399.5,189.4 400.3,190.6 401.2,191.9 402.0,193.2 402.9,194.5 403.8,195.7 404.7,196.9 405.6,198.1 406.5,199.1 407.5,200.1 408.7,201.1 409.8,202.0 410.9,202.8 412.0,203.7 413.0,204.7 414.0,205.7 415.0,206.8 416.1,207.8 417.1,208.8 418.2,209.7 419.2,210.6 420.3,211.5 421.6,212.4 422.7,213.2 423.8,214.0 425.0,214.8 426.2,215.6 427.4,216.4 428.7,217.3 430.0,218.0 431.3,218.8 432.6,219.5 433.9,220.1 435.2,220.7 436.5,221.3 437.8,221.9 439.2,222.4 440.5,222.9 441.9,223.5 443.2,224.0 444.6,224.5 446.0,225.0 447.3,225.5 448.7,226.0 450.1,226.4 451.5,226.8 452.9,227.2 454.4,227.6 455.8,228.0 457.3,228.3 458.8,228.6 460.2,229.0 461.6,229.3 463.0,229.7 464.4,230.1 465.8,230.4 467.2,230.8 468.5,231.2 469.9,231.5 471.4,231.8 472.8,232.1 474.3,232.4 475.7,232.7 477.2,233.0 478.6,233.2 480.1,233.5 481.5,233.7 482.9,233.9 484.3,234.1 485.7,234.3 487.1,234.5 488.7,234.7 490.2,235.0 491.4,235.2 492.7,235.4 494.1,235.7 495.5,236.0 496.9,236.3 498.4,236.6 499.9,236.9 501.4,237.2 503.0,237.5 504.5,237.8 506.1,238.0 507.7,238.3 509.2,238.6 510.8,238.8 512.1,239.0 513.6,239.2 515.0,239.4 516.4,239.6 517.8,239.8 519.3,240.0 520.7,240.1 522.2,240.3 523.7,240.5 525.2,240.6 526.7,240.8 528.2,241.0 529.8,241.1 531.3,241.3 532.9,241.4 534.4,241.6 536.0,241.8 537.6,241.9 539.0,242.1 540.4,242.3 541.9,242.4 543.4,242.6 544.9,242.7 546.5,242.9 548.0,243.0 549.6,243.2 551.2,243.3 552.8,243.5 554.3,243.7 555.9,243.8 557.5,244.0 559.1,244.1 560.6,244.3 562.2,244.4 563.7,244.6 565.2,244.7 566.7,244.8 568.1,245.0 569.5,245.1 570.9,245.3 572.2,245.4 573.5,245.5 575.0,245.7 576.6,245.8 578.1,246.0 579.5,246.1 580.8,246.2 582.1,246.4 583.4,246.5 584.8,246.6 586.2,246.7 587.7,246.9 589.3,247.1 591.0,247.2 592.6,247.4 593.7,247.5 594.8,247.6 595.9,247.7 597.1,247.8 598.3,247.9 599.5,248.1 600.8,248.2 602.1,248.3 603.4,248.5 604.8,248.6 606.1,248.7 607.5,248.9 609.0,249.0 610.4,249.2 611.9,249.3 613.4,249.5 614.9,249.6 616.5,249.8 618.0,249.9 619.6,250.1 621.2,250.2 622.8,250.4 624.4,250.6 626.0,250.7 627.6,250.9 629.3,251.1 630.9,251.2 632.6,251.4 634.2,251.6 635.9,251.7 637.5,251.9 639.2,252.1 640.8,252.2 642.5,252.4 644.1,252.6 645.7,252.7 647.3,252.9 649.0,253.0 650.6,253.2 652.2,253.4 653.7,253.5 655.3,253.7 656.9,253.8 658.4,254.0 659.9,254.1 661.4,254.3 662.9,254.4 664.4,254.6 665.9,254.8 667.4,254.9 668.9,255.1 670.4,255.2 671.9,255.4 673.4,255.5 674.9,255.7 676.4,255.8 677.9,256.0 679.5,256.1 681.0,256.3 682.5,256.4 684.0,256.6 685.5,256.7 687.0,256.9 688.5,257.0 690.0,257.2 691.5,257.3 693.1,257.5 694.6,257.6 696.1,257.8 697.6,257.9 699.1,258.1 700.6,258.2 702.1,258.4 703.6,258.5 705.0,258.7 706.5,258.8 708.0,259.0 709.5,259.1 711.0,259.3 712.4,259.4 713.9,259.6 715.4,259.7 716.8,259.9 718.3,260.0 719.7,260.2 721.2,260.3 722.6,260.4 724.0,260.6 725.4,260.7 726.9,260.9 728.3,261.0 729.7,261.2 731.3,261.3 732.9,261.4 734.4,261.6 735.9,261.7 737.5,261.8 739.0,262.0 740.5,262.1 742.1,262.2 743.6,262.3 745.1,262.4 746.6,262.6 748.1,262.7 749.6,262.8 751.0,262.9 752.5,263.0 754.0,263.1 755.5,263.2 757.0,263.3 758.4,263.5 759.9,263.6 761.4,263.7 762.8,263.8 764.3,264.0 765.8,264.1 767.2,264.3 768.7,264.4 770.2,264.6 771.6,264.7 773.1,264.9 774.6,265.1 776.0,265.3 777.5,265.5 779.0,265.7 780.4,265.9 781.9,266.2 783.4,266.4 784.9,266.7 786.3,266.9 787.8,267.2 789.3,267.5 790.8,267.8 792.2,268.1 793.7,268.4 795.2,268.7 796.7,269.0 798.2,269.3 799.7,269.7 801.1,270.0 802.6,270.4 804.1,270.7 805.6,271.1 807.1,271.5 808.6,271.8 810.0,272.2 811.5,272.6 813.0,272.9 814.5,273.3 815.9,273.7 817.4,274.1 818.9,274.5 820.3,274.9 821.8,275.3 823.2,275.7 824.6,276.0 826.1,276.4 827.5,276.8 828.9,277.2 830.3,277.6 831.7,278.0 833.1,278.4 834.5,278.7 835.9,279.1 837.2,279.5 838.7,279.9 840.2,280.3 841.8,280.7 843.3,281.1 844.8,281.5 846.4,282.0 847.9,282.4 849.4,282.8 851.0,283.2 852.5,283.6 854.0,284.1 855.5,284.5 857.0,284.9 858.5,285.4 860.0,285.8 861.4,286.2 862.9,286.6 864.3,287.1 865.8,287.5 867.2,287.9 868.5,288.4 869.9,288.8 871.3,289.2 872.6,289.6 873.9,290.1 875.2,290.5 876.4,290.9 877.6,291.4 878.8,291.8 880.0,292.2 881.6,292.8 883.1,293.4 884.5,293.9 885.9,294.5 887.2,295.1 888.4,295.6 889.7,296.2 890.9,296.7 892.2,297.3 893.4,297.9 894.7,298.5 896.1,299.2 897.5,299.8 899.0,300.5 900.4,301.2 901.5,301.7 902.8,302.3 904.0,302.8 905.3,303.4 906.7,304.1 908.1,304.7 909.5,305.3 910.9,306.0 912.4,306.6 913.9,307.3 915.4,308.0 916.9,308.7 918.4,309.4 919.9,310.1 921.4,310.8 922.9,311.5 924.4,312.2 925.9,312.9 927.3,313.6 928.8,314.3 930.2,315.0 931.5,315.7 932.8,316.4 934.1,317.1 935.3,317.7 936.5,318.4 937.6,319.0 938.7,319.7 939.7,320.3 941.0,321.2 942.4,322.2 943.7,323.1 944.9,324.1 946.0,325.0 947.0,326.0 948.0,326.9 949.0,327.9 950.1,328.8 951.2,329.7 952.3,330.7 953.4,331.6 954.5,332.5 955.6,333.3 956.8,334.2 957.9,335.0 959.0,335.9 960.1,336.8 961.3,337.7 962.4,338.6 963.6,339.6 964.8,340.6 965.9,341.6 966.9,342.5 968.0,343.5 969.1,344.5 970.1,345.5 971.2,346.5 972.3,347.6 973.4,348.7 974.6,349.8 975.7,350.9 976.8,352.0 977.9,353.2 978.9,354.3 980.0,355.4 981.0,356.5 982.1,357.6 983.0,358.6 984.0,359.7 985.0,360.8 986.1,362.0 987.1,363.2 988.1,364.3 989.0,365.5 990.0,366.6 990.9,367.8 991.8,368.9 992.7,370.0 993.6,371.2 994.5,372.3 995.3,373.5 996.2,374.6 997.1,375.8 998.0,377.0 998.9,378.2 999.8,379.4 1000.7,380.6 1001.5,381.8 1002.4,383.0 1003.2,384.2 1004.0,385.4 1004.8,386.6 1005.6,387.9 1006.4,389.2 1007.1,390.4 1007.8,391.7 1008.5,393.0 1009.2,394.3 1009.9,395.6 1010.6,396.9 1011.3,398.2 1012.0,399.6 1012.7,400.9 1013.4,402.2 1014.1,403.5 1014.8,404.7 1015.5,406.0 1016.2,407.2 1016.9,408.5 1017.6,409.8 1018.3,411.0 1019.0,412.3 1019.7,413.6 1020.4,414.9 1021.1,416.3 1021.7,417.6 1022.3,418.9 1022.9,420.2 1023.5,421.5 1024.1,422.8 1024.7,424.2 1025.3,425.5 1025.9,426.9 1026.5,428.3 1027.0,429.7 1027.6,431.1 1028.2,432.5 1028.8,434.0 1029.3,435.4 1029.8,436.8 1030.3,438.2 1030.7,439.6 1031.1,441.1 1031.5,442.6 1031.9,444.1 1032.3,445.6 1032.7,447.2 1033.1,448.7 1033.5,450.2 1034.0,451.7 1034.4,453.2 1034.9,454.5 1035.4,455.9 1036.0,457.2 1036.6,458.3 1037.3,459.5 1038.1,460.6 1039.2,461.8 1040.4,462.8 1041.7,463.7 1042.9,464.5 1044.2,465.3 1045.5,466.1 1046.7,466.9 1047.8,467.8 1048.8,468.7 1049.7,469.8 1050.5,471.1 1051.2,472.4 1051.8,473.7 1052.3,475.1 1052.8,476.5 1053.3,477.9 1054.4,481.1 1055.4,484.3 1056.4,487.7 1057.4,491.1 1058.3,494.4 1059.2,497.7 1060.1,501.0 1061.0,504.3 1061.8,507.8 1062.6,511.2 1063.3,514.5 1064.0,517.9 1064.7,521.3 1065.4,524.9 1066.1,528.4 1066.8,531.9 1067.5,535.2 1068.1,538.6 1068.8,541.9 1069.4,545.3 1070.1,548.8 1070.7,552.3 1071.2,555.8 1071.7,559.1 1072.2,562.5 1072.6,565.9 1073.0,569.4 1073.5,572.9 1073.9,576.4 1074.4,579.9 1074.9,583.4 1075.4,586.9 1075.9,590.5 1076.5,594.1 1077.1,597.7 1077.7,601.3 1078.3,604.8 1078.9,608.2 1079.5,611.9 1080.1,615.5 1080.6,618.9 1081.1,622.3 1081.6,626.0 1082.1,629.4 1082.5,632.8 1082.9,636.1 1083.4,639.7 1083.8,643.1 1084.2,646.6 1084.6,650.3 1085.0,654.0 1085.4,657.8 1085.9,661.6 1086.3,665.4 1086.7,669.2 1087.2,672.9 1087.6,676.5 1088.0,680.0 1088.4,683.5 1088.8,686.9 1089.3,690.3 1089.7,693.7 1090.1,697.1 1090.6,700.5 1091.0,703.9 1091.4,707.3 1091.9,710.8 1092.3,714.2 1092.7,717.7 1093.1,721.2 1093.6,724.8 1094.0,728.4 1094.4,731.7 1094.8,735.1 1095.2,738.5 1095.5,742.0 1095.9,745.4 1096.3,749.0 1096.7,752.5 1097.1,756.1 1097.5,759.6 1097.9,763.2 1098.3,766.8 1098.6,770.3 1099.0,773.8 1099.4,777.3 1099.7,780.7 1100.1,784.1 1100.5,787.5 1100.8,791.0 1101.2,794.6 1101.6,798.1 1101.9,801.6 1102.3,805.1 1102.7,808.5 1103.0,812.0 1103.4,815.4 1103.7,818.8 1104.1,822.2 1104.4,825.6 1104.7,829.0 1105.0,832.4 1105.2,835.8 1105.5,839.3 1105.7,842.8 1106.0,846.3 1106.2,849.8 1106.3,853.3 1106.5,856.8 1106.7,860.3 1106.8,863.8 1107.0,867.2 1107.1,870.7 1107.3,874.2 1107.5,877.7 1107.6,881.2 1107.8,884.7 1108.0,888.2 1108.2,891.7 1108.5,895.2 1108.7,898.7 1108.9,902.2 1109.2,905.7 1109.4,909.1 1109.7,912.6 1109.9,916.1 1110.1,919.6 1110.3,923.1 1110.6,926.6 1110.8,930.1 1110.9,933.6 1111.1,937.1 1111.3,940.6 1111.4,944.1 1111.6,947.6 1111.7,951.2 1111.9,954.7 1112.0,958.3 1112.1,961.8 1112.2,965.3 1112.3,968.8 1112.4,972.2 1112.5,975.6 1112.6,978.9 1112.7,982.6 1112.8,986.3 1112.8,990.0 1112.9,993.6 1112.9,997.2 1113.0,1000.7 1113.0,1004.2 1113.0,1007.6 1113.0,1011.0 1113.0,1014.3 1113.0,1018.0 1113.0,1021.6 1113.0,1025.3 1113.0,1029.0 1113.0,1032.6 1113.0,1036.1 1112.9,1039.5 1112.8,1043.1 1112.6,1046.4 1112.3,1049.9 1111.8,1053.5 1111.2,1056.9 1110.6,1060.2 1110.2,1062.0 1109.9,1063.5 1109.5,1065.0 1109.2,1066.5 1108.8,1068.0 1108.4,1069.5 1108.0,1071.0 1107.6,1072.5 1107.2,1074.0 1106.7,1075.5 1106.2,1076.9 1105.7,1078.3 1105.2,1079.6 1104.6,1080.9 1103.9,1082.4 1103.3,1083.8 1102.6,1085.2 1101.9,1086.5 1101.1,1087.9 1100.4,1089.2 1099.6,1090.4 1098.7,1091.6 1097.9,1092.7 1097.0,1093.7 1096.1,1094.6 1095.0,1095.6 1093.7,1096.4 1092.3,1097.1 1090.9,1097.6 1089.5,1098.2 1088.1,1098.7 1086.8,1099.3 1085.6,1100.0 1084.3,1100.9 1083.0,1101.7 1081.7,1102.6 1080.6,1103.6 1079.5,1104.6 1078.7,1105.6 1078.1,1106.9 1077.8,1108.2 1077.6,1109.7 1077.6,1111.1 1077.6,1112.5 1077.6,1113.9 1077.6,1115.3 1077.6,1116.7 1077.8,1118.1 1078.1,1119.4 1078.5,1120.7 1079.0,1122.0 1079.6,1123.4 1080.2,1124.8 1080.9,1126.2 1081.5,1127.3 1082.1,1128.5 1082.8,1129.8 1083.6,1131.0 1084.4,1132.3 1085.2,1133.6 1085.9,1134.9 1086.7,1136.2 1087.5,1137.6 1088.2,1138.9 1088.8,1140.2 1089.5,1141.6 1090.2,1143.0 1090.9,1144.4 1091.5,1145.8 1092.2,1147.2 1092.8,1148.5 1093.5,1149.7 1094.1,1150.9 1094.8,1152.1 1095.6,1153.3 1096.4,1154.3 1097.2,1155.4 1098.0,1156.6 1098.8,1157.9 1099.3,1159.0 1099.8,1160.1 1100.3,1161.4 1100.9,1162.8 1101.4,1164.3 1102.0,1165.8 1102.6,1167.4 1103.2,1169.0 1103.7,1170.6 1104.3,1172.2 1104.9,1173.8 1105.4,1175.3 1105.9,1176.7 1106.4,1178.1 1106.9,1179.4 1107.4,1180.5 1107.9,1181.7 1108.5,1183.2 1109.0,1184.6 1109.5,1185.8 1110.2,1187.0 1111.0,1188.0 1111.9,1189.0 1113.0,1189.7 1114.3,1190.4 1115.7,1191.1 1117.1,1191.7 1118.5,1192.2 1120.0,1192.8 1121.3,1193.5 1122.6,1194.1 1124.0,1194.8 1125.3,1195.4 1126.6,1196.1 1127.8,1196.7 1129.0,1197.5 1130.2,1198.3 1131.3,1199.3 1132.2,1200.3 1133.1,1201.3 1133.9,1202.4 1134.7,1203.6 1135.5,1204.9 1136.2,1206.2 1136.9,1207.6 1137.5,1209.0 1138.1,1210.5 1138.6,1212.0 1139.0,1213.2 1139.3,1214.6 1139.6,1215.9 1139.8,1217.3 1140.1,1218.7 1140.2,1220.2 1140.4,1221.7 1140.5,1223.2 1140.7,1224.8 1140.7,1226.3 1140.8,1227.9 1140.9,1229.4 1140.9,1230.9 1141.0,1232.5 1141.0,1234.0 1141.0,1235.5 1141.0,1237.0 1141.0,1238.5 1140.9,1240.1 1140.8,1241.7 1140.6,1243.3 1140.5,1244.9 1140.3,1246.5 1140.2,1248.1 1140.0,1249.6 1139.9,1251.2 1139.7,1252.7 1139.6,1254.1 1139.5,1255.5 1139.4,1256.9 1139.3,1258.2 1139.3,1259.4 1139.4,1261.1 1139.5,1262.7 1139.7,1264.1 1139.9,1265.5 1140.1,1266.9 1140.1,1268.3 1139.9,1269.7 1139.6,1271.1 1139.1,1272.4 1138.5,1273.8 1137.8,1275.1 1137.0,1276.4 1136.3,1277.8 1135.6,1279.1 1135.0,1280.4 1134.4,1281.8 1133.7,1283.1 1133.1,1284.4 1132.5,1285.7 1131.9,1287.1 1131.3,1288.4 1130.8,1289.8 1130.3,1291.2 1129.8,1292.6 1129.3,1294.0 1128.9,1295.4 1128.5,1296.8 1128.1,1298.2 1127.8,1299.7 1127.6,1301.1 1127.5,1302.6 1127.5,1304.0 1127.5,1305.4 1127.6,1306.8 1127.8,1308.3 1128.1,1309.7 1128.4,1311.2 1128.7,1312.6 1129.1,1314.1 1129.5,1315.5 1129.9,1316.9 1130.3,1318.2 1130.8,1319.5 1131.4,1320.9 1132.0,1322.2 1132.6,1323.5 1133.2,1324.9 1133.9,1326.2 1134.5,1327.6 1135.2,1329.0 1135.9,1330.4 1136.5,1331.8 1137.0,1333.1 1137.6,1334.4 1138.2,1335.7 1138.8,1337.0 1139.3,1338.4 1139.9,1339.7 1140.5,1341.1 1141.1,1342.4 1141.8,1343.8 1142.4,1345.2 1143.0,1346.6 1143.6,1347.9 1144.2,1349.3 1144.9,1350.7 1145.5,1352.0 1146.1,1353.3 1146.8,1354.6 1147.4,1356.0 1148.1,1357.3 1148.7,1358.6 1149.4,1359.9 1150.0,1361.2 1150.7,1362.5 1151.4,1363.8 1152.0,1365.2 1152.7,1366.5 1153.4,1367.8 1154.0,1369.1 1154.7,1370.4 1155.4,1371.7 1156.0,1373.0 1156.7,1374.4 1157.3,1375.7 1158.0,1377.1 1158.6,1378.4 1159.3,1379.8 1160.0,1381.2 1160.6,1382.5 1161.3,1383.9 1161.9,1385.2 1162.6,1386.5 1163.2,1387.8 1163.9,1389.1 1164.6,1390.4 1165.2,1391.6 1165.9,1392.8 1166.6,1394.1 1167.4,1395.5 1168.2,1396.9 1169.0,1398.2 1169.7,1399.6 1170.5,1400.8 1171.3,1402.1 1172.1,1403.3 1173.0,1404.5 1173.8,1405.6 1174.7,1406.7 1175.7,1407.8 1176.7,1408.9 1177.8,1409.9 1178.8,1410.9 1179.9,1411.8 1181.1,1412.7 1182.3,1413.5 1183.6,1414.3 1185.0,1415.0 1186.2,1415.5 1187.4,1416.0 1188.8,1416.4 1190.2,1416.8 1191.6,1417.2 1193.1,1417.6 1194.6,1417.9 1196.1,1418.2 1197.6,1418.5 1199.2,1418.8 1200.7,1419.1 1202.2,1419.3 1203.7,1419.6 1205.2,1419.9 1206.6,1420.2 1208.1,1420.5 1209.5,1420.7 1210.8,1421.0 1212.2,1421.2 1213.6,1421.5 1215.0,1421.7 1216.4,1421.9 1217.9,1422.1 1219.3,1422.3 1220.9,1422.5 1222.4,1422.7 1224.1,1422.8 1225.8,1423.0 1227.0,1423.1 1228.3,1423.2 1229.6,1423.3 1231.0,1423.4 1232.4,1423.4 1233.8,1423.5 1235.3,1423.6 1236.7,1423.6 1238.2,1423.7 1239.8,1423.7 1241.3,1423.8 1242.9,1423.8 1244.5,1423.8 1246.1,1423.9 1247.6,1423.9 1249.2,1423.9 1250.8,1423.9 1252.4,1424.0 1254.0,1424.0 1255.6,1424.0 1257.2,1424.0 1258.8,1424.0 1260.3,1424.1 1261.8,1424.1 1263.3,1424.1 1264.8,1424.1 1266.3,1424.1 1267.7,1424.2 1269.1,1424.2 1270.5,1424.2 1272.1,1424.2 1273.6,1424.3 1275.0,1424.3 1276.4,1424.3 1277.7,1424.4 1279.0,1424.4 1280.3,1424.4 1281.6,1424.5 1282.9,1424.5 1284.2,1424.5 1285.5,1424.5 1286.8,1424.5 1288.2,1424.6 1289.7,1424.6 1291.2,1424.6 1292.7,1424.6 1294.4,1424.6 1296.2,1424.7 1298.0,1424.7 1300.0,1424.7 1300.9,1424.7 1301.9,1424.7 1302.9,1424.7 1303.9,1424.7 1305.0,1424.7 1306.0,1424.7 1307.1,1424.7 1308.2,1424.7 1309.4,1424.8 1310.5,1424.8 1311.7,1424.8 1312.9,1424.8 1314.1,1424.8 1315.4,1424.8 1316.6,1424.8 1317.9,1424.8 1319.2,1424.8 1320.5,1424.8 1321.8,1424.8 1323.2,1424.8 1324.6,1424.8 1326.0,1424.8 1327.4,1424.8 1328.8,1424.8 1330.2,1424.8 1331.7,1424.8 1333.1,1424.8 1334.6,1424.8 1336.1,1424.8 1337.6,1424.7 1339.1,1424.7 1340.6,1424.7 1342.2,1424.7 1343.7,1424.7 1345.3,1424.7 1346.9,1424.7 1348.5,1424.7 1350.1,1424.7 1351.7,1424.7 1353.3,1424.7 1354.9,1424.7 1356.5,1424.7 1358.2,1424.7 1359.8,1424.7 1361.5,1424.7 1363.1,1424.7 1364.8,1424.7 1366.5,1424.7 1368.1,1424.7 1369.8,1424.7 1371.5,1424.7 1373.2,1424.7 1374.9,1424.7 1376.6,1424.7 1378.3,1424.6 1380.0,1424.6 1381.7,1424.6 1383.4,1424.6 1385.1,1424.6 1386.8,1424.6 1388.5,1424.6 1390.2,1424.6 1391.9,1424.6 1393.6,1424.6 1395.3,1424.6 1397.0,1424.6 1398.6,1424.6 1400.3,1424.6 1402.0,1424.6 1403.7,1424.6 1405.4,1424.6 1407.0,1424.6 1408.7,1424.6 1410.3,1424.6 1412.0,1424.6 1413.6,1424.6 1415.3,1424.6 1416.9,1424.6 1418.5,1424.6 1420.1,1424.6 1421.7,1424.6 1423.3,1424.6 1424.9,1424.6 1426.5,1424.6 1428.1,1424.6 1429.6,1424.6 1431.1,1424.6 1432.7,1424.6 1434.2,1424.6 1435.7,1424.6 1437.2,1424.6 1438.7,1424.6 1440.1,1424.6 1441.6,1424.7 1443.0,1424.7 1444.4,1424.7 1445.8,1424.7 1447.2,1424.7 1448.5,1424.7 1450.1,1424.7 1451.7,1424.7 1453.4,1424.7 1455.0,1424.7 1456.7,1424.8 1458.3,1424.8 1459.9,1424.8 1461.6,1424.8 1463.2,1424.8 1464.8,1424.8 1466.5,1424.9 1468.1,1424.9 1469.7,1424.9 1471.3,1424.9 1473.0,1424.9 1474.6,1425.0 1476.2,1425.0 1477.8,1425.0 1479.4,1425.0 1481.0,1425.0 1482.6,1425.1 1484.2,1425.1 1485.8,1425.1 1487.4,1425.1 1489.0,1425.1 1490.5,1425.2 1492.1,1425.2 1493.7,1425.2 1495.2,1425.2 1496.8,1425.3 1498.3,1425.3 1499.9,1425.3 1501.4,1425.3 1503.0,1425.3 1504.5,1425.4 1506.0,1425.4 1507.5,1425.4 1509.0,1425.4 1510.5,1425.5 1512.0,1425.5 1513.5,1425.5 1515.0,1425.5 1516.4,1425.6 1517.9,1425.6 1519.3,1425.6 1520.8,1425.7 1522.2,1425.7 1523.6,1425.7 1525.0,1425.7 1526.4,1425.8 1527.8,1425.8 1529.2,1425.8 1530.6,1425.8 1531.9,1425.9 1533.3,1425.9 1534.6,1425.9 1536.0,1425.9 1537.3,1426.0 1538.6,1426.0 1539.9,1426.0 1541.2,1426.0 1542.4,1426.1 1543.7,1426.1 1544.9,1426.1 1546.2,1426.1 1547.4,1426.2 1548.6,1426.2 1550.2,1426.2 1551.9,1426.3 1553.6,1426.3 1555.3,1426.3 1557.0,1426.4 1558.6,1426.4 1560.2,1426.5 1561.8,1426.5 1563.4,1426.5 1564.9,1426.6 1566.5,1426.6 1568.0,1426.7 1569.5,1426.7 1570.9,1426.8 1572.4,1426.8 1573.9,1426.8 1575.3,1426.9 1576.7,1426.9 1578.1,1427.0 1579.5,1427.0 1580.9,1427.1 1582.3,1427.1 1583.6,1427.1 1585.0,1427.2 1586.4,1427.2 1587.7,1427.2 1589.1,1427.3 1590.4,1427.3 1591.8,1427.3 1593.1,1427.4 1594.5,1427.4 1596.1,1427.4 1597.7,1427.5 1599.3,1427.5 1600.8,1427.5 1602.3,1427.5 1603.8,1427.6 1605.3,1427.6 1606.8,1427.6 1608.3,1427.6 1609.7,1427.6 1611.2,1427.6 1612.6,1427.7 1614.0,1427.7 1615.5,1427.7 1616.9,1427.7 1618.3,1427.8 1619.8,1427.8 1621.2,1427.9 1622.6,1427.9 1624.0,1428.0 1625.5,1428.0 1627.0,1428.1 1628.5,1428.2 1630.1,1428.3 1631.6,1428.3 1633.1,1428.4 1634.7,1428.5 1636.2,1428.6 1637.7,1428.7 1639.2,1428.9 1640.7,1429.0 1642.2,1429.1 1643.7,1429.2 1645.1,1429.3 1646.6,1429.4 1648.0,1429.5 1649.4,1429.6 1650.8,1429.7 1652.1,1429.8 1653.5,1429.9 1655.0,1430.1 1656.4,1430.2 1657.7,1430.3 1658.9,1430.5 1660.1,1430.6 1661.4,1430.7 1662.7,1430.8 1664.0,1431.0 1665.5,1431.1 1667.1,1431.2 1669.0,1431.3 1671.0,1431.4 1671.8,1431.4 1672.6,1431.5 1673.5,1431.5 1674.4,1431.5 1675.3,1431.5 1676.2,1431.6 1677.2,1431.6 1678.2,1431.6 1679.2,1431.6 1680.3,1431.7 1681.4,1431.7 1682.5,1431.7 1683.6,1431.7 1684.8,1431.7 1686.0,1431.8 1687.2,1431.8 1688.4,1431.8 1689.7,1431.8 1690.9,1431.8 1692.2,1431.8 1693.5,1431.8 1694.9,1431.8 1696.2,1431.8 1697.6,1431.8 1699.0,1431.8 1700.4,1431.9 1701.9,1431.9 1703.3,1431.9 1704.8,1431.9 1706.3,1431.9 1707.8,1431.9 1709.3,1431.9 1710.8,1431.9 1712.4,1431.9 1713.9,1431.9 1715.5,1431.9 1717.1,1431.9 1718.7,1431.9 1720.3,1431.8 1721.9,1431.8 1723.5,1431.8 1725.2,1431.8 1726.8,1431.8 1728.5,1431.8 1730.2,1431.8 1731.8,1431.8 1733.5,1431.8 1735.2,1431.8 1736.9,1431.8 1738.6,1431.8 1740.3,1431.8 1742.0,1431.8 1743.8,1431.8 1745.5,1431.8 1747.2,1431.7 1748.9,1431.7 1750.7,1431.7 1752.4,1431.7 1754.1,1431.7 1755.9,1431.7 1757.6,1431.7 1759.3,1431.7 1761.1,1431.7 1762.8,1431.7 1764.5,1431.7 1766.3,1431.7 1768.0,1431.7 1769.7,1431.7 1771.4,1431.6 1773.2,1431.6 1774.9,1431.6 1776.6,1431.6 1778.3,1431.6 1780.0,1431.6 1781.7,1431.6 1783.3,1431.6 1785.0,1431.6 1786.7,1431.6 1788.3,1431.6 1790.0,1431.6 1791.6,1431.6 1793.2,1431.6 1794.8,1431.6 1796.4,1431.6 1798.0,1431.6 1799.6,1431.6 1801.2,1431.6 1802.7,1431.6 1804.2,1431.6 1805.8,1431.6 1807.3,1431.6 1808.7,1431.7 1810.2,1431.7 1811.7,1431.7 1813.1,1431.7 1814.5,1431.7 1816.1,1431.7 1817.6,1431.7 1819.2,1431.7 1820.8,1431.8 1822.4,1431.8 1824.0,1431.8 1825.6,1431.8 1827.2,1431.8 1828.8,1431.8 1830.4,1431.9 1831.9,1431.9 1833.5,1431.9 1835.1,1431.9 1836.7,1431.9 1838.3,1432.0 1839.9,1432.0 1841.5,1432.0 1843.1,1432.0 1844.6,1432.1 1846.2,1432.1 1847.8,1432.1 1849.4,1432.1 1851.0,1432.2 1852.5,1432.2 1854.1,1432.2 1855.7,1432.2 1857.3,1432.3 1858.8,1432.3 1860.4,1432.3 1862.0,1432.3 1863.5,1432.4 1865.1,1432.4 1866.6,1432.4 1868.2,1432.4 1869.7,1432.5 1871.2,1432.5 1872.8,1432.5 1874.3,1432.5 1875.8,1432.6 1877.4,1432.6 1878.9,1432.6 1880.4,1432.7 1881.9,1432.7 1883.4,1432.7 1884.9,1432.7 1886.4,1432.8 1887.9,1432.8 1889.4,1432.8 1890.9,1432.8 1892.3,1432.9 1893.8,1432.9 1895.3,1432.9 1896.7,1433.0 1898.1,1433.0 1899.6,1433.0 1901.0,1433.0 1902.4,1433.1 1903.9,1433.1 1905.3,1433.1 1906.7,1433.1 1908.1,1433.2 1909.5,1433.2 1910.8,1433.2 1912.2,1433.2 1913.6,1433.3 1914.9,1433.3 1916.3,1433.3 1917.6,1433.3 1919.0,1433.4 1920.3,1433.4 1921.6,1433.4 1922.9,1433.4 1924.2,1433.4 1925.5,1433.5 1926.7,1433.5 1928.0,1433.5 1929.7,1433.5 1931.4,1433.6 1933.1,1433.6 1934.7,1433.6 1936.3,1433.6 1937.9,1433.7 1939.5,1433.7 1941.0,1433.7 1942.6,1433.7 1944.1,1433.7 1945.6,1433.8 1947.1,1433.8 1948.6,1433.8 1950.1,1433.8 1951.5,1433.9 1953.0,1433.9 1954.4,1433.9 1955.8,1433.9 1957.3,1434.0 1958.7,1434.0 1960.1,1434.0 1961.5,1434.0 1962.9,1434.0 1964.3,1434.1 1965.7,1434.1 1967.1,1434.1 1968.5,1434.1 1970.0,1434.1 1971.4,1434.2 1972.8,1434.2 1974.2,1434.2 1975.6,1434.2 1977.1,1434.2 1978.5,1434.3 1980.0,1434.3 1981.5,1434.3 1983.0,1434.3 1984.5,1434.3 1986.0,1434.4 1987.5,1434.4 1989.0,1434.4 1990.4,1434.4 1991.9,1434.5 1993.3,1434.5 1994.8,1434.5 1996.3,1434.5 1997.8,1434.5 1999.3,1434.5 2000.8,1434.6 2002.3,1434.6 2003.8,1434.6 2005.3,1434.6 2006.9,1434.6 2008.4,1434.7 2009.9,1434.7 2011.4,1434.7 2013.0,1434.7 2014.5,1434.7 2016.1,1434.8 2017.6,1434.8 2019.1,1434.8 2020.7,1434.8 2022.2,1434.8 2023.7,1434.8 2025.3,1434.9 2026.8,1434.9 2028.3,1434.9 2029.9,1434.9 2031.4,1434.9 2032.9,1435.0 2034.4,1435.0 2035.9,1435.0 2037.4,1435.0 2038.9,1435.0 2040.4,1435.1 2041.9,1435.1 2043.3,1435.1 2044.8,1435.1 2046.2,1435.1 2047.7,1435.2 2049.1,1435.2 2050.5,1435.2 2051.9,1435.2 2053.3,1435.2 2054.7,1435.3 2056.1,1435.3 2057.5,1435.3 2059.1,1435.3 2060.7,1435.4 2062.3,1435.4 2063.9,1435.4 2065.4,1435.5 2066.9,1435.5 2068.5,1435.5 2070.0,1435.5 2071.5,1435.6 2072.9,1435.6 2074.4,1435.6 2075.9,1435.7 2077.4,1435.7 2078.8,1435.7 2080.3,1435.8 2081.7,1435.8 2083.2,1435.8 2084.6,1435.9 2086.1,1435.9 2087.5,1435.9 2088.9,1436.0 2090.4,1436.0 2091.8,1436.0 2093.3,1436.1 2094.7,1436.1 2096.2,1436.1 2097.6,1436.1 2099.1,1436.2 2100.5,1436.2 2102.0,1436.2 2103.5,1436.3 2105.0,1436.3 2106.5,1436.3 2107.9,1436.4 2109.4,1436.4 2110.8,1436.4 2112.3,1436.4 2113.7,1436.5 2115.2,1436.5 2116.6,1436.5 2118.0,1436.6 2119.5,1436.6 2120.9,1436.6 2122.3,1436.6 2123.8,1436.7 2125.2,1436.7 2126.7,1436.7 2128.1,1436.7 2129.5,1436.8 2131.0,1436.8 2132.5,1436.8 2133.9,1436.9 2135.4,1436.9 2136.9,1436.9 2138.4,1436.9 2139.9,1437.0 2141.4,1437.0 2142.9,1437.0 2144.4,1437.0 2146.0,1437.1 2147.5,1437.1 2149.1,1437.1 2150.7,1437.1 2152.3,1437.2 2153.9,1437.2 2155.4,1437.2 2156.8,1437.2 2158.2,1437.2 2159.6,1437.3 2161.1,1437.3 2162.5,1437.3 2164.0,1437.3 2165.5,1437.3 2167.0,1437.4 2168.6,1437.4 2170.1,1437.4 2171.7,1437.4 2173.3,1437.4 2174.9,1437.5 2176.5,1437.5 2178.1,1437.5 2179.7,1437.5 2181.3,1437.5 2183.0,1437.5 2184.6,1437.6 2186.2,1437.6 2187.9,1437.6 2189.5,1437.6 2191.2,1437.6 2192.8,1437.7 2194.4,1437.7 2196.1,1437.7 2197.7,1437.7 2199.3,1437.7 2200.9,1437.7 2202.5,1437.8 2204.1,1437.8 2205.6,1437.8 2207.2,1437.8 2208.7,1437.8 2210.2,1437.8 2211.7,1437.9 2213.2,1437.9 2214.7,1437.9 2216.1,1437.9 2217.5,1437.9 2218.9,1437.9 2220.3,1438.0 2221.6,1438.0 2222.9,1438.0 2224.2,1438.0 2225.4,1438.0 2226.6,1438.0 2227.8,1438.1 2228.9,1438.1 2230.0,1438.1 2231.9,1438.1 2233.9,1438.2 2235.9,1438.2 2237.9,1438.2 2239.9,1438.3 2241.8,1438.3 2243.7,1438.4 2245.5,1438.4 2247.2,1438.4 2248.8,1438.5 2250.2,1438.5 2251.4,1438.5 2252.4,1438.6 2253.2,1438.6 2253.7,1438.6 2254.0,1438.6 2254.0,1438.6" marker-start="url(#mT)" marker-mid="url(#mT)" marker-end="url(#mT)"/><polyline fill="none" shape-rendering="crispEdges" stroke="#00f" stroke-width="2" points="330.5,59.5 330.6,59.8 330.9,60.7 331.2,61.8 331.6,63.0 332.0,64.0 332.4,64.8 332.7,65.6 333.1,66.4 333.5,67.2 334.0,68.0 334.5,68.8 335.1,69.6 335.7,70.4 336.3,71.2 337.0,72.0 337.6,72.7 338.3,73.4 338.9,74.0 339.6,74.7 340.3,75.3 341.0,76.0 341.6,76.6 342.3,77.1 342.9,77.7 343.5,78.3 344.2,78.8 344.8,79.4 345.5,80.0 346.2,80.6 346.9,81.3 347.6,81.9 348.4,82.6 349.1,83.2 349.8,83.9 350.5,84.5 351.2,85.1 351.8,85.7 352.5,86.2 353.1,86.8 353.8,87.4 354.4,87.9 355.0,88.5 355.7,89.2 356.4,89.9 357.1,90.6 357.8,91.3 358.5,92.0 359.1,92.6 359.7,93.3 360.3,94.0 360.9,94.6 361.4,95.3 362.0,96.0 362.5,96.7 363.1,97.4 363.6,98.1 364.1,98.8 364.6,99.6 365.2,100.5 365.6,101.2 366.1,101.9 366.6,102.7 367.1,103.5 367.6,104.4 368.1,105.2 368.7,106.1 369.2,107.0 369.7,107.9 370.3,108.8 370.8,109.7 371.3,110.5 371.8,111.3 372.3,112.2 372.8,113.0 373.3,113.8 373.9,114.7 374.4,115.5 374.9,116.3 375.4,117.1 375.9,118.0 376.4,118.8 376.8,119.7 377.3,120.5 377.7,121.3 378.2,122.2 378.6,123.0 379.0,123.8 379.4,124.7 379.8,125.5 380.2,126.3 380.6,127.2 380.9,128.0 381.4,128.8 381.8,129.7 382.2,130.5 382.7,131.3 383.1,132.2 383.6,133.0 384.1,133.8 384.6,134.7 385.1,135.5 385.6,136.3 386.0,137.2 386.5,138.0 387.0,138.8 387.5,139.7 387.9,140.5 388.3,141.3 388.7,142.2 389.1,143.0 389.5,143.8 389.8,144.7 390.2,145.5 390.6,146.3 390.9,147.2 391.3,148.0 391.7,148.8 392.1,149.7 392.5,150.5 392.9,151.3 393.4,152.2 393.8,153.0 394.3,153.9 394.7,154.7 395.2,155.5 395.6,156.4 396.1,157.2 396.6,158.0 397.0,158.8 397.5,159.7 398.0,160.5 398.5,161.3 399.0,162.2 399.5,163.0 400.0,163.9 400.5,164.7 401.0,165.6 401.5,166.4 402.0,167.3 402.5,168.1 403.0,168.9 403.5,169.7 404.0,170.5 404.5,171.3 405.1,172.1 405.6,172.9 406.1,173.7 406.6,174.4 407.2,175.2 407.7,176.0 408.3,176.7 408.9,177.6 409.5,178.4 410.0,179.1 410.6,179.8 411.1,180.6 411.7,181.3 412.3,182.1 412.9,182.9 413.5,183.7 414.1,184.5 414.7,185.3 415.3,186.1 416.0,186.9 416.6,187.7 417.3,188.4 417.9,189.1 418.6,189.8 419.2,190.5 419.9,191.2 420.6,191.9 421.4,192.5 422.1,193.1 422.9,193.7 423.6,194.3 424.4,194.9 425.1,195.5 425.9,196.1 426.6,196.6 427.4,197.2 428.1,197.7 428.9,198.3 429.7,198.9 430.5,199.5 431.3,200.1 432.1,200.7 432.9,201.3 433.7,201.8 434.5,202.4 435.3,203.0 436.1,203.5 437.0,204.1 437.8,204.6 438.6,205.1 439.5,205.6 440.3,206.2 441.2,206.7 442.1,207.2 442.9,207.7 443.8,208.2 444.7,208.7 445.5,209.1 446.4,209.6 447.3,210.0 448.2,210.4 449.1,210.8 449.9,211.1 450.8,211.5 451.7,211.8 452.6,212.1 453.5,212.4 454.4,212.6 455.2,212.9 456.1,213.2 457.0,213.5 457.9,213.8 458.8,214.1 459.7,214.4 460.6,214.8 461.5,215.1 462.4,215.4 463.3,215.7 464.2,216.1 465.0,216.4 465.9,216.7 466.8,216.9 467.6,217.2 468.6,217.5 469.5,217.8 470.5,218.0 471.4,218.3 472.3,218.5 473.2,218.7 474.0,218.9 474.9,219.1 475.8,219.3 476.6,219.4 477.4,219.6 478.2,219.7 479.1,219.9 480.2,220.1 480.9,220.2 481.5,220.4 482.3,220.6 483.0,220.7 483.8,220.9 484.5,221.1 485.4,221.3 486.2,221.5 487.1,221.7 488.0,221.9 488.9,222.2 489.9,222.4 490.9,222.6 491.9,222.8 493.0,223.1 494.1,223.3 495.2,223.6 496.4,223.8 497.5,224.0 498.8,224.3 500.0,224.5 500.7,224.6 501.3,224.7 502.0,224.9 502.7,225.0 503.4,225.1 504.1,225.2 504.9,225.4 505.6,225.5 506.4,225.6 507.2,225.8 507.9,225.9 508.7,226.0 509.5,226.2 510.3,226.3 511.1,226.5 512.0,226.6 512.8,226.7 513.7,226.9 514.5,227.0 515.4,227.2 516.3,227.3 517.2,227.4 518.1,227.6 519.0,227.7 519.9,227.9 520.8,228.0 521.7,228.2 522.7,228.3 523.6,228.5 524.6,228.6 525.6,228.8 526.5,228.9 527.5,229.1 528.5,229.2 529.5,229.4 530.5,229.5 531.5,229.7 532.5,229.8 533.5,230.0 534.5,230.1 535.6,230.3 536.6,230.5 537.7,230.6 538.7,230.8 539.8,230.9 540.8,231.1 541.9,231.2 543.0,231.4 544.0,231.5 545.1,231.7 546.2,231.8 547.3,232.0 548.4,232.1 549.5,232.3 550.6,232.4 551.7,232.6 552.8,232.7 553.9,232.9 555.0,233.0 556.1,233.2 557.3,233.3 558.4,233.4 559.5,233.6 560.6,233.7 561.8,233.9 562.9,234.0 564.0,234.2 565.2,234.3 566.3,234.4 567.4,234.6 568.6,234.7 569.7,234.8 570.9,235.0 572.0,235.1 573.1,235.2 574.3,235.4 575.4,235.5 576.6,235.6 577.7,235.8 578.9,235.9 580.0,236.0 580.8,236.1 581.7,236.2 582.6,236.3 583.4,236.4 584.3,236.4 585.2,236.5 586.1,236.6 586.9,236.7 587.8,236.8 588.8,236.9 589.7,237.0 590.6,237.1 591.5,237.1 592.4,237.2 593.4,237.3 594.3,237.4 595.3,237.5 596.2,237.6 597.2,237.6 598.2,237.7 599.1,237.8 600.1,237.9 601.1,238.0 602.1,238.1 603.1,238.1 604.1,238.2 605.1,238.3 606.1,238.4 607.1,238.5 608.1,238.5 609.1,238.6 610.1,238.7 611.2,238.8 612.2,238.9 613.2,238.9 614.3,239.0 615.3,239.1 616.4,239.2 617.4,239.2 618.5,239.3 619.5,239.4 620.6,239.5 621.7,239.5 622.7,239.6 623.8,239.7 624.9,239.8 625.9,239.9 627.0,239.9 628.1,240.0 629.2,240.1 630.3,240.1 631.3,240.2 632.4,240.3 633.5,240.4 634.6,240.4 635.7,240.5 636.8,240.6 637.9,240.7 639.0,240.7 640.1,240.8 641.2,240.9 642.3,240.9 643.4,241.0 644.5,241.1 645.6,241.2 646.7,241.2 647.8,241.3 648.9,241.4 650.0,241.4 651.1,241.5 652.2,241.6 653.3,241.6 654.4,241.7 655.5,241.8 656.6,241.8 657.7,241.9 658.8,242.0 659.9,242.1 661.0,242.1 662.0,242.2 663.1,242.3 664.2,242.3 665.3,242.4 666.4,242.5 667.5,242.5 668.6,242.6 669.7,242.7 670.7,242.7 671.8,242.8 672.9,242.8 674.0,242.9 675.0,243.0 676.1,243.0 677.2,243.1 678.2,243.2 679.3,243.2 680.4,243.3 681.4,243.4 682.5,243.4 683.5,243.5 684.5,243.6 685.6,243.6 686.6,243.7 687.7,243.7 688.7,243.8 689.7,243.9 690.7,243.9 691.7,244.0 692.7,244.1 693.8,244.1 694.8,244.2 695.8,244.2 696.7,244.3 697.7,244.4 698.7,244.4 699.7,244.5 700.7,244.5 701.6,244.6 702.6,244.7 703.5,244.7 704.5,244.8 705.4,244.9 706.4,244.9 707.3,245.0 708.2,245.0 709.1,245.1 710.1,245.2 711.0,245.2 711.9,245.3 712.8,245.3 713.6,245.4 714.5,245.4 715.4,245.5 716.3,245.6 717.1,245.6 718.0,245.7 718.8,245.7 719.6,245.8 720.5,245.9 721.3,245.9 722.1,246.0 722.9,246.0 723.7,246.1 724.5,246.2 725.2,246.2 726.0,246.3 726.8,246.3 727.5,246.4 728.3,246.4 729.0,246.5 730.2,246.6 731.5,246.7 732.7,246.8 733.9,246.9 735.1,247.0 736.3,247.1 737.4,247.2 738.6,247.3 739.7,247.4 740.9,247.5 742.0,247.6 743.1,247.6 744.2,247.7 745.3,247.8 746.4,247.9 747.5,248.0 748.6,248.1 749.6,248.2 750.7,248.3 751.7,248.4 752.7,248.5 753.8,248.6 754.8,248.6 755.8,248.7 756.7,248.8 757.7,248.9 758.7,249.0 759.6,249.1 760.6,249.2 761.5,249.2 762.5,249.3 763.4,249.4 764.3,249.5 765.2,249.6 766.1,249.7 766.9,249.7 767.8,249.8 768.7,249.9 769.5,250.0 770.4,250.1 771.2,250.1 772.0,250.2 772.8,250.3 773.6,250.4 774.4,250.5 775.2,250.5 776.0,250.6 776.8,250.7 777.5,250.8 778.3,250.8 779.0,250.9 780.2,251.0 781.2,251.1 782.3,251.2 783.3,251.3 784.2,251.4 785.1,251.5 786.0,251.6 786.8,251.7 787.7,251.8 788.5,251.9 789.4,251.9 790.2,252.0 791.1,252.1 792.0,252.2 792.9,252.4 793.9,252.5 794.8,252.6 795.9,252.7 797.0,252.9 797.8,253.0 798.6,253.1 799.4,253.2 800.2,253.4 801.1,253.5 802.0,253.6 802.8,253.7 803.7,253.9 804.6,254.0 805.6,254.1 806.5,254.3 807.4,254.4 808.4,254.5 809.3,254.7 810.3,254.8 811.3,255.0 812.3,255.1 813.3,255.3 814.3,255.5 815.3,255.6 816.3,255.8 817.3,256.0 818.3,256.1 819.4,256.3 820.4,256.5 821.4,256.6 822.5,256.8 823.5,257.0 824.5,257.2 825.6,257.4 826.6,257.5 827.6,257.7 828.7,257.9 829.7,258.1 830.7,258.3 831.7,258.5 832.7,258.7 833.7,258.9 834.7,259.1 835.7,259.3 836.7,259.5 837.7,259.7 838.7,259.9 839.6,260.1 840.6,260.3 841.6,260.5 842.6,260.8 843.6,261.0 844.6,261.2 845.6,261.5 846.6,261.7 847.6,261.9 848.6,262.2 849.6,262.4 850.7,262.7 851.7,262.9 852.7,263.2 853.7,263.4 854.7,263.7 855.8,263.9 856.8,264.2 857.8,264.4 858.8,264.7 859.8,265.0 860.8,265.2 861.8,265.5 862.8,265.7 863.8,266.0 864.8,266.3 865.8,266.5 866.7,266.8 867.7,267.1 868.7,267.3 869.6,267.6 870.5,267.8 871.5,268.1 872.4,268.3 873.3,268.6 874.2,268.8 875.0,269.1 875.9,269.3 876.8,269.6 877.6,269.8 878.4,270.0 879.2,270.3 880.0,270.5 881.1,270.8 882.1,271.1 883.1,271.4 884.0,271.7 884.9,272.0 885.8,272.3 886.7,272.5 887.5,272.8 888.4,273.1 889.2,273.3 890.0,273.6 890.8,273.9 891.7,274.2 892.5,274.5 893.4,274.7 894.2,275.0 895.1,275.3 896.0,275.7 897.0,276.0 897.9,276.3 898.9,276.6 900.0,277.0 900.8,277.3 901.6,277.5 902.4,277.8 903.2,278.1 904.0,278.3 904.9,278.6 905.7,278.9 906.6,279.2 907.5,279.5 908.4,279.7 909.3,280.0 910.2,280.3 911.1,280.6 912.1,280.9 913.0,281.2 914.0,281.6 914.9,281.9 915.9,282.2 916.9,282.5 917.8,282.8 918.8,283.1 919.8,283.5 920.8,283.8 921.8,284.1 922.8,284.5 923.8,284.8 924.8,285.1 925.8,285.5 926.8,285.8 927.8,286.2 928.8,286.5 929.8,286.9 930.8,287.2 931.8,287.6 932.7,288.0 933.7,288.3 934.7,288.7 935.7,289.1 936.7,289.4 937.7,289.8 938.6,290.2 939.6,290.6 940.5,290.9 941.5,291.3 942.4,291.7 943.3,292.1 944.2,292.4 945.1,292.8 946.0,293.2 946.9,293.6 947.8,293.9 948.7,294.3 949.6,294.7 950.6,295.1 951.5,295.4 952.4,295.8 953.3,296.2 954.2,296.6 955.2,297.0 956.1,297.4 957.0,297.8 957.9,298.2 958.8,298.6 959.8,299.0 960.7,299.4 961.6,299.8 962.5,300.2 963.4,300.6 964.3,301.0 965.2,301.4 966.1,301.8 967.0,302.3 967.9,302.7 968.8,303.1 969.7,303.6 970.6,304.0 971.5,304.5 972.4,304.9 973.2,305.4 974.1,305.8 975.0,306.3 975.8,306.8 976.7,307.2 977.5,307.7 978.3,308.2 979.2,308.7 980.0,309.2 980.8,309.7 981.6,310.2 982.4,310.7 983.2,311.2 983.9,311.8 984.7,312.3 985.5,312.9 986.3,313.5 987.2,314.1 988.0,314.7 988.8,315.4 989.6,316.0 990.4,316.7 991.2,317.4 991.9,318.0 992.7,318.7 993.5,319.4 994.3,320.1 995.0,320.8 995.8,321.6 996.5,322.3 997.3,323.0 998.0,323.7 998.7,324.5 999.5,325.2 1000.2,325.9 1000.9,326.7 1001.6,327.4 1002.3,328.2 1003.0,328.9 1003.7,329.6 1004.4,330.4 1005.0,331.1 1005.7,331.8 1006.4,332.5 1007.0,333.3 1007.7,334.0 1008.3,334.7 1008.9,335.4 1009.6,336.1 1010.2,336.7 1010.8,337.4 1011.4,338.1 1012.0,338.7 1012.6,339.4 1013.1,340.0 1013.7,340.6 1014.5,341.4 1015.2,342.2 1015.9,343.0 1016.6,343.8 1017.3,344.5 1017.9,345.3 1018.6,346.0 1019.2,346.8 1019.9,347.5 1020.5,348.2 1021.1,349.0 1021.7,349.7 1022.3,350.4 1022.8,351.1 1023.4,351.8 1024.0,352.5 1024.6,353.3 1025.1,354.0 1025.7,354.7 1026.3,355.5 1026.8,356.2 1027.4,357.0 1028.0,357.8 1028.6,358.6 1029.1,359.4 1029.7,360.1 1030.3,360.9 1030.8,361.7 1031.4,362.5 1031.9,363.2 1032.5,364.0 1033.0,364.8 1033.5,365.6 1034.1,366.4 1034.6,367.2 1035.1,368.0 1035.7,368.9 1036.2,369.7 1036.7,370.5 1037.2,371.4 1037.8,372.3 1038.3,373.2 1038.8,374.1 1039.2,374.9 1039.7,375.7 1040.1,376.6 1040.5,377.4 1040.9,378.3 1041.3,379.2 1041.7,380.1 1042.1,381.0 1042.4,382.0 1042.8,382.9 1043.2,383.9 1043.6,384.8 1043.9,385.8 1044.3,386.7 1044.7,387.7 1045.1,388.6 1045.5,389.6 1045.9,390.5 1046.3,391.5 1046.7,392.4 1047.2,393.3 1047.6,394.3 1048.1,395.2 1048.5,396.0 1049.0,396.9 1049.5,397.8 1050.1,398.6 1050.6,399.4 1051.2,400.2 1051.8,401.0 1052.4,401.7 1053.1,402.4 1053.8,403.1 1054.5,403.8 1055.2,404.4 1056.0,405.1 1056.7,405.7 1057.5,406.3 1058.3,406.9 1059.1,407.5 1060.0,408.1 1060.8,408.7 1061.6,409.3 1062.4,409.8 1063.2,410.4 1064.1,411.0 1064.9,411.6 1065.7,412.2 1066.4,412.8 1067.2,413.4 1068.0,414.1 1068.7,414.7 1069.4,415.4 1070.1,416.1 1070.7,416.8 1071.4,417.5 1071.9,418.2 1072.5,419.0 1073.0,419.8 1073.5,420.6 1074.0,421.4 1074.5,422.3 1074.9,423.1 1075.3,424.0 1075.7,424.9 1076.1,425.8 1076.5,426.7 1076.8,427.6 1077.2,428.6 1077.5,429.5 1077.8,430.5 1078.1,431.4 1078.4,432.4 1078.7,433.3 1079.0,434.3 1079.3,435.3 1079.5,436.2 1079.8,437.2 1080.1,438.2 1080.4,439.1 1080.6,440.1 1080.9,441.1 1081.2,442.0 1081.4,443.0 1081.7,443.9 1082.0,444.9 1082.3,445.8 1082.6,446.7 1082.9,447.7 1083.2,448.6 1083.5,449.5 1083.7,450.5 1084.0,451.4 1084.3,452.3 1084.5,453.2 1084.8,454.1 1085.1,455.0 1085.3,455.9 1085.6,456.8 1085.8,457.8 1086.1,458.7 1086.3,459.6 1086.6,460.5 1086.8,461.5 1087.0,462.4 1087.3,463.4 1087.6,464.3 1087.8,465.3 1088.1,466.3 1088.3,467.3 1088.6,468.3 1088.9,469.4 1089.1,470.4 1089.4,471.5 1089.7,472.6 1089.9,473.4 1090.1,474.3 1090.4,475.1 1090.6,476.0 1090.8,476.9 1091.1,477.7 1091.3,478.6 1091.5,479.5 1091.8,480.5 1092.0,481.4 1092.2,482.3 1092.5,483.2 1092.7,484.2 1093.0,485.1 1093.2,486.1 1093.5,487.0 1093.7,488.0 1094.0,489.0 1094.2,490.0 1094.5,491.0 1094.7,491.9 1095.0,492.9 1095.2,493.9 1095.5,494.9 1095.7,495.9 1096.0,496.9 1096.2,498.0 1096.5,499.0 1096.8,500.0 1097.0,501.0 1097.3,502.0 1097.5,503.0 1097.8,504.0 1098.0,505.1 1098.3,506.1 1098.5,507.1 1098.8,508.1 1099.0,509.1 1099.2,510.1 1099.5,511.2 1099.7,512.2 1100.0,513.2 1100.2,514.2 1100.4,515.2 1100.7,516.2 1100.9,517.2 1101.1,518.2 1101.4,519.1 1101.6,520.1 1101.8,521.1 1102.0,522.1 1102.2,523.0 1102.4,524.0 1102.7,525.0 1102.9,525.9 1103.1,526.9 1103.3,527.9 1103.5,528.8 1103.7,529.8 1103.9,530.8 1104.1,531.7 1104.3,532.7 1104.5,533.7 1104.7,534.6 1104.9,535.6 1105.1,536.6 1105.3,537.5 1105.5,538.5 1105.7,539.5 1105.9,540.4 1106.1,541.4 1106.3,542.4 1106.5,543.3 1106.7,544.3 1106.9,545.3 1107.1,546.2 1107.2,547.2 1107.4,548.2 1107.6,549.2 1107.8,550.1 1108.0,551.1 1108.2,552.1 1108.4,553.0 1108.6,554.0 1108.7,555.0 1108.9,555.9 1109.1,556.9 1109.3,557.9 1109.5,558.8 1109.7,559.8 1109.9,560.8 1110.0,561.7 1110.2,562.7 1110.4,563.7 1110.6,564.7 1110.8,565.6 1111.0,566.6 1111.1,567.6 1111.3,568.5 1111.5,569.5 1111.7,570.5 1111.9,571.4 1112.0,572.4 1112.2,573.4 1112.4,574.3 1112.6,575.3 1112.8,576.3 1113.0,577.2 1113.1,578.2 1113.3,579.2 1113.5,580.1 1113.7,581.1 1113.9,582.1 1114.0,583.0 1114.2,584.0 1114.4,585.0 1114.6,585.9 1114.8,586.9 1114.9,587.9 1115.1,588.8 1115.3,589.8 1115.5,590.8 1115.7,591.7 1115.8,592.7 1116.0,593.7 1116.2,594.6 1116.4,595.6 1116.5,596.6 1116.7,597.6 1116.9,598.5 1117.0,599.5 1117.2,600.5 1117.4,601.4 1117.5,602.4 1117.7,603.4 1117.9,604.3 1118.0,605.3 1118.2,606.3 1118.4,607.2 1118.5,608.2 1118.7,609.2 1118.8,610.1 1119.0,611.1 1119.1,612.1 1119.3,613.1 1119.4,614.0 1119.6,615.0 1119.7,616.0 1119.9,616.9 1120.0,617.9 1120.1,618.9 1120.3,619.9 1120.4,620.9 1120.6,621.8 1120.7,622.8 1120.8,623.8 1121.0,624.8 1121.1,625.8 1121.2,626.8 1121.3,627.8 1121.5,628.7 1121.6,629.7 1121.7,630.7 1121.8,631.7 1121.9,632.7 1122.1,633.7 1122.2,634.7 1122.3,635.7 1122.4,636.6 1122.5,637.6 1122.6,638.6 1122.7,639.6 1122.9,640.6 1123.0,641.6 1123.1,642.6 1123.2,643.6 1123.3,644.5 1123.4,645.5 1123.5,646.5 1123.6,647.5 1123.7,648.5 1123.8,649.5 1123.9,650.5 1124.0,651.5 1124.1,652.5 1124.2,653.4 1124.3,654.4 1124.4,655.4 1124.5,656.4 1124.6,657.4 1124.7,658.4 1124.8,659.4 1124.9,660.4 1125.0,661.4 1125.1,662.3 1125.2,663.3 1125.3,664.3 1125.4,665.3 1125.5,666.3 1125.6,667.3 1125.7,668.3 1125.8,669.3 1125.9,670.3 1126.0,671.2 1126.1,672.2 1126.2,673.2 1126.3,674.2 1126.4,675.2 1126.5,676.2 1126.6,677.2 1126.6,678.2 1126.7,679.2 1126.8,680.1 1126.9,681.1 1127.0,682.1 1127.1,683.1 1127.2,684.1 1127.3,685.1 1127.4,686.1 1127.5,687.1 1127.5,688.1 1127.6,689.1 1127.7,690.0 1127.8,691.0 1127.9,692.0 1128.0,693.0 1128.1,694.0 1128.1,695.0 1128.2,696.0 1128.3,697.0 1128.4,698.0 1128.5,699.0 1128.6,699.9 1128.6,700.9 1128.7,701.9 1128.8,702.9 1128.9,703.9 1128.9,704.9 1129.0,705.9 1129.1,706.9 1129.2,707.9 1129.3,708.9 1129.3,709.9 1129.4,710.8 1129.5,711.8 1129.6,712.8 1129.6,713.8 1129.7,714.8 1129.8,715.8 1129.8,716.8 1129.9,717.8 1130.0,718.8 1130.1,719.8 1130.1,720.8 1130.2,721.8 1130.3,722.8 1130.3,723.8 1130.4,724.8 1130.5,725.8 1130.6,726.8 1130.6,727.8 1130.7,728.8 1130.8,729.8 1130.8,730.8 1130.9,731.9 1131.0,732.9 1131.0,733.9 1131.1,734.9 1131.2,735.9 1131.2,736.9 1131.3,737.9 1131.4,738.9 1131.4,739.9 1131.5,740.9 1131.5,741.9 1131.6,742.9 1131.7,743.9 1131.7,744.9 1131.8,745.9 1131.8,746.9 1131.9,747.9 1131.9,748.9 1132.0,749.9 1132.1,750.8 1132.1,751.8 1132.2,752.8 1132.2,753.7 1132.2,754.7 1132.3,755.7 1132.3,756.6 1132.4,757.6 1132.4,758.5 1132.5,759.5 1132.5,760.4 1132.5,761.3 1132.6,762.3 1132.6,763.2 1132.6,764.3 1132.7,765.3 1132.7,766.3 1132.7,767.4 1132.8,768.4 1132.8,769.4 1132.8,770.4 1132.8,771.4 1132.8,772.4 1132.8,773.4 1132.9,774.4 1132.9,775.3 1132.9,776.3 1132.9,777.3 1132.9,778.2 1132.9,779.2 1132.9,780.2 1132.9,781.1 1132.9,782.1 1132.9,783.0 1132.9,784.0 1132.9,785.0 1132.9,785.9 1132.9,786.9 1132.9,787.9 1132.9,788.8 1132.9,789.8 1132.9,790.8 1132.9,791.8 1132.9,792.8 1132.9,793.8 1132.9,794.8 1132.9,795.8 1133.0,796.9 1133.0,797.9 1133.0,798.9 1133.0,800.0 1133.0,800.9 1133.0,801.9 1133.0,802.8 1133.1,803.7 1133.1,804.7 1133.1,805.6 1133.1,806.6 1133.1,807.5 1133.2,808.5 1133.2,809.4 1133.2,810.4 1133.2,811.4 1133.2,812.4 1133.3,813.3 1133.3,814.3 1133.3,815.3 1133.3,816.3 1133.3,817.3 1133.4,818.3 1133.4,819.3 1133.4,820.3 1133.4,821.3 1133.5,822.3 1133.5,823.3 1133.5,824.3 1133.5,825.3 1133.6,826.3 1133.6,827.3 1133.6,828.3 1133.6,829.3 1133.6,830.3 1133.7,831.3 1133.7,832.4 1133.7,833.4 1133.7,834.4 1133.8,835.4 1133.8,836.4 1133.8,837.4 1133.8,838.4 1133.8,839.4 1133.9,840.4 1133.9,841.4 1133.9,842.4 1133.9,843.4 1133.9,844.4 1134.0,845.4 1134.0,846.4 1134.0,847.4 1134.0,848.4 1134.0,849.4 1134.0,850.4 1134.0,851.4 1134.1,852.4 1134.1,853.4 1134.1,854.4 1134.1,855.5 1134.1,856.5 1134.1,857.5 1134.1,858.6 1134.1,859.6 1134.1,860.7 1134.1,861.7 1134.1,862.7 1134.1,863.8 1134.1,864.8 1134.2,865.9 1134.2,866.9 1134.2,868.0 1134.2,869.0 1134.2,870.1 1134.2,871.1 1134.2,872.1 1134.2,873.2 1134.2,874.2 1134.2,875.2 1134.2,876.3 1134.2,877.3 1134.2,878.3 1134.2,879.3 1134.2,880.3 1134.2,881.3 1134.3,882.3 1134.3,883.3 1134.3,884.3 1134.3,885.2 1134.3,886.2 1134.3,887.1 1134.3,888.1 1134.3,889.0 1134.3,889.9 1134.4,890.9 1134.4,891.8 1134.4,892.6 1134.4,893.5 1134.4,894.4 1134.5,895.2 1134.5,896.1 1134.5,896.9 1134.5,898.0 1134.6,899.1 1134.6,900.1 1134.6,901.1 1134.7,902.1 1134.7,903.1 1134.7,904.0 1134.8,904.9 1134.8,905.8 1134.9,906.7 1134.9,907.6 1134.9,908.5 1135.0,909.4 1135.0,910.3 1135.1,911.2 1135.1,912.1 1135.2,913.0 1135.2,913.9 1135.3,914.8 1135.4,915.8 1135.4,916.8 1135.5,917.8 1135.6,918.8 1135.6,919.9 1135.7,921.0 1135.8,921.8 1135.8,922.7 1135.9,923.5 1136.0,924.4 1136.0,925.3 1136.1,926.1 1136.2,927.0 1136.3,928.0 1136.4,928.9 1136.5,929.8 1136.6,930.8 1136.7,931.7 1136.8,932.7 1136.9,933.6 1137.0,934.6 1137.1,935.6 1137.2,936.6 1137.3,937.6 1137.4,938.6 1137.5,939.6 1137.6,940.6 1137.7,941.6 1137.8,942.7 1137.9,943.7 1138.0,944.7 1138.1,945.8 1138.2,946.8 1138.3,947.8 1138.5,948.9 1138.6,949.9 1138.7,951.0 1138.8,952.0 1138.9,953.1 1139.0,954.1 1139.0,955.2 1139.1,956.2 1139.2,957.2 1139.3,958.3 1139.4,959.3 1139.5,960.4 1139.6,961.4 1139.6,962.4 1139.7,963.4 1139.8,964.5 1139.8,965.5 1139.9,966.5 1139.9,967.5 1140.0,968.5 1140.0,969.5 1140.0,970.5 1140.1,971.5 1140.1,972.5 1140.1,973.5 1140.1,974.5 1140.2,975.5 1140.2,976.6 1140.2,977.6 1140.2,978.6 1140.2,979.7 1140.2,980.7 1140.2,981.8 1140.2,982.8 1140.2,983.9 1140.2,984.9 1140.2,986.0 1140.2,987.0 1140.2,988.1 1140.2,989.1 1140.1,990.2 1140.1,991.2 1140.1,992.3 1140.1,993.3 1140.1,994.4 1140.0,995.4 1140.0,996.4 1140.0,997.4 1140.0,998.5 1139.9,999.5 1139.9,1000.5 1139.9,1001.5 1139.8,1002.5 1139.8,1003.5 1139.8,1004.5 1139.8,1005.4 1139.7,1006.4 1139.7,1007.4 1139.7,1008.3 1139.6,1009.2 1139.6,1010.2 1139.6,1011.1 1139.5,1012.0 1139.5,1012.9 1139.5,1013.7 1139.4,1014.6 1139.4,1015.4 1139.4,1016.3 1139.3,1017.1 1139.3,1017.9 1139.3,1019.0 1139.2,1020.1 1139.2,1021.2 1139.1,1022.3 1139.1,1023.4 1139.0,1024.4 1139.0,1025.4 1138.9,1026.4 1138.8,1027.4 1138.8,1028.3 1138.7,1029.3 1138.7,1030.2 1138.6,1031.1 1138.5,1032.1 1138.5,1033.0 1138.4,1033.9 1138.3,1034.8 1138.3,1035.6 1138.2,1036.5 1138.2,1037.4 1138.1,1038.3 1138.1,1039.1 1138.0,1040.0 1138.0,1041.0 1137.9,1042.0 1137.9,1043.0 1138.0,1044.0 1138.0,1045.0 1138.0,1046.0 1138.0,1046.9 1138.1,1047.9 1138.1,1048.8 1138.0,1049.7 1138.0,1050.6 1137.9,1051.5 1137.7,1052.4 1137.6,1053.3 1137.3,1054.1 1137.0,1055.0 1136.6,1055.8 1136.2,1056.6 1135.8,1057.4 1135.2,1058.2 1134.7,1058.9 1134.1,1059.7 1133.5,1060.4 1132.8,1061.2 1132.2,1061.9 1131.5,1062.6 1130.8,1063.3 1130.1,1064.0 1129.4,1064.7 1128.7,1065.4 1128.0,1066.0 1127.3,1066.7 1126.6,1067.4 1126.0,1068.0 1125.2,1068.7 1124.4,1069.4 1123.5,1070.1 1122.6,1070.8 1121.6,1071.4 1120.7,1072.0 1119.7,1072.7 1118.9,1073.3 1118.1,1073.9 1117.4,1074.5 1116.8,1075.1 1116.4,1075.7 1116.1,1076.4 1116.0,1077.0 1116.1,1077.6 1116.4,1078.2 1116.8,1078.9 1117.4,1079.5 1118.0,1080.1 1118.8,1080.7 1119.6,1081.4 1120.5,1082.0 1121.5,1082.6 1122.5,1083.2 1123.4,1083.8 1124.4,1084.4 1125.3,1084.9 1126.2,1085.5 1127.0,1086.0 1127.8,1086.5 1128.6,1087.0 1129.4,1087.4 1130.2,1087.9 1131.0,1088.3 1131.8,1088.7 1132.6,1089.1 1133.5,1089.5 1134.3,1089.9 1135.1,1090.3 1136.0,1090.8 1136.8,1091.3 1137.7,1091.8 1138.6,1092.3 1139.4,1092.8 1140.1,1093.3 1140.9,1093.8 1141.7,1094.3 1142.5,1094.8 1143.3,1095.4 1144.1,1095.9 1144.9,1096.5 1145.7,1097.0 1146.6,1097.6 1147.4,1098.2 1148.2,1098.8 1149.0,1099.4 1149.9,1100.1 1150.7,1100.7 1151.5,1101.3 1152.3,1102.0 1153.1,1102.6 1153.9,1103.3 1154.7,1103.9 1155.5,1104.6 1156.2,1105.2 1156.9,1105.9 1157.7,1106.5 1158.4,1107.2 1159.1,1107.9 1159.8,1108.5 1160.5,1109.2 1161.2,1109.9 1161.9,1110.6 1162.6,1111.4 1163.3,1112.1 1164.0,1112.8 1164.7,1113.5 1165.4,1114.3 1166.1,1115.0 1166.8,1115.7 1167.4,1116.4 1168.1,1117.2 1168.8,1117.9 1169.4,1118.6 1170.1,1119.4 1170.7,1120.1 1171.4,1120.8 1172.0,1121.5 1172.7,1122.2 1173.3,1123.0 1173.9,1123.7 1174.5,1124.5 1175.1,1125.2 1175.7,1126.0 1176.3,1126.7 1176.9,1127.5 1177.5,1128.2 1178.0,1129.0 1178.6,1129.7 1179.2,1130.5 1179.8,1131.2 1180.3,1132.0 1180.9,1132.7 1181.5,1133.5 1182.1,1134.2 1182.8,1135.0 1183.4,1135.7 1184.0,1136.5 1184.7,1137.2 1185.4,1137.9 1186.1,1138.6 1186.8,1139.3 1187.6,1139.9 1188.3,1140.6 1189.1,1141.3 1190.0,1141.9 1190.8,1142.6 1191.6,1143.3 1192.5,1143.9 1193.3,1144.6 1194.2,1145.3 1195.0,1145.9 1195.8,1146.6 1196.5,1147.3 1197.3,1148.0 1198.0,1148.7 1198.7,1149.3 1199.3,1150.0 1199.9,1150.8 1200.4,1151.5 1200.9,1152.2 1201.3,1152.9 1201.7,1153.7 1202.0,1154.6 1202.3,1155.5 1202.4,1156.5 1202.5,1157.5 1202.6,1158.4 1202.6,1159.4 1202.5,1160.4 1202.4,1161.4 1202.3,1162.5 1202.2,1163.5 1202.1,1164.4 1202.0,1165.4 1201.8,1166.4 1201.8,1167.3 1201.7,1168.3 1201.7,1169.1 1201.7,1170.0 1201.8,1171.0 1201.8,1171.9 1201.9,1172.8 1202.0,1173.6 1202.0,1174.5 1202.1,1175.3 1202.2,1176.2 1202.4,1177.0 1202.6,1178.0 1202.8,1178.9 1203.0,1180.0 1203.2,1180.8 1203.4,1181.6 1203.6,1182.4 1203.9,1183.2 1204.1,1184.1 1204.4,1185.0 1204.7,1186.0 1205.0,1186.9 1205.4,1187.9 1205.7,1188.8 1206.0,1189.8 1206.4,1190.8 1206.7,1191.9 1207.1,1192.9 1207.5,1193.9 1207.9,1194.9 1208.2,1195.9 1208.6,1196.9 1209.0,1197.9 1209.4,1198.9 1209.8,1199.9 1210.2,1200.9 1210.5,1201.8 1210.9,1202.7 1211.2,1203.6 1211.6,1204.5 1212.0,1205.5 1212.4,1206.4 1212.8,1207.4 1213.2,1208.3 1213.6,1209.3 1213.9,1210.2 1214.3,1211.1 1214.7,1212.0 1215.1,1212.9 1215.5,1213.8 1215.9,1214.7 1216.3,1215.5 1216.7,1216.4 1217.2,1217.3 1217.6,1218.2 1218.0,1219.1 1218.4,1219.9 1218.9,1220.8 1219.3,1221.7 1219.8,1222.6 1220.2,1223.4 1220.7,1224.3 1221.2,1225.1 1221.7,1225.9 1222.2,1226.8 1222.7,1227.6 1223.2,1228.4 1223.7,1229.2 1224.2,1230.0 1224.8,1230.9 1225.3,1231.7 1225.8,1232.5 1226.4,1233.3 1226.9,1234.1 1227.4,1235.0 1227.9,1235.8 1228.4,1236.6 1228.9,1237.5 1229.4,1238.3 1229.8,1239.1 1230.3,1240.0 1230.7,1240.8 1231.1,1241.7 1231.6,1242.6 1232.0,1243.5 1232.5,1244.4 1232.9,1245.3 1233.3,1246.2 1233.8,1247.1 1234.2,1248.0 1234.6,1248.9 1235.0,1249.8 1235.4,1250.7 1235.7,1251.6 1236.1,1252.6 1236.4,1253.5 1236.7,1254.4 1237.0,1255.3 1237.3,1256.2 1237.6,1257.2 1237.8,1258.1 1238.0,1259.0 1238.2,1259.9 1238.3,1260.9 1238.4,1261.8 1238.5,1262.8 1238.6,1263.8 1238.6,1264.7 1238.7,1265.7 1238.7,1266.7 1238.7,1267.6 1238.6,1268.6 1238.6,1269.6 1238.6,1270.5 1238.5,1271.5 1238.5,1272.4 1238.4,1273.4 1238.4,1274.3 1238.4,1275.2 1238.3,1276.1 1238.3,1277.0 1238.3,1278.0 1238.2,1279.0 1238.1,1280.0 1238.1,1280.9 1238.0,1281.9 1237.9,1282.8 1237.8,1283.7 1237.7,1284.7 1237.6,1285.6 1237.6,1286.6 1237.5,1287.5 1237.4,1288.5 1237.4,1289.5 1237.4,1290.6 1237.4,1291.5 1237.4,1292.4 1237.4,1293.3 1237.4,1294.3 1237.5,1295.2 1237.5,1296.2 1237.6,1297.2 1237.6,1298.1 1237.7,1299.1 1237.7,1300.1 1237.8,1301.1 1237.8,1302.2 1237.9,1303.2 1238.0,1304.2 1238.1,1305.2 1238.2,1306.2 1238.3,1307.2 1238.4,1308.2 1238.5,1309.2 1238.6,1310.2 1238.7,1311.2 1238.8,1312.2 1238.9,1313.2 1239.1,1314.1 1239.2,1315.1 1239.4,1316.1 1239.5,1317.1 1239.6,1318.1 1239.8,1319.0 1240.0,1320.0 1240.1,1321.0 1240.3,1322.0 1240.5,1322.9 1240.7,1323.9 1240.9,1324.9 1241.0,1325.9 1241.2,1326.8 1241.4,1327.8 1241.7,1328.8 1241.9,1329.8 1242.1,1330.7 1242.3,1331.7 1242.5,1332.6 1242.7,1333.6 1243.0,1334.5 1243.2,1335.5 1243.5,1336.4 1243.7,1337.3 1244.0,1338.3 1244.2,1339.2 1244.5,1340.2 1244.7,1341.1 1245.0,1342.0 1245.3,1343.0 1245.6,1343.9 1245.8,1344.8 1246.1,1345.8 1246.4,1346.7 1246.7,1347.6 1247.0,1348.6 1247.3,1349.5 1247.6,1350.4 1247.9,1351.4 1248.2,1352.3 1248.5,1353.2 1248.8,1354.2 1249.1,1355.1 1249.5,1356.1 1249.8,1357.1 1250.1,1358.0 1250.5,1359.0 1250.8,1359.9 1251.2,1360.9 1251.5,1361.8 1251.9,1362.8 1252.2,1363.7 1252.6,1364.7 1252.9,1365.6 1253.3,1366.5 1253.6,1367.5 1254.0,1368.4 1254.3,1369.3 1254.7,1370.2 1255.0,1371.1 1255.4,1372.0 1255.7,1372.9 1256.0,1373.9 1256.4,1374.8 1256.7,1375.8 1257.0,1376.8 1257.2,1377.8 1257.5,1378.7 1257.8,1379.7 1258.1,1380.7 1258.4,1381.6 1258.7,1382.6 1259.0,1383.5 1259.3,1384.4 1259.7,1385.2 1260.1,1386.1 1260.5,1386.9 1260.9,1387.6 1261.5,1388.3 1262.0,1389.0 1262.7,1389.7 1263.3,1390.3 1264.1,1391.0 1264.8,1391.5 1265.6,1392.0 1266.4,1392.5 1267.3,1393.0 1268.2,1393.5 1269.1,1393.9 1270.0,1394.3 1271.0,1394.6 1271.9,1395.0 1272.9,1395.3 1274.0,1395.7 1275.0,1396.0 1275.8,1396.2 1276.6,1396.5 1277.5,1396.7 1278.4,1396.8 1279.3,1397.0 1280.2,1397.2 1281.1,1397.3 1282.1,1397.5 1283.1,1397.6 1284.1,1397.7 1285.1,1397.8 1286.1,1397.9 1287.1,1398.0 1288.1,1398.1 1289.1,1398.1 1290.2,1398.2 1291.2,1398.3 1292.2,1398.3 1293.2,1398.4 1294.2,1398.4 1295.2,1398.5 1296.2,1398.6 1297.2,1398.6 1298.1,1398.7 1299.1,1398.7 1300.0,1398.8 1301.0,1398.9 1301.9,1398.9 1302.8,1399.0 1303.6,1399.0 1304.4,1399.1 1305.2,1399.1 1305.9,1399.2 1306.7,1399.2 1307.5,1399.2 1308.2,1399.2 1309.0,1399.3 1309.9,1399.3 1310.7,1399.3 1311.6,1399.3 1312.6,1399.4 1313.6,1399.4 1314.7,1399.4 1315.9,1399.4 1317.2,1399.4 1318.5,1399.5 1320.0,1399.5 1320.4,1399.5 1320.8,1399.5 1321.2,1399.5 1321.7,1399.5 1322.1,1399.5 1322.5,1399.6 1323.0,1399.6 1323.5,1399.6 1323.9,1399.6 1324.4,1399.6 1324.9,1399.6 1325.4,1399.6 1325.9,1399.6 1326.4,1399.6 1326.9,1399.6 1327.4,1399.6 1327.9,1399.6 1328.5,1399.7 1329.0,1399.7 1329.6,1399.7 1330.1,1399.7 1330.7,1399.7 1331.3,1399.7 1331.8,1399.7 1332.4,1399.7 1333.0,1399.7 1333.6,1399.7 1334.2,1399.7 1334.8,1399.7 1335.5,1399.8 1336.1,1399.8 1336.7,1399.8 1337.4,1399.8 1338.0,1399.8 1338.7,1399.8 1339.3,1399.8 1340.0,1399.8 1340.7,1399.8 1341.4,1399.8 1342.0,1399.8 1342.7,1399.8 1343.4,1399.9 1344.2,1399.9 1344.9,1399.9 1345.6,1399.9 1346.3,1399.9 1347.0,1399.9 1347.8,1399.9 1348.5,1399.9 1349.3,1399.9 1350.0,1399.9 1350.8,1399.9 1351.6,1399.9 1352.4,1400.0 1353.1,1400.0 1353.9,1400.0 1354.7,1400.0 1355.5,1400.0 1356.3,1400.0 1357.1,1400.0 1357.9,1400.0 1358.8,1400.0 1359.6,1400.0 1360.4,1400.0 1361.3,1400.0 1362.1,1400.1 1363.0,1400.1 1363.8,1400.1 1364.7,1400.1 1365.5,1400.1 1366.4,1400.1 1367.3,1400.1 1368.2,1400.1 1369.1,1400.1 1370.0,1400.1 1370.8,1400.1 1371.7,1400.1 1372.7,1400.2 1373.6,1400.2 1374.5,1400.2 1375.4,1400.2 1376.3,1400.2 1377.3,1400.2 1378.2,1400.2 1379.1,1400.2 1380.1,1400.2 1381.0,1400.2 1382.0,1400.2 1382.9,1400.2 1383.9,1400.3 1384.9,1400.3 1385.8,1400.3 1386.8,1400.3 1387.8,1400.3 1388.8,1400.3 1389.8,1400.3 1390.8,1400.3 1391.8,1400.3 1392.8,1400.3 1393.8,1400.3 1394.8,1400.3 1395.8,1400.4 1396.8,1400.4 1397.8,1400.4 1398.9,1400.4 1399.9,1400.4 1400.9,1400.4 1402.0,1400.4 1403.0,1400.4 1404.0,1400.4 1405.1,1400.4 1406.1,1400.4 1407.2,1400.4 1408.2,1400.5 1409.3,1400.5 1410.4,1400.5 1411.4,1400.5 1412.5,1400.5 1413.6,1400.5 1414.7,1400.5 1415.7,1400.5 1416.8,1400.5 1417.9,1400.5 1419.0,1400.5 1420.1,1400.5 1421.2,1400.5 1422.3,1400.6 1423.4,1400.6 1424.5,1400.6 1425.6,1400.6 1426.7,1400.6 1427.8,1400.6 1428.9,1400.6 1430.1,1400.6 1431.2,1400.6 1432.3,1400.6 1433.4,1400.6 1434.6,1400.6 1435.7,1400.7 1436.8,1400.7 1438.0,1400.7 1439.1,1400.7 1440.2,1400.7 1441.4,1400.7 1442.5,1400.7 1443.7,1400.7 1444.8,1400.7 1446.0,1400.7 1447.1,1400.7 1448.3,1400.7 1449.4,1400.7 1450.6,1400.8 1451.8,1400.8 1452.9,1400.8 1454.1,1400.8 1455.3,1400.8 1456.4,1400.8 1457.6,1400.8 1458.8,1400.8 1459.9,1400.8 1461.1,1400.8 1462.3,1400.8 1463.5,1400.8 1464.6,1400.8 1465.8,1400.8 1467.0,1400.9 1468.2,1400.9 1469.4,1400.9 1470.6,1400.9 1471.7,1400.9 1472.9,1400.9 1474.1,1400.9 1475.3,1400.9 1476.5,1400.9 1477.7,1400.9 1478.9,1400.9 1480.1,1400.9 1481.3,1400.9 1482.5,1401.0 1483.7,1401.0 1484.9,1401.0 1486.0,1401.0 1487.2,1401.0 1488.4,1401.0 1489.6,1401.0 1490.8,1401.0 1492.0,1401.0 1493.2,1401.0 1494.4,1401.0 1495.6,1401.0 1496.8,1401.0 1498.0,1401.0 1499.2,1401.0 1500.4,1401.1 1501.6,1401.1 1502.8,1401.1 1504.0,1401.1 1505.3,1401.1 1506.5,1401.1 1507.7,1401.1 1508.9,1401.1 1510.1,1401.1 1511.3,1401.1 1512.5,1401.1 1513.7,1401.1 1514.9,1401.1 1516.1,1401.1 1517.3,1401.1 1518.5,1401.2 1519.7,1401.2 1520.9,1401.2 1522.1,1401.2 1523.2,1401.2 1524.4,1401.2 1525.6,1401.2 1526.8,1401.2 1528.0,1401.2 1529.2,1401.2 1530.4,1401.2 1531.6,1401.2 1532.8,1401.2 1534.0,1401.2 1535.2,1401.2 1536.4,1401.2 1537.5,1401.3 1538.7,1401.3 1539.9,1401.3 1541.1,1401.3 1542.3,1401.3 1543.5,1401.3 1544.6,1401.3 1545.8,1401.3 1547.0,1401.3 1548.2,1401.3 1549.3,1401.3 1550.5,1401.3 1551.7,1401.3 1552.8,1401.3 1554.0,1401.3 1555.2,1401.3 1556.3,1401.3 1557.5,1401.4 1558.7,1401.4 1559.8,1401.4 1561.0,1401.4 1562.1,1401.4 1563.3,1401.4 1564.4,1401.4 1565.6,1401.4 1566.7,1401.4 1567.8,1401.4 1569.0,1401.4 1570.1,1401.4 1571.3,1401.4 1572.4,1401.4 1573.5,1401.4 1574.7,1401.4 1575.8,1401.4 1576.9,1401.4 1578.0,1401.5 1579.1,1401.5 1580.3,1401.5 1581.4,1401.5 1582.5,1401.5 1583.6,1401.5 1584.7,1401.5 1585.8,1401.5 1586.9,1401.5 1588.0,1401.5 1589.1,1401.5 1590.2,1401.5 1591.3,1401.5 1592.3,1401.5 1593.4,1401.5 1594.5,1401.5 1595.6,1401.5 1596.6,1401.5 1597.7,1401.5 1598.8,1401.5 1599.8,1401.5 1600.9,1401.6 1601.9,1401.6 1603.0,1401.6 1604.0,1401.6 1605.1,1401.6 1606.1,1401.6 1607.2,1401.6 1608.2,1401.6 1609.2,1401.6 1610.2,1401.6 1611.3,1401.6 1612.3,1401.6 1613.3,1401.6 1614.3,1401.6 1615.3,1401.6 1616.3,1401.6 1617.3,1401.6 1618.3,1401.6 1619.3,1401.6 1620.3,1401.6 1621.2,1401.6 1622.2,1401.6 1623.2,1401.6 1624.2,1401.6 1625.1,1401.6 1626.1,1401.7 1627.0,1401.7 1628.0,1401.7 1628.9,1401.7 1629.9,1401.7 1630.8,1401.7 1631.7,1401.7 1632.7,1401.7 1633.6,1401.7 1634.5,1401.7 1635.4,1401.7 1636.3,1401.7 1637.2,1401.7 1638.1,1401.7 1639.0,1401.7 1640.1,1401.7 1641.2,1401.7 1642.3,1401.7 1643.4,1401.7 1644.5,1401.7 1645.6,1401.7 1646.7,1401.7 1647.8,1401.7 1648.9,1401.7 1650.0,1401.7 1651.1,1401.7 1652.2,1401.7 1653.3,1401.7 1654.4,1401.7 1655.5,1401.7 1656.6,1401.7 1657.7,1401.7 1658.8,1401.8 1659.9,1401.8 1661.0,1401.8 1662.1,1401.8 1663.2,1401.8 1664.3,1401.8 1665.4,1401.8 1666.5,1401.8 1667.6,1401.8 1668.6,1401.8 1669.7,1401.8 1670.8,1401.8 1671.9,1401.8 1673.0,1401.8 1674.1,1401.8 1675.1,1401.8 1676.2,1401.8 1677.3,1401.8 1678.4,1401.8 1679.5,1401.8 1680.5,1401.8 1681.6,1401.8 1682.7,1401.8 1683.8,1401.8 1684.8,1401.8 1685.9,1401.8 1687.0,1401.8 1688.0,1401.8 1689.1,1401.8 1690.2,1401.8 1691.2,1401.8 1692.3,1401.8 1693.4,1401.8 1694.4,1401.8 1695.5,1401.8 1696.6,1401.8 1697.6,1401.8 1698.7,1401.8 1699.7,1401.8 1700.8,1401.8 1701.9,1401.8 1702.9,1401.8 1704.0,1401.8 1705.0,1401.8 1706.1,1401.8 1707.1,1401.8 1708.2,1401.8 1709.2,1401.8 1710.3,1401.8 1711.3,1401.8 1712.4,1401.8 1713.4,1401.8 1714.5,1401.8 1715.5,1401.8 1716.5,1401.8 1717.6,1401.7 1718.6,1401.7 1719.7,1401.7 1720.7,1401.7 1721.7,1401.7 1722.8,1401.7 1723.8,1401.7 1724.8,1401.7 1725.9,1401.7 1726.9,1401.7 1727.9,1401.7 1729.0,1401.7 1730.0,1401.7 1731.0,1401.7 1732.1,1401.7 1733.1,1401.7 1734.1,1401.7 1735.1,1401.7 1736.1,1401.7 1737.2,1401.7 1738.2,1401.7 1739.2,1401.7 1740.2,1401.7 1741.2,1401.7 1742.3,1401.7 1743.3,1401.7 1744.3,1401.7 1745.3,1401.7 1746.3,1401.7 1747.3,1401.7 1748.3,1401.7 1749.3,1401.7 1750.3,1401.7 1751.3,1401.7 1752.3,1401.7 1753.3,1401.7 1754.3,1401.7 1755.3,1401.7 1756.3,1401.7 1757.3,1401.7 1758.3,1401.7 1759.3,1401.7 1760.3,1401.7 1761.3,1401.7 1762.3,1401.7 1763.3,1401.7 1764.3,1401.7 1765.3,1401.7 1766.2,1401.7 1767.2,1401.7 1768.2,1401.7 1769.2,1401.7 1770.2,1401.7 1771.1,1401.7 1772.1,1401.7 1773.1,1401.6 1774.1,1401.6 1775.1,1401.6 1776.0,1401.6 1777.0,1401.6 1778.0,1401.6 1778.9,1401.6 1779.9,1401.6 1780.9,1401.6 1781.8,1401.6 1782.8,1401.6 1783.8,1401.6 1784.7,1401.6 1785.7,1401.6 1786.6,1401.6 1787.6,1401.6 1788.6,1401.6 1789.5,1401.6 1790.5,1401.6 1791.4,1401.6 1792.4,1401.6 1793.3,1401.6 1794.3,1401.6 1795.2,1401.6 1796.1,1401.6 1797.1,1401.6 1798.0,1401.6 1799.0,1401.6 1799.9,1401.6 1800.8,1401.6 1801.8,1401.6 1802.7,1401.6 1803.7,1401.6 1804.6,1401.6 1805.5,1401.6 1806.4,1401.6 1807.4,1401.6 1808.3,1401.6 1809.2,1401.6 1810.1,1401.6 1811.1,1401.6 1812.0,1401.6 1812.9,1401.6 1813.8,1401.6 1814.7,1401.6 1815.7,1401.6 1816.6,1401.6 1817.5,1401.6 1818.4,1401.6 1819.3,1401.6 1820.2,1401.6 1821.1,1401.6 1822.0,1401.6 1822.9,1401.6 1823.8,1401.6 1824.7,1401.6 1825.6,1401.6 1826.5,1401.6 1827.4,1401.6 1828.3,1401.6 1829.2,1401.6 1830.1,1401.6 1831.0,1401.7 1831.9,1401.7 1832.8,1401.7 1833.6,1401.7 1834.5,1401.7 1835.4,1401.7 1836.3,1401.7 1837.2,1401.7 1838.0,1401.7 1838.9,1401.7 1839.8,1401.7 1840.7,1401.7 1841.5,1401.7 1842.4,1401.7 1843.3,1401.7 1844.1,1401.7 1845.0,1401.7 1846.1,1401.7 1847.2,1401.7 1848.4,1401.7 1849.5,1401.7 1850.6,1401.7 1851.7,1401.7 1852.8,1401.7 1853.9,1401.7 1855.1,1401.8 1856.2,1401.8 1857.3,1401.8 1858.4,1401.8 1859.5,1401.8 1860.6,1401.8 1861.7,1401.8 1862.8,1401.8 1863.9,1401.8 1864.9,1401.8 1866.0,1401.8 1867.1,1401.8 1868.2,1401.8 1869.3,1401.8 1870.4,1401.8 1871.4,1401.8 1872.5,1401.9 1873.6,1401.9 1874.7,1401.9 1875.7,1401.9 1876.8,1401.9 1877.9,1401.9 1878.9,1401.9 1880.0,1401.9 1881.0,1401.9 1882.1,1401.9 1883.2,1401.9 1884.2,1401.9 1885.3,1401.9 1886.3,1402.0 1887.4,1402.0 1888.4,1402.0 1889.4,1402.0 1890.5,1402.0 1891.5,1402.0 1892.5,1402.0 1893.6,1402.0 1894.6,1402.0 1895.6,1402.0 1896.7,1402.0 1897.7,1402.1 1898.7,1402.1 1899.7,1402.1 1900.7,1402.1 1901.7,1402.1 1902.7,1402.1 1903.8,1402.1 1904.8,1402.1 1905.8,1402.1 1906.8,1402.1 1907.8,1402.1 1908.8,1402.2 1909.8,1402.2 1910.7,1402.2 1911.7,1402.2 1912.7,1402.2 1913.7,1402.2 1914.7,1402.2 1915.7,1402.2 1916.6,1402.2 1917.6,1402.2 1918.6,1402.3 1919.6,1402.3 1920.5,1402.3 1921.5,1402.3 1922.5,1402.3 1923.4,1402.3 1924.4,1402.3 1925.3,1402.3 1926.3,1402.3 1927.2,1402.3 1928.2,1402.4 1929.1,1402.4 1930.1,1402.4 1931.0,1402.4 1931.9,1402.4 1932.9,1402.4 1933.8,1402.4 1934.7,1402.4 1935.7,1402.4 1936.6,1402.4 1937.5,1402.5 1938.4,1402.5 1939.4,1402.5 1940.3,1402.5 1941.2,1402.5 1942.1,1402.5 1943.0,1402.5 1943.9,1402.5 1944.8,1402.5 1945.7,1402.6 1946.6,1402.6 1947.5,1402.6 1948.4,1402.6 1949.3,1402.6 1950.2,1402.6 1951.1,1402.6 1951.9,1402.6 1952.8,1402.6 1953.7,1402.7 1954.6,1402.7 1955.4,1402.7 1956.3,1402.7 1957.2,1402.7 1958.0,1402.7 1958.9,1402.7 1959.8,1402.7 1960.6,1402.8 1961.5,1402.8 1962.3,1402.8 1963.2,1402.8 1964.0,1402.8 1965.1,1402.8 1966.2,1402.8 1967.4,1402.8 1968.5,1402.9 1969.6,1402.9 1970.6,1402.9 1971.7,1402.9 1972.8,1402.9 1973.9,1403.0 1974.9,1403.0 1976.0,1403.0 1977.0,1403.0 1978.1,1403.0 1979.1,1403.0 1980.1,1403.1 1981.1,1403.1 1982.2,1403.1 1983.2,1403.1 1984.2,1403.1 1985.2,1403.2 1986.2,1403.2 1987.2,1403.2 1988.2,1403.2 1989.1,1403.2 1990.1,1403.3 1991.1,1403.3 1992.1,1403.3 1993.0,1403.3 1994.0,1403.3 1995.0,1403.4 1995.9,1403.4 1996.9,1403.4 1997.8,1403.4 1998.8,1403.4 1999.7,1403.4 2000.7,1403.5 2001.6,1403.5 2002.5,1403.5 2003.5,1403.5 2004.4,1403.5 2005.4,1403.6 2006.3,1403.6 2007.2,1403.6 2008.2,1403.6 2009.1,1403.6 2010.0,1403.7 2011.0,1403.7 2011.9,1403.7 2012.8,1403.7 2013.8,1403.7 2014.7,1403.8 2015.7,1403.8 2016.6,1403.8 2017.5,1403.8 2018.5,1403.8 2019.4,1403.8 2020.4,1403.9 2021.3,1403.9 2022.3,1403.9 2023.2,1403.9 2024.2,1403.9 2025.1,1403.9 2026.1,1404.0 2027.1,1404.0 2028.0,1404.0 2029.0,1404.0 2030.0,1404.0 2031.0,1404.0 2032.0,1404.0 2033.0,1404.1 2034.0,1404.1 2035.0,1404.1 2036.0,1404.1 2037.0,1404.1 2038.0,1404.1 2039.1,1404.1 2040.1,1404.1 2041.1,1404.1 2042.1,1404.2 2043.1,1404.2 2044.1,1404.2 2045.1,1404.2 2046.2,1404.2 2047.2,1404.2 2048.2,1404.2 2049.2,1404.2 2050.2,1404.2 2051.2,1404.2 2052.3,1404.2 2053.3,1404.2 2054.3,1404.2 2055.3,1404.3 2056.3,1404.3 2057.3,1404.3 2058.3,1404.3 2059.3,1404.3 2060.3,1404.3 2061.3,1404.3 2062.4,1404.3 2063.4,1404.3 2064.4,1404.3 2065.3,1404.3 2066.3,1404.3 2067.3,1404.3 2068.3,1404.4 2069.3,1404.4 2070.3,1404.4 2071.3,1404.4 2072.3,1404.4 2073.2,1404.4 2074.2,1404.4 2075.2,1404.4 2076.1,1404.4 2077.1,1404.4 2078.1,1404.5 2079.0,1404.5 2080.0,1404.5 2080.9,1404.5 2081.9,1404.5 2082.8,1404.5 2083.7,1404.5 2084.6,1404.6 2085.6,1404.6 2086.5,1404.6 2087.4,1404.6 2088.3,1404.6 2089.2,1404.7 2090.1,1404.7 2091.0,1404.7 2092.1,1404.7 2093.1,1404.8 2094.2,1404.8 2095.2,1404.8 2096.3,1404.8 2097.3,1404.9 2098.3,1404.9 2099.3,1404.9 2100.4,1405.0 2101.4,1405.0 2102.4,1405.1 2103.4,1405.1 2104.3,1405.1 2105.3,1405.2 2106.3,1405.2 2107.3,1405.2 2108.3,1405.3 2109.2,1405.3 2110.2,1405.4 2111.2,1405.4 2112.1,1405.5 2113.1,1405.5 2114.0,1405.5 2115.0,1405.6 2115.9,1405.6 2116.9,1405.7 2117.8,1405.7 2118.8,1405.7 2119.7,1405.8 2120.7,1405.8 2121.6,1405.9 2122.6,1405.9 2123.5,1405.9 2124.5,1406.0 2125.4,1406.0 2126.3,1406.1 2127.3,1406.1 2128.2,1406.1 2129.2,1406.2 2130.1,1406.2 2131.1,1406.2 2132.0,1406.3 2133.0,1406.3 2134.0,1406.3 2135.0,1406.4 2136.0,1406.4 2137.0,1406.4 2138.0,1406.5 2139.0,1406.5 2140.0,1406.5 2141.0,1406.6 2141.9,1406.6 2142.9,1406.6 2143.9,1406.6 2144.9,1406.7 2145.9,1406.7 2146.9,1406.7 2147.9,1406.8 2148.9,1406.8 2149.9,1406.8 2150.9,1406.8 2151.8,1406.9 2152.8,1406.9 2153.8,1406.9 2154.8,1407.0 2155.8,1407.0 2156.7,1407.0 2157.7,1407.0 2158.7,1407.1 2159.7,1407.1 2160.6,1407.1 2161.6,1407.1 2162.6,1407.2 2163.5,1407.2 2164.5,1407.2 2165.4,1407.2 2166.4,1407.3 2167.3,1407.3 2168.3,1407.3 2169.2,1407.3 2170.1,1407.4 2171.1,1407.4 2172.0,1407.4 2173.0,1407.4 2174.0,1407.4 2175.0,1407.5 2176.0,1407.5 2177.0,1407.5 2177.9,1407.5 2178.9,1407.6 2179.8,1407.6 2180.8,1407.6 2181.7,1407.6 2182.6,1407.7 2183.6,1407.7 2184.5,1407.7 2185.4,1407.7 2186.4,1407.7 2187.3,1407.8 2188.2,1407.8 2189.2,1407.8 2190.1,1407.8 2191.0,1407.8 2192.0,1407.9 2192.9,1407.9 2193.9,1407.9 2194.8,1407.9 2195.8,1407.9 2196.8,1408.0 2197.8,1408.0 2198.8,1408.0 2199.8,1408.0 2200.8,1408.0 2201.9,1408.1 2202.9,1408.1 2204.0,1408.1 2204.9,1408.1 2205.8,1408.1 2206.8,1408.2 2207.8,1408.2 2208.9,1408.2 2210.0,1408.2 2211.1,1408.2 2212.3,1408.3 2213.4,1408.3 2214.6,1408.3 2215.9,1408.3 2217.1,1408.3 2218.4,1408.4 2219.6,1408.4 2220.9,1408.4 2222.2,1408.4 2223.5,1408.5 2224.8,1408.5 2226.1,1408.5 2227.5,1408.5 2228.8,1408.6 2230.1,1408.6 2231.4,1408.6 2232.6,1408.6 2233.9,1408.6 2235.2,1408.7 2236.4,1408.7 2237.6,1408.7 2238.8,1408.7 2239.9,1408.8 2241.1,1408.8 2242.2,1408.8 2243.3,1408.8 2244.3,1408.8 2245.3,1408.8 2246.2,1408.9 2247.2,1408.9 2248.0,1408.9 2248.8,1408.9 2249.6,1408.9 2250.3,1408.9 2251.0,1408.9 2251.6,1409.0 2252.1,1409.0 2252.6,1409.0 2253.0,1409.0 2253.4,1409.0 2253.6,1409.0 2253.8,1409.0 2254.0,1409.0 2254.0,1409.0" marker-start="url(#mS)" marker-mid="url(#mS)" marker-end="url(#mS)"/><polyline fill="none" shape-rendering="crispEdges" stroke="#f0f" stroke-width="2" points="332.0,58.5 332.1,58.7 332.4,59.2 332.9,59.9 333.5,60.8 334.1,61.7 334.8,62.7 335.4,63.7 336.0,64.5 336.5,65.3 337.1,66.0 337.6,66.8 338.2,67.5 338.8,68.3 339.3,69.0 339.9,69.8 340.5,70.5 341.1,71.2 341.7,71.9 342.3,72.6 342.9,73.3 343.6,74.0 344.2,74.6 344.9,75.3 345.5,76.0 346.2,76.7 346.8,77.4 347.5,78.1 348.2,78.8 348.9,79.5 349.6,80.2 350.3,80.8 351.0,81.5 351.7,82.1 352.4,82.8 353.1,83.4 353.8,84.0 354.5,84.7 355.1,85.3 355.8,85.9 356.5,86.5 357.2,87.2 358.0,87.8 358.7,88.4 359.4,89.1 360.1,89.7 360.8,90.4 361.5,91.0 362.2,91.6 362.8,92.3 363.5,92.9 364.2,93.5 364.8,94.2 365.4,94.8 366.0,95.5 366.6,96.2 367.1,96.9 367.6,97.6 368.1,98.4 368.7,99.1 369.3,100.0 369.8,100.6 370.2,101.3 370.8,102.0 371.3,102.8 371.8,103.5 372.4,104.3 373.0,105.1 373.5,106.0 374.1,106.8 374.7,107.6 375.2,108.4 375.8,109.2 376.3,110.0 376.8,110.8 377.4,111.7 377.9,112.5 378.4,113.3 378.9,114.1 379.4,115.0 379.9,115.8 380.4,116.6 380.9,117.5 381.4,118.3 381.9,119.2 382.4,120.0 382.9,120.8 383.3,121.7 383.8,122.5 384.2,123.3 384.7,124.2 385.1,125.0 385.6,125.8 386.0,126.7 386.5,127.5 386.9,128.3 387.3,129.2 387.8,130.0 388.3,130.8 388.7,131.7 389.2,132.5 389.6,133.3 390.1,134.2 390.5,135.0 391.0,135.8 391.4,136.7 391.9,137.5 392.4,138.3 392.8,139.2 393.3,140.0 393.8,140.8 394.3,141.7 394.8,142.5 395.3,143.3 395.8,144.2 396.3,145.0 396.8,145.8 397.4,146.7 397.9,147.5 398.4,148.3 398.8,149.2 399.3,150.0 399.7,150.8 400.1,151.7 400.5,152.5 400.9,153.3 401.3,154.2 401.7,155.0 402.0,155.9 402.4,156.7 402.8,157.5 403.3,158.4 403.7,159.2 404.2,160.0 404.7,160.8 405.3,161.6 405.9,162.5 406.5,163.3 407.2,164.1 407.8,164.9 408.5,165.7 409.1,166.5 409.8,167.3 410.4,168.0 411.0,168.7 411.5,169.4 412.0,170.0 412.7,170.9 413.4,171.7 414.0,172.4 414.5,173.1 415.1,173.9 415.6,174.7 416.1,175.5 416.6,176.3 417.0,177.2 417.5,178.0 418.0,178.7 418.5,179.4 419.1,180.0 419.6,180.7 420.2,181.3 420.9,182.1 421.4,182.7 421.9,183.3 422.5,184.0 423.1,184.7 423.7,185.4 424.3,186.2 425.0,187.0 425.7,187.8 426.3,188.5 427.0,189.3 427.7,190.1 428.4,190.8 429.1,191.5 429.8,192.2 430.5,192.9 431.3,193.6 432.1,194.3 432.8,195.0 433.6,195.6 434.4,196.3 435.2,196.9 435.9,197.6 436.7,198.2 437.4,198.7 438.1,199.3 438.7,199.8 439.5,200.4 440.2,200.9 440.9,201.4 441.6,201.9 442.2,202.4 442.9,202.8 443.6,203.3 444.4,203.8 445.2,204.4 446.0,204.9 446.8,205.4 447.6,206.0 448.4,206.5 449.2,207.0 450.0,207.6 450.8,208.1 451.7,208.6 452.5,209.1 453.3,209.6 454.1,210.1 454.9,210.5 455.7,210.9 456.5,211.3 457.3,211.7 458.1,212.1 458.9,212.4 459.7,212.8 460.5,213.1 461.4,213.4 462.2,213.7 463.0,214.0 463.8,214.4 464.6,214.7 465.4,215.1 466.2,215.5 467.0,215.9 467.8,216.2 468.6,216.5 469.4,216.7 470.2,217.0 471.0,217.2 471.8,217.4 472.6,217.6 473.4,217.8 474.1,218.0 474.8,218.2 475.6,218.4 476.5,218.6 477.5,218.9 478.1,219.1 478.8,219.2 479.6,219.4 480.3,219.6 481.1,219.8 482.0,220.0 482.9,220.3 483.8,220.5 484.7,220.7 485.7,221.0 486.7,221.2 487.7,221.5 488.7,221.7 489.7,222.0 490.8,222.2 491.8,222.4 492.8,222.7 493.9,222.9 494.9,223.1 496.0,223.4 497.0,223.6 498.0,223.8 498.9,224.0 499.8,224.2 500.8,224.3 501.7,224.5 502.6,224.7 503.6,224.9 504.5,225.0 505.5,225.2 506.5,225.4 507.5,225.5 508.4,225.7 509.4,225.9 510.4,226.0 511.4,226.2 512.4,226.4 513.4,226.5 514.4,226.7 515.4,226.8 516.4,227.0 517.4,227.2 518.4,227.3 519.4,227.5 520.4,227.6 521.4,227.8 522.4,227.9 523.3,228.1 524.3,228.2 525.3,228.4 526.3,228.6 527.2,228.7 528.2,228.9 529.2,229.0 530.2,229.2 531.1,229.3 532.1,229.5 533.1,229.7 534.0,229.8 535.0,230.0 536.0,230.1 536.9,230.3 537.9,230.4 538.9,230.6 539.9,230.7 540.8,230.9 541.8,231.0 542.8,231.2 543.7,231.3 544.7,231.5 545.7,231.6 546.7,231.7 547.6,231.9 548.6,232.0 549.6,232.1 550.5,232.3 551.5,232.4 552.5,232.5 553.5,232.6 554.4,232.7 555.3,232.8 556.2,232.9 557.1,233.0 558.0,233.1 558.8,233.2 559.7,233.3 560.5,233.4 561.4,233.4 562.3,233.5 563.1,233.6 564.0,233.7 564.9,233.7 565.8,233.8 566.7,233.9 567.6,234.0 568.5,234.0 569.5,234.1 570.5,234.2 571.6,234.3 572.6,234.3 573.8,234.4 574.9,234.5 576.1,234.6 577.4,234.7 578.7,234.8 580.0,234.9 580.6,234.9 581.2,235.0 581.8,235.0 582.5,235.1 583.1,235.1 583.8,235.2 584.4,235.2 585.1,235.3 585.8,235.3 586.5,235.4 587.2,235.4 587.9,235.5 588.6,235.5 589.3,235.6 590.1,235.6 590.8,235.7 591.6,235.7 592.4,235.8 593.1,235.9 593.9,235.9 594.7,236.0 595.5,236.0 596.3,236.1 597.1,236.1 598.0,236.2 598.8,236.2 599.6,236.3 600.5,236.4 601.3,236.4 602.2,236.5 603.1,236.5 603.9,236.6 604.8,236.7 605.7,236.7 606.6,236.8 607.5,236.8 608.4,236.9 609.4,237.0 610.3,237.0 611.2,237.1 612.2,237.2 613.1,237.2 614.1,237.3 615.0,237.3 616.0,237.4 616.9,237.5 617.9,237.5 618.9,237.6 619.9,237.7 620.9,237.7 621.9,237.8 622.9,237.9 623.9,237.9 624.9,238.0 625.9,238.1 626.9,238.1 628.0,238.2 629.0,238.3 630.0,238.3 631.1,238.4 632.1,238.5 633.1,238.5 634.2,238.6 635.3,238.7 636.3,238.7 637.4,238.8 638.4,238.9 639.5,238.9 640.6,239.0 641.7,239.1 642.7,239.1 643.8,239.2 644.9,239.3 646.0,239.4 647.1,239.4 648.2,239.5 649.3,239.6 650.4,239.6 651.5,239.7 652.6,239.8 653.7,239.8 654.8,239.9 655.9,240.0 657.0,240.1 658.1,240.1 659.3,240.2 660.4,240.3 661.5,240.3 662.6,240.4 663.7,240.5 664.9,240.6 666.0,240.6 667.1,240.7 668.2,240.8 669.4,240.8 670.5,240.9 671.6,241.0 672.7,241.0 673.9,241.1 675.0,241.2 676.1,241.3 677.2,241.3 678.4,241.4 679.5,241.5 680.6,241.5 681.7,241.6 682.9,241.7 684.0,241.7 685.1,241.8 686.2,241.9 687.4,242.0 688.5,242.0 689.6,242.1 690.7,242.2 691.8,242.2 693.0,242.3 694.1,242.4 695.2,242.4 696.3,242.5 697.4,242.6 698.5,242.6 699.6,242.7 700.7,242.8 701.8,242.8 702.9,242.9 704.0,243.0 705.1,243.0 706.2,243.1 707.3,243.2 708.3,243.2 709.4,243.3 710.5,243.4 711.6,243.4 712.6,243.5 713.7,243.6 714.8,243.6 715.8,243.7 716.9,243.8 717.9,243.8 719.0,243.9 720.0,243.9 721.1,244.0 722.1,244.1 723.1,244.1 724.1,244.2 725.2,244.3 726.2,244.3 727.2,244.4 728.2,244.4 729.2,244.5 730.2,244.6 731.2,244.6 732.2,244.7 733.2,244.7 734.2,244.8 735.2,244.9 736.3,244.9 737.3,245.0 738.3,245.0 739.4,245.1 740.4,245.2 741.5,245.2 742.5,245.3 743.6,245.3 744.7,245.4 745.7,245.5 746.8,245.5 747.9,245.6 749.0,245.6 750.1,245.7 751.1,245.8 752.2,245.8 753.3,245.9 754.4,245.9 755.5,246.0 756.7,246.1 757.8,246.1 758.9,246.2 760.0,246.2 761.1,246.3 762.2,246.4 763.4,246.4 764.5,246.5 765.6,246.5 766.7,246.6 767.9,246.7 769.0,246.7 770.1,246.8 771.3,246.8 772.4,246.9 773.6,246.9 774.7,247.0 775.8,247.1 777.0,247.1 778.1,247.2 779.3,247.2 780.4,247.3 781.6,247.4 782.7,247.4 783.8,247.5 785.0,247.5 786.1,247.6 787.3,247.7 788.4,247.7 789.6,247.8 790.7,247.8 791.9,247.9 793.0,248.0 794.2,248.0 795.3,248.1 796.4,248.1 797.6,248.2 798.7,248.2 799.9,248.3 801.0,248.4 802.1,248.4 803.3,248.5 804.4,248.5 805.5,248.6 806.6,248.7 807.8,248.7 808.9,248.8 810.0,248.8 811.1,248.9 812.2,248.9 813.3,249.0 814.4,249.1 815.5,249.1 816.7,249.2 817.7,249.2 818.8,249.3 819.9,249.3 821.0,249.4 822.1,249.4 823.2,249.5 824.3,249.6 825.3,249.6 826.4,249.7 827.4,249.7 828.5,249.8 829.6,249.8 830.6,249.9 831.6,249.9 832.7,250.0 833.7,250.1 834.7,250.1 835.8,250.2 836.8,250.2 837.8,250.3 838.8,250.3 839.8,250.4 840.8,250.4 841.8,250.5 842.7,250.5 843.7,250.6 844.7,250.7 845.6,250.7 846.6,250.8 847.5,250.8 848.5,250.9 849.4,250.9 850.3,251.0 851.3,251.0 852.2,251.1 853.1,251.1 854.0,251.2 854.9,251.2 855.7,251.3 856.6,251.3 857.5,251.4 858.3,251.4 859.2,251.5 860.0,251.5 860.8,251.6 861.7,251.6 862.5,251.7 863.3,251.7 864.1,251.8 864.8,251.8 865.6,251.9 866.4,251.9 867.1,252.0 867.9,252.0 868.6,252.1 869.3,252.1 870.0,252.2 870.8,252.2 871.4,252.3 872.1,252.3 872.8,252.4 873.5,252.4 874.1,252.4 874.8,252.5 875.4,252.5 876.0,252.6 876.6,252.6 877.2,252.7 877.8,252.7 878.4,252.8 878.9,252.8 879.5,252.9 880.0,252.9 881.3,253.0 882.6,253.1 883.7,253.2 884.8,253.3 885.8,253.4 886.8,253.6 887.6,253.7 888.5,253.8 889.3,253.9 890.1,254.0 890.9,254.1 891.6,254.2 892.4,254.3 893.2,254.4 894.0,254.5 894.9,254.6 895.8,254.7 896.7,254.8 897.7,254.9 898.8,255.0 900.0,255.1 900.7,255.2 901.5,255.2 902.2,255.3 903.0,255.4 903.8,255.4 904.6,255.5 905.4,255.5 906.2,255.6 907.1,255.7 907.9,255.7 908.8,255.8 909.7,255.9 910.6,255.9 911.5,256.0 912.5,256.0 913.4,256.1 914.3,256.2 915.3,256.2 916.3,256.3 917.2,256.3 918.2,256.4 919.2,256.5 920.2,256.5 921.2,256.6 922.3,256.6 923.3,256.7 924.3,256.8 925.4,256.8 926.4,256.9 927.5,257.0 928.5,257.0 929.6,257.1 930.7,257.2 931.7,257.2 932.8,257.3 933.9,257.4 935.0,257.4 936.0,257.5 937.1,257.6 938.2,257.7 939.3,257.7 940.4,257.8 941.5,257.9 942.6,258.0 943.6,258.1 944.7,258.1 945.8,258.2 946.9,258.3 948.0,258.4 949.0,258.5 950.1,258.6 951.2,258.7 952.3,258.8 953.3,258.9 954.4,259.0 955.4,259.1 956.5,259.2 957.5,259.3 958.5,259.4 959.6,259.5 960.6,259.6 961.6,259.8 962.6,259.9 963.6,260.0 964.6,260.1 965.6,260.3 966.6,260.4 967.6,260.5 968.6,260.7 969.6,260.8 970.6,260.9 971.6,261.1 972.7,261.2 973.7,261.4 974.7,261.5 975.8,261.7 976.8,261.9 977.9,262.0 978.9,262.2 980.0,262.3 981.0,262.5 982.1,262.7 983.1,262.9 984.2,263.0 985.2,263.2 986.3,263.4 987.4,263.6 988.4,263.7 989.5,263.9 990.5,264.1 991.6,264.3 992.6,264.5 993.7,264.6 994.7,264.8 995.8,265.0 996.8,265.2 997.8,265.4 998.9,265.6 999.9,265.8 1000.9,265.9 1001.9,266.1 1002.9,266.3 1003.9,266.5 1004.9,266.7 1005.9,266.9 1006.9,267.1 1007.9,267.3 1008.9,267.4 1009.8,267.6 1010.8,267.8 1011.7,268.0 1012.7,268.2 1013.6,268.3 1014.5,268.5 1015.5,268.7 1016.4,268.9 1017.2,269.1 1018.1,269.2 1019.0,269.4 1019.9,269.6 1020.7,269.7 1021.5,269.9 1022.4,270.1 1023.2,270.2 1024.0,270.4 1024.7,270.5 1025.5,270.7 1026.3,270.9 1027.0,271.0 1028.2,271.2 1029.3,271.5 1030.4,271.7 1031.5,271.9 1032.5,272.2 1033.6,272.4 1034.5,272.6 1035.5,272.8 1036.4,273.1 1037.4,273.3 1038.3,273.5 1039.2,273.7 1040.1,273.9 1041.0,274.1 1041.8,274.4 1042.7,274.6 1043.6,274.8 1044.5,275.0 1045.4,275.2 1046.3,275.4 1047.2,275.6 1048.1,275.9 1049.0,276.1 1050.0,276.3 1051.0,276.5 1051.9,276.7 1052.9,276.9 1053.8,277.1 1054.8,277.4 1055.8,277.6 1056.7,277.8 1057.7,278.0 1058.7,278.2 1059.7,278.4 1060.6,278.6 1061.6,278.8 1062.6,279.0 1063.5,279.2 1064.5,279.4 1065.5,279.6 1066.5,279.8 1067.4,280.1 1068.4,280.3 1069.4,280.5 1070.3,280.8 1071.3,281.0 1072.3,281.3 1073.2,281.5 1074.2,281.8 1075.1,282.1 1076.1,282.3 1077.0,282.6 1077.9,282.9 1078.9,283.2 1079.8,283.5 1080.7,283.8 1081.7,284.1 1082.6,284.4 1083.5,284.7 1084.5,285.0 1085.4,285.3 1086.3,285.7 1087.3,286.0 1088.2,286.3 1089.1,286.6 1090.1,287.0 1091.0,287.3 1091.9,287.6 1092.8,288.0 1093.8,288.3 1094.7,288.6 1095.6,289.0 1096.5,289.3 1097.5,289.7 1098.4,290.0 1099.3,290.3 1100.2,290.7 1101.1,291.0 1102.0,291.3 1102.9,291.7 1103.8,292.0 1104.7,292.3 1105.6,292.7 1106.5,293.0 1107.4,293.4 1108.3,293.7 1109.2,294.1 1110.1,294.4 1111.0,294.8 1111.9,295.1 1112.8,295.5 1113.7,295.8 1114.6,296.2 1115.5,296.6 1116.4,296.9 1117.2,297.3 1118.1,297.7 1119.0,298.1 1119.9,298.4 1120.8,298.8 1121.7,299.2 1122.6,299.6 1123.5,300.0 1124.3,300.4 1125.2,300.8 1126.1,301.1 1127.0,301.5 1127.8,301.9 1128.7,302.3 1129.6,302.7 1130.5,303.1 1131.3,303.5 1132.2,303.9 1133.1,304.3 1134.0,304.7 1134.8,305.2 1135.7,305.6 1136.6,306.0 1137.4,306.4 1138.3,306.8 1139.2,307.3 1140.0,307.7 1140.9,308.2 1141.8,308.6 1142.6,309.1 1143.5,309.5 1144.3,310.0 1145.2,310.4 1146.0,310.9 1146.9,311.4 1147.8,311.9 1148.6,312.4 1149.4,312.9 1150.3,313.4 1151.1,313.9 1152.0,314.4 1152.8,314.9 1153.7,315.4 1154.5,315.9 1155.3,316.5 1156.2,317.0 1157.0,317.5 1157.9,318.1 1158.7,318.6 1159.5,319.2 1160.4,319.7 1161.2,320.3 1162.0,320.8 1162.9,321.4 1163.7,322.0 1164.5,322.5 1165.3,323.1 1166.2,323.7 1167.0,324.3 1167.8,324.8 1168.6,325.4 1169.5,326.0 1170.3,326.6 1171.1,327.2 1171.9,327.8 1172.7,328.4 1173.5,328.9 1174.3,329.5 1175.1,330.1 1175.9,330.7 1176.7,331.4 1177.6,332.0 1178.4,332.6 1179.2,333.2 1180.0,333.8 1180.8,334.5 1181.6,335.1 1182.4,335.7 1183.2,336.3 1184.1,337.0 1184.9,337.6 1185.6,338.3 1186.4,338.9 1187.2,339.5 1188.0,340.2 1188.8,340.8 1189.5,341.5 1190.3,342.1 1191.0,342.7 1191.8,343.4 1192.5,344.0 1193.2,344.6 1193.9,345.3 1194.6,345.9 1195.3,346.5 1196.1,347.2 1196.8,347.9 1197.6,348.7 1198.3,349.4 1199.1,350.1 1199.8,350.8 1200.5,351.5 1201.2,352.2 1201.9,352.9 1202.5,353.7 1203.2,354.4 1203.9,355.1 1204.5,355.8 1205.2,356.5 1205.8,357.2 1206.5,358.0 1207.1,358.7 1207.8,359.4 1208.4,360.1 1209.1,360.8 1209.7,361.6 1210.4,362.3 1211.0,363.0 1211.7,363.7 1212.3,364.5 1213.0,365.2 1213.6,365.9 1214.2,366.6 1214.9,367.3 1215.5,368.0 1216.1,368.7 1216.8,369.5 1217.4,370.2 1218.0,370.9 1218.6,371.6 1219.3,372.3 1219.9,373.1 1220.5,373.8 1221.1,374.6 1221.7,375.3 1222.3,376.1 1222.9,376.8 1223.5,377.6 1224.1,378.4 1224.7,379.2 1225.3,380.0 1225.8,380.7 1226.4,381.5 1226.9,382.3 1227.5,383.1 1228.0,384.0 1228.5,384.8 1229.1,385.6 1229.6,386.4 1230.2,387.3 1230.7,388.1 1231.2,389.0 1231.7,389.8 1232.3,390.7 1232.8,391.5 1233.3,392.4 1233.8,393.2 1234.4,394.1 1234.9,395.0 1235.4,395.8 1235.9,396.7 1236.4,397.5 1237.0,398.3 1237.5,399.2 1238.0,400.0 1238.5,400.8 1239.1,401.7 1239.6,402.5 1240.1,403.4 1240.6,404.2 1241.2,405.0 1241.7,405.9 1242.2,406.7 1242.7,407.5 1243.3,408.4 1243.8,409.2 1244.3,410.0 1244.8,410.8 1245.3,411.7 1245.8,412.5 1246.4,413.3 1246.9,414.2 1247.4,415.0 1247.9,415.8 1248.4,416.7 1248.9,417.5 1249.5,418.3 1250.0,419.2 1250.5,420.0 1251.0,420.8 1251.5,421.7 1252.1,422.5 1252.6,423.3 1253.1,424.2 1253.7,425.0 1254.2,425.8 1254.7,426.6 1255.3,427.5 1255.8,428.3 1256.3,429.1 1256.9,430.0 1257.4,430.8 1257.9,431.6 1258.4,432.4 1258.9,433.3 1259.5,434.1 1260.0,434.9 1260.5,435.8 1260.9,436.6 1261.4,437.5 1261.9,438.3 1262.3,439.2 1262.8,440.0 1263.3,440.9 1263.7,441.8 1264.2,442.7 1264.6,443.6 1265.0,444.5 1265.4,445.4 1265.8,446.3 1266.3,447.2 1266.7,448.1 1267.0,449.0 1267.4,449.9 1267.8,450.9 1268.2,451.8 1268.6,452.7 1269.0,453.6 1269.3,454.5 1269.7,455.4 1270.1,456.3 1270.5,457.3 1270.8,458.2 1271.2,459.1 1271.6,460.0 1272.0,460.9 1272.4,461.8 1272.7,462.7 1273.1,463.6 1273.5,464.5 1273.9,465.4 1274.2,466.3 1274.6,467.3 1275.0,468.2 1275.3,469.1 1275.7,470.0 1276.1,470.9 1276.4,471.8 1276.8,472.7 1277.1,473.6 1277.5,474.5 1277.8,475.4 1278.2,476.4 1278.6,477.3 1278.9,478.2 1279.3,479.1 1279.6,480.0 1279.9,480.9 1280.3,481.8 1280.6,482.7 1281.0,483.6 1281.3,484.5 1281.6,485.4 1281.9,486.4 1282.3,487.3 1282.6,488.2 1282.9,489.1 1283.2,490.0 1283.6,490.9 1283.9,491.8 1284.2,492.7 1284.5,493.6 1284.9,494.5 1285.2,495.5 1285.5,496.4 1285.8,497.3 1286.1,498.2 1286.5,499.1 1286.8,500.0 1287.1,500.9 1287.5,501.8 1287.8,502.7 1288.1,503.6 1288.4,504.5 1288.8,505.5 1289.1,506.4 1289.4,507.3 1289.7,508.2 1290.1,509.1 1290.4,510.0 1290.7,510.9 1291.0,511.8 1291.4,512.7 1291.7,513.6 1292.0,514.5 1292.4,515.5 1292.7,516.4 1293.0,517.3 1293.3,518.2 1293.7,519.1 1294.0,520.0 1294.3,520.9 1294.7,521.8 1295.0,522.8 1295.3,523.7 1295.7,524.6 1296.0,525.6 1296.4,526.5 1296.7,527.5 1297.0,528.4 1297.4,529.3 1297.7,530.3 1298.1,531.2 1298.4,532.1 1298.7,533.1 1299.1,534.0 1299.4,534.9 1299.8,535.8 1300.1,536.6 1300.4,537.5 1300.7,538.3 1301.1,539.2 1301.4,540.0 1301.8,540.9 1302.2,541.9 1302.5,542.8 1302.9,543.6 1303.3,544.5 1303.7,545.3 1304.1,546.2 1304.4,547.0 1304.8,547.8 1305.2,548.6 1305.5,549.5 1305.9,550.3 1306.3,551.2 1306.6,552.1 1307.0,553.0 1307.3,553.8 1307.6,554.7 1308.0,555.5 1308.3,556.4 1308.6,557.3 1308.9,558.1 1309.2,559.0 1309.5,559.9 1309.9,560.8 1310.2,561.7 1310.5,562.6 1310.8,563.5 1311.1,564.4 1311.4,565.4 1311.7,566.3 1312.1,567.2 1312.4,568.1 1312.7,569.1 1313.0,570.0 1313.3,570.9 1313.6,571.8 1313.9,572.6 1314.2,573.5 1314.5,574.4 1314.8,575.3 1315.1,576.2 1315.4,577.1 1315.7,578.1 1316.0,579.0 1316.3,579.9 1316.6,580.8 1316.9,581.7 1317.2,582.6 1317.5,583.6 1317.8,584.5 1318.1,585.4 1318.4,586.3 1318.6,587.3 1318.9,588.2 1319.2,589.1 1319.5,590.0 1319.8,591.0 1320.1,591.9 1320.4,592.9 1320.7,593.8 1321.0,594.8 1321.3,595.7 1321.5,596.7 1321.8,597.6 1322.1,598.6 1322.4,599.6 1322.7,600.5 1323.0,601.5 1323.2,602.4 1323.5,603.4 1323.8,604.3 1324.0,605.3 1324.3,606.2 1324.6,607.2 1324.8,608.1 1325.1,609.1 1325.3,610.0 1325.5,611.0 1325.8,611.9 1326.0,612.8 1326.2,613.8 1326.4,614.7 1326.6,615.6 1326.8,616.4 1327.0,617.3 1327.2,618.2 1327.4,619.1 1327.6,620.1 1327.8,621.0 1328.0,622.0 1328.2,622.9 1328.5,624.0 1328.7,625.0 1328.9,626.1 1329.1,627.2 1329.4,628.4 1329.6,629.1 1329.7,629.9 1329.9,630.7 1330.1,631.5 1330.2,632.3 1330.4,633.1 1330.6,634.0 1330.8,634.9 1331.0,635.7 1331.2,636.6 1331.4,637.5 1331.6,638.4 1331.8,639.4 1332.0,640.3 1332.2,641.2 1332.4,642.2 1332.6,643.2 1332.8,644.1 1333.0,645.1 1333.2,646.1 1333.4,647.1 1333.6,648.1 1333.8,649.1 1334.1,650.2 1334.3,651.2 1334.5,652.2 1334.7,653.3 1334.9,654.3 1335.1,655.3 1335.4,656.4 1335.6,657.4 1335.8,658.5 1336.0,659.5 1336.2,660.6 1336.4,661.6 1336.6,662.7 1336.8,663.7 1337.0,664.7 1337.2,665.8 1337.4,666.8 1337.6,667.9 1337.8,668.9 1338.0,669.9 1338.2,670.9 1338.4,671.9 1338.6,672.9 1338.8,673.9 1339.0,674.9 1339.1,675.9 1339.3,676.9 1339.5,677.9 1339.6,678.9 1339.8,679.9 1340.0,680.8 1340.1,681.8 1340.3,682.8 1340.5,683.8 1340.6,684.8 1340.8,685.8 1341.0,686.8 1341.1,687.7 1341.3,688.7 1341.4,689.7 1341.6,690.7 1341.7,691.7 1341.9,692.7 1342.0,693.7 1342.2,694.7 1342.3,695.6 1342.5,696.6 1342.6,697.6 1342.8,698.6 1342.9,699.6 1343.1,700.6 1343.2,701.6 1343.4,702.6 1343.5,703.5 1343.6,704.5 1343.8,705.5 1343.9,706.5 1344.0,707.5 1344.2,708.5 1344.3,709.5 1344.4,710.5 1344.6,711.5 1344.7,712.4 1344.8,713.4 1345.0,714.4 1345.1,715.4 1345.2,716.4 1345.3,717.4 1345.5,718.4 1345.6,719.4 1345.7,720.4 1345.8,721.3 1345.9,722.3 1346.1,723.3 1346.2,724.3 1346.3,725.3 1346.4,726.3 1346.5,727.3 1346.6,728.3 1346.7,729.2 1346.9,730.2 1347.0,731.2 1347.1,732.2 1347.2,733.2 1347.3,734.2 1347.4,735.2 1347.5,736.2 1347.6,737.1 1347.7,738.1 1347.8,739.1 1347.9,740.1 1347.9,741.1 1348.0,742.1 1348.1,743.1 1348.2,744.1 1348.3,745.0 1348.4,746.0 1348.5,747.0 1348.6,748.0 1348.6,749.0 1348.7,750.0 1348.8,751.0 1348.9,752.0 1349.0,752.9 1349.1,753.9 1349.1,754.9 1349.2,755.9 1349.3,756.9 1349.4,757.9 1349.5,758.9 1349.6,759.9 1349.6,760.9 1349.7,761.8 1349.8,762.8 1349.9,763.8 1350.0,764.8 1350.0,765.8 1350.1,766.8 1350.2,767.8 1350.3,768.8 1350.4,769.7 1350.4,770.7 1350.5,771.7 1350.6,772.7 1350.7,773.7 1350.8,774.7 1350.9,775.7 1351.0,776.7 1351.0,777.7 1351.1,778.7 1351.2,779.8 1351.3,780.8 1351.4,781.8 1351.5,782.9 1351.6,783.9 1351.7,785.0 1351.8,786.0 1351.9,787.1 1352.0,788.2 1352.1,789.2 1352.2,790.3 1352.2,791.3 1352.3,792.4 1352.4,793.5 1352.5,794.5 1352.6,795.6 1352.7,796.6 1352.8,797.7 1352.9,798.7 1353.0,799.8 1353.1,800.8 1353.1,801.8 1353.2,802.9 1353.3,803.9 1353.4,804.9 1353.5,805.9 1353.6,806.9 1353.6,807.9 1353.7,808.9 1353.8,809.9 1353.9,810.8 1353.9,811.8 1354.0,812.7 1354.1,813.6 1354.1,814.5 1354.2,815.4 1354.3,816.3 1354.3,817.2 1354.4,818.1 1354.4,818.9 1354.5,819.7 1354.5,820.5 1354.6,821.3 1354.6,822.1 1354.7,823.3 1354.7,824.4 1354.8,825.5 1354.9,826.5 1355.0,827.6 1355.1,828.6 1355.2,829.6 1355.3,830.5 1355.3,831.5 1355.4,832.4 1355.5,833.3 1355.5,834.2 1355.5,835.1 1355.5,836.0 1355.5,836.9 1355.5,837.8 1355.4,838.7 1355.3,839.6 1355.2,840.6 1355.0,841.5 1354.8,842.4 1354.5,843.3 1354.3,844.2 1353.9,845.1 1353.5,845.9 1353.2,846.8 1352.7,847.7 1352.3,848.5 1351.8,849.4 1351.4,850.3 1350.9,851.1 1350.4,852.0 1349.9,852.9 1349.5,853.7 1349.0,854.6 1348.6,855.5 1348.2,856.4 1347.8,857.3 1347.4,858.2 1347.1,859.1 1346.8,860.0 1346.6,860.9 1346.4,861.8 1346.2,862.8 1346.1,863.7 1345.9,864.7 1345.8,865.6 1345.7,866.6 1345.6,867.5 1345.5,868.5 1345.4,869.4 1345.4,870.4 1345.4,871.3 1345.4,872.3 1345.4,873.3 1345.4,874.3 1345.4,875.3 1345.4,876.3 1345.5,877.4 1345.5,878.4 1345.6,879.4 1345.7,880.5 1345.8,881.6 1345.9,882.7 1346.0,883.5 1346.1,884.4 1346.2,885.3 1346.3,886.1 1346.5,887.0 1346.6,887.9 1346.8,888.8 1346.9,889.8 1347.1,890.7 1347.3,891.6 1347.5,892.6 1347.7,893.5 1347.9,894.5 1348.1,895.4 1348.4,896.4 1348.6,897.4 1348.8,898.3 1349.1,899.3 1349.3,900.3 1349.6,901.3 1349.8,902.3 1350.1,903.3 1350.3,904.3 1350.6,905.3 1350.9,906.3 1351.1,907.3 1351.4,908.2 1351.7,909.2 1352.0,910.2 1352.2,911.2 1352.5,912.2 1352.8,913.2 1353.0,914.2 1353.3,915.1 1353.5,916.1 1353.8,917.1 1354.1,918.0 1354.3,919.0 1354.6,920.0 1354.8,920.9 1355.1,921.9 1355.3,922.9 1355.6,923.8 1355.9,924.8 1356.1,925.8 1356.4,926.8 1356.7,927.8 1357.0,928.7 1357.2,929.7 1357.5,930.7 1357.8,931.7 1358.1,932.7 1358.4,933.7 1358.7,934.7 1359.0,935.6 1359.3,936.6 1359.5,937.6 1359.8,938.6 1360.1,939.5 1360.4,940.5 1360.7,941.5 1361.0,942.4 1361.3,943.4 1361.5,944.4 1361.8,945.3 1362.1,946.2 1362.4,947.2 1362.6,948.1 1362.9,949.0 1363.2,950.0 1363.4,950.9 1363.7,951.8 1364.0,952.7 1364.2,953.6 1364.5,954.4 1364.7,955.3 1365.0,956.3 1365.3,957.3 1365.5,958.4 1365.8,959.3 1366.1,960.3 1366.3,961.3 1366.6,962.2 1366.9,963.2 1367.1,964.1 1367.4,965.1 1367.6,966.0 1367.8,966.9 1368.1,967.8 1368.3,968.8 1368.6,969.7 1368.8,970.6 1369.1,971.5 1369.3,972.4 1369.5,973.3 1369.8,974.3 1370.0,975.2 1370.3,976.2 1370.5,977.1 1370.8,978.1 1371.0,979.0 1371.3,980.0 1371.5,980.9 1371.8,981.8 1372.0,982.7 1372.3,983.6 1372.5,984.5 1372.7,985.4 1373.0,986.3 1373.2,987.2 1373.4,988.1 1373.7,989.0 1373.9,989.9 1374.1,990.9 1374.4,991.8 1374.6,992.7 1374.9,993.6 1375.1,994.5 1375.3,995.5 1375.6,996.4 1375.8,997.3 1376.1,998.3 1376.3,999.3 1376.6,1000.2 1376.8,1001.2 1377.1,1002.2 1377.4,1003.2 1377.6,1004.2 1377.9,1005.2 1378.1,1006.3 1378.4,1007.3 1378.7,1008.4 1378.9,1009.2 1379.1,1010.1 1379.4,1010.9 1379.6,1011.8 1379.8,1012.6 1380.0,1013.5 1380.3,1014.4 1380.5,1015.3 1380.8,1016.2 1381.0,1017.1 1381.2,1018.0 1381.5,1018.9 1381.7,1019.8 1382.0,1020.8 1382.2,1021.7 1382.5,1022.7 1382.8,1023.6 1383.0,1024.6 1383.3,1025.5 1383.5,1026.5 1383.8,1027.4 1384.1,1028.4 1384.3,1029.4 1384.6,1030.4 1384.8,1031.3 1385.1,1032.3 1385.4,1033.3 1385.6,1034.3 1385.9,1035.3 1386.1,1036.3 1386.4,1037.3 1386.7,1038.2 1386.9,1039.2 1387.2,1040.2 1387.4,1041.2 1387.7,1042.2 1388.0,1043.2 1388.2,1044.2 1388.5,1045.2 1388.7,1046.2 1389.0,1047.2 1389.2,1048.2 1389.4,1049.1 1389.7,1050.1 1389.9,1051.1 1390.2,1052.1 1390.4,1053.1 1390.6,1054.0 1390.9,1055.0 1391.1,1055.9 1391.3,1056.9 1391.5,1057.9 1391.7,1058.8 1392.0,1059.8 1392.2,1060.8 1392.4,1061.7 1392.6,1062.7 1392.8,1063.7 1393.0,1064.6 1393.2,1065.6 1393.4,1066.6 1393.6,1067.5 1393.8,1068.5 1393.9,1069.5 1394.1,1070.4 1394.3,1071.4 1394.5,1072.4 1394.7,1073.3 1394.9,1074.3 1395.1,1075.3 1395.2,1076.3 1395.4,1077.2 1395.6,1078.2 1395.8,1079.2 1396.0,1080.1 1396.1,1081.1 1396.3,1082.1 1396.5,1083.0 1396.7,1084.0 1396.9,1085.0 1397.0,1086.0 1397.2,1086.9 1397.4,1087.9 1397.6,1088.9 1397.8,1089.8 1398.0,1090.8 1398.1,1091.8 1398.3,1092.7 1398.5,1093.7 1398.7,1094.7 1398.9,1095.6 1399.1,1096.6 1399.3,1097.6 1399.5,1098.5 1399.7,1099.5 1399.9,1100.5 1400.1,1101.4 1400.3,1102.4 1400.6,1103.4 1400.8,1104.3 1401.0,1105.3 1401.2,1106.3 1401.4,1107.2 1401.7,1108.2 1401.9,1109.1 1402.1,1110.1 1402.4,1111.0 1402.6,1112.0 1402.8,1112.9 1403.1,1113.9 1403.3,1114.8 1403.5,1115.8 1403.8,1116.7 1404.0,1117.7 1404.2,1118.6 1404.5,1119.6 1404.7,1120.5 1405.0,1121.5 1405.2,1122.4 1405.5,1123.4 1405.7,1124.3 1406.0,1125.3 1406.2,1126.2 1406.5,1127.2 1406.7,1128.1 1407.0,1129.1 1407.2,1130.0 1407.5,1131.0 1407.7,1131.9 1408.0,1132.9 1408.3,1133.8 1408.5,1134.8 1408.8,1135.7 1409.0,1136.6 1409.3,1137.6 1409.6,1138.5 1409.8,1139.5 1410.1,1140.4 1410.3,1141.4 1410.6,1142.3 1410.9,1143.3 1411.1,1144.2 1411.4,1145.2 1411.7,1146.1 1411.9,1147.1 1412.2,1148.0 1412.5,1149.0 1412.7,1149.9 1413.0,1150.9 1413.3,1151.8 1413.5,1152.8 1413.8,1153.7 1414.1,1154.7 1414.3,1155.6 1414.6,1156.6 1414.9,1157.5 1415.2,1158.5 1415.4,1159.4 1415.7,1160.4 1416.0,1161.4 1416.3,1162.3 1416.5,1163.3 1416.8,1164.3 1417.1,1165.3 1417.4,1166.2 1417.7,1167.2 1417.9,1168.2 1418.2,1169.2 1418.5,1170.1 1418.8,1171.1 1419.1,1172.1 1419.4,1173.0 1419.7,1174.0 1419.9,1175.0 1420.2,1176.0 1420.5,1176.9 1420.8,1177.9 1421.1,1178.9 1421.4,1179.8 1421.7,1180.8 1422.0,1181.7 1422.3,1182.7 1422.5,1183.7 1422.8,1184.6 1423.1,1185.6 1423.4,1186.5 1423.7,1187.5 1424.0,1188.4 1424.3,1189.4 1424.6,1190.3 1424.9,1191.2 1425.2,1192.2 1425.5,1193.1 1425.8,1194.0 1426.1,1194.9 1426.3,1195.8 1426.6,1196.7 1426.9,1197.6 1427.2,1198.5 1427.5,1199.4 1427.8,1200.3 1428.1,1201.2 1428.4,1202.1 1428.7,1203.1 1429.1,1204.1 1429.4,1205.1 1429.7,1206.1 1430.1,1207.1 1430.4,1208.1 1430.8,1209.1 1431.1,1210.1 1431.4,1211.0 1431.8,1212.0 1432.1,1213.0 1432.4,1214.0 1432.8,1214.9 1433.1,1215.9 1433.5,1216.9 1433.8,1217.8 1434.1,1218.8 1434.5,1219.7 1434.8,1220.7 1435.2,1221.6 1435.5,1222.5 1435.8,1223.5 1436.2,1224.4 1436.5,1225.3 1436.9,1226.2 1437.2,1227.1 1437.6,1228.0 1437.9,1228.9 1438.2,1229.8 1438.6,1230.7 1438.9,1231.6 1439.3,1232.5 1439.6,1233.3 1440.0,1234.2 1440.3,1235.0 1440.7,1235.9 1441.0,1236.7 1441.4,1237.6 1441.7,1238.4 1442.1,1239.4 1442.5,1240.3 1442.9,1241.3 1443.3,1242.3 1443.7,1243.2 1444.1,1244.2 1444.5,1245.1 1444.9,1246.0 1445.2,1247.0 1445.6,1247.9 1446.0,1248.8 1446.4,1249.7 1446.8,1250.6 1447.2,1251.4 1447.6,1252.3 1448.0,1253.2 1448.4,1254.0 1448.8,1254.9 1449.2,1255.7 1449.7,1256.5 1450.1,1257.4 1450.6,1258.2 1451.0,1258.9 1451.5,1259.7 1452.0,1260.5 1452.5,1261.3 1453.0,1262.0 1453.6,1262.8 1454.2,1263.6 1454.8,1264.4 1455.4,1265.2 1456.0,1265.9 1456.7,1266.6 1457.3,1267.4 1458.0,1268.1 1458.7,1268.8 1459.3,1269.5 1460.0,1270.2 1460.7,1270.8 1461.4,1271.5 1462.1,1272.2 1462.9,1272.8 1463.6,1273.4 1464.3,1274.0 1465.0,1274.6 1465.8,1275.2 1466.5,1275.8 1467.3,1276.4 1468.0,1277.0 1468.8,1277.6 1469.6,1278.2 1470.4,1278.8 1471.2,1279.3 1472.0,1279.9 1472.9,1280.4 1473.7,1280.9 1474.5,1281.4 1475.4,1281.9 1476.2,1282.4 1477.1,1282.9 1478.0,1283.4 1478.8,1283.9 1479.7,1284.3 1480.6,1284.8 1481.5,1285.2 1482.5,1285.6 1483.4,1286.1 1484.3,1286.5 1485.3,1286.9 1486.1,1287.2 1487.0,1287.6 1487.8,1287.9 1488.7,1288.2 1489.5,1288.5 1490.4,1288.8 1491.2,1289.1 1492.1,1289.3 1493.0,1289.6 1493.9,1289.9 1494.8,1290.1 1495.7,1290.4 1496.6,1290.6 1497.5,1290.8 1498.4,1291.1 1499.4,1291.3 1500.3,1291.6 1501.3,1291.8 1502.3,1292.1 1503.2,1292.3 1504.3,1292.6 1505.3,1292.9 1506.3,1293.2 1507.4,1293.5 1508.4,1293.8 1509.5,1294.1 1510.3,1294.3 1511.1,1294.6 1511.9,1294.8 1512.8,1295.1 1513.6,1295.3 1514.5,1295.6 1515.3,1295.9 1516.2,1296.1 1517.1,1296.4 1518.0,1296.7 1518.9,1296.9 1519.8,1297.2 1520.7,1297.5 1521.7,1297.8 1522.6,1298.1 1523.6,1298.4 1524.5,1298.7 1525.5,1299.0 1526.5,1299.2 1527.4,1299.5 1528.4,1299.8 1529.4,1300.1 1530.4,1300.4 1531.4,1300.7 1532.4,1301.0 1533.4,1301.4 1534.4,1301.7 1535.4,1302.0 1536.4,1302.3 1537.4,1302.6 1538.4,1302.9 1539.4,1303.2 1540.4,1303.5 1541.4,1303.8 1542.4,1304.1 1543.4,1304.4 1544.4,1304.7 1545.4,1305.0 1546.4,1305.3 1547.4,1305.6 1548.4,1305.9 1549.3,1306.2 1550.3,1306.5 1551.3,1306.8 1552.3,1307.0 1553.2,1307.3 1554.2,1307.6 1555.1,1307.9 1556.0,1308.2 1557.0,1308.4 1557.9,1308.7 1558.9,1309.0 1559.9,1309.3 1560.8,1309.5 1561.8,1309.8 1562.7,1310.1 1563.6,1310.4 1564.6,1310.6 1565.5,1310.9 1566.4,1311.2 1567.3,1311.4 1568.2,1311.7 1569.1,1312.0 1570.0,1312.2 1570.9,1312.5 1571.8,1312.7 1572.7,1313.0 1573.5,1313.2 1574.4,1313.5 1575.3,1313.8 1576.2,1314.0 1577.1,1314.3 1578.0,1314.5 1578.9,1314.8 1579.8,1315.0 1580.7,1315.3 1581.6,1315.5 1582.5,1315.8 1583.5,1316.1 1584.4,1316.3 1585.4,1316.6 1586.3,1316.9 1587.3,1317.1 1588.3,1317.4 1589.3,1317.7 1590.3,1317.9 1591.3,1318.2 1592.3,1318.5 1593.4,1318.8 1594.4,1319.0 1595.5,1319.3 1596.6,1319.6 1597.7,1319.9 1598.8,1320.2 1600.0,1320.5 1600.8,1320.7 1601.5,1320.9 1602.3,1321.1 1603.1,1321.3 1603.9,1321.5 1604.7,1321.7 1605.5,1321.9 1606.3,1322.2 1607.1,1322.4 1608.0,1322.6 1608.8,1322.8 1609.7,1323.0 1610.5,1323.3 1611.4,1323.5 1612.2,1323.7 1613.1,1324.0 1614.0,1324.2 1614.8,1324.4 1615.7,1324.7 1616.6,1324.9 1617.5,1325.1 1618.4,1325.4 1619.3,1325.6 1620.2,1325.9 1621.2,1326.1 1622.1,1326.4 1623.0,1326.6 1623.9,1326.9 1624.9,1327.1 1625.8,1327.4 1626.8,1327.6 1627.7,1327.9 1628.7,1328.1 1629.6,1328.4 1630.6,1328.6 1631.6,1328.9 1632.5,1329.1 1633.5,1329.4 1634.5,1329.6 1635.5,1329.9 1636.5,1330.2 1637.5,1330.4 1638.4,1330.7 1639.4,1330.9 1640.4,1331.2 1641.4,1331.4 1642.4,1331.7 1643.4,1332.0 1644.5,1332.2 1645.5,1332.5 1646.5,1332.7 1647.5,1333.0 1648.5,1333.3 1649.5,1333.5 1650.6,1333.8 1651.6,1334.0 1652.6,1334.3 1653.6,1334.5 1654.7,1334.8 1655.7,1335.0 1656.7,1335.3 1657.7,1335.5 1658.8,1335.8 1659.8,1336.0 1660.8,1336.3 1661.9,1336.5 1662.9,1336.8 1663.9,1337.0 1665.0,1337.2 1666.0,1337.5 1667.0,1337.7 1668.1,1338.0 1669.1,1338.2 1670.2,1338.4 1671.2,1338.7 1672.2,1338.9 1673.3,1339.1 1674.3,1339.3 1675.3,1339.6 1676.3,1339.8 1677.4,1340.0 1678.4,1340.2 1679.4,1340.4 1680.5,1340.7 1681.5,1340.9 1682.5,1341.1 1683.5,1341.3 1684.5,1341.5 1685.6,1341.7 1686.6,1341.9 1687.6,1342.1 1688.6,1342.3 1689.6,1342.5 1690.6,1342.7 1691.6,1342.8 1692.6,1343.0 1693.6,1343.2 1694.6,1343.4 1695.6,1343.5 1696.6,1343.7 1697.5,1343.9 1698.5,1344.0 1699.5,1344.2 1700.5,1344.4 1701.5,1344.5 1702.5,1344.7 1703.5,1344.8 1704.5,1345.0 1705.5,1345.1 1706.5,1345.3 1707.5,1345.4 1708.5,1345.5 1709.5,1345.7 1710.5,1345.8 1711.5,1345.9 1712.5,1346.1 1713.5,1346.2 1714.5,1346.3 1715.5,1346.4 1716.5,1346.6 1717.5,1346.7 1718.5,1346.8 1719.6,1346.9 1720.6,1347.0 1721.6,1347.1 1722.6,1347.3 1723.6,1347.4 1724.6,1347.5 1725.7,1347.6 1726.7,1347.7 1727.7,1347.8 1728.7,1347.9 1729.7,1348.0 1730.8,1348.1 1731.8,1348.2 1732.8,1348.3 1733.8,1348.4 1734.9,1348.5 1735.9,1348.6 1736.9,1348.6 1737.9,1348.7 1738.9,1348.8 1740.0,1348.9 1741.0,1349.0 1742.0,1349.1 1743.0,1349.1 1744.1,1349.2 1745.1,1349.3 1746.1,1349.4 1747.1,1349.5 1748.1,1349.5 1749.2,1349.6 1750.2,1349.7 1751.2,1349.8 1752.2,1349.8 1753.2,1349.9 1754.2,1350.0 1755.3,1350.0 1756.3,1350.1 1757.3,1350.2 1758.3,1350.2 1759.3,1350.3 1760.3,1350.4 1761.3,1350.4 1762.3,1350.5 1763.3,1350.6 1764.3,1350.6 1765.3,1350.7 1766.3,1350.7 1767.3,1350.8 1768.3,1350.9 1769.3,1350.9 1770.3,1351.0 1771.3,1351.0 1772.3,1351.1 1773.3,1351.2 1774.3,1351.2 1775.3,1351.3 1776.2,1351.3 1777.2,1351.4 1778.2,1351.5 1779.2,1351.5 1780.2,1351.6 1781.1,1351.6 1782.1,1351.7 1783.1,1351.7 1784.0,1351.8 1785.0,1351.9 1786.0,1351.9 1786.9,1352.0 1787.9,1352.0 1788.8,1352.1 1789.8,1352.1 1790.7,1352.2 1791.7,1352.3 1792.6,1352.3 1793.5,1352.4 1794.5,1352.4 1795.4,1352.5 1796.3,1352.6 1797.2,1352.6 1798.2,1352.7 1799.1,1352.7 1800.0,1352.8 1801.1,1352.9 1802.1,1352.9 1803.2,1353.0 1804.2,1353.1 1805.3,1353.1 1806.3,1353.2 1807.3,1353.3 1808.4,1353.3 1809.4,1353.4 1810.4,1353.5 1811.4,1353.5 1812.4,1353.6 1813.4,1353.6 1814.4,1353.7 1815.4,1353.8 1816.4,1353.8 1817.4,1353.9 1818.4,1353.9 1819.4,1354.0 1820.3,1354.0 1821.3,1354.1 1822.3,1354.1 1823.3,1354.2 1824.2,1354.2 1825.2,1354.3 1826.2,1354.3 1827.1,1354.4 1828.1,1354.4 1829.0,1354.5 1830.0,1354.5 1831.0,1354.6 1831.9,1354.6 1832.9,1354.7 1833.8,1354.7 1834.8,1354.8 1835.7,1354.8 1836.7,1354.8 1837.6,1354.9 1838.6,1354.9 1839.5,1355.0 1840.5,1355.0 1841.4,1355.1 1842.4,1355.1 1843.3,1355.1 1844.3,1355.2 1845.2,1355.2 1846.2,1355.3 1847.1,1355.3 1848.1,1355.4 1849.1,1355.4 1850.0,1355.4 1851.0,1355.5 1852.0,1355.5 1852.9,1355.6 1853.9,1355.6 1854.9,1355.7 1855.9,1355.7 1856.8,1355.8 1857.8,1355.8 1858.8,1355.8 1859.8,1355.9 1860.8,1355.9 1861.8,1356.0 1862.8,1356.0 1863.8,1356.1 1864.8,1356.1 1865.8,1356.2 1866.8,1356.2 1867.9,1356.3 1868.9,1356.3 1869.9,1356.4 1871.0,1356.4 1872.0,1356.5 1872.9,1356.5 1873.9,1356.6 1874.8,1356.6 1875.7,1356.7 1876.7,1356.8 1877.6,1356.8 1878.5,1356.9 1879.5,1356.9 1880.4,1357.0 1881.3,1357.0 1882.3,1357.1 1883.2,1357.1 1884.1,1357.2 1885.1,1357.2 1886.0,1357.3 1887.0,1357.4 1887.9,1357.4 1888.9,1357.5 1889.8,1357.5 1890.8,1357.6 1891.7,1357.6 1892.7,1357.7 1893.6,1357.8 1894.6,1357.8 1895.5,1357.9 1896.5,1357.9 1897.4,1358.0 1898.4,1358.1 1899.3,1358.1 1900.3,1358.2 1901.3,1358.2 1902.2,1358.3 1903.2,1358.4 1904.1,1358.4 1905.1,1358.5 1906.1,1358.5 1907.0,1358.6 1908.0,1358.7 1909.0,1358.7 1910.0,1358.8 1910.9,1358.8 1911.9,1358.9 1912.9,1359.0 1913.9,1359.0 1914.8,1359.1 1915.8,1359.1 1916.8,1359.2 1917.8,1359.3 1918.8,1359.3 1919.8,1359.4 1920.8,1359.4 1921.8,1359.5 1922.7,1359.5 1923.7,1359.6 1924.7,1359.7 1925.7,1359.7 1926.7,1359.8 1927.7,1359.8 1928.7,1359.9 1929.7,1359.9 1930.8,1360.0 1931.8,1360.1 1932.8,1360.1 1933.8,1360.2 1934.8,1360.2 1935.8,1360.3 1936.8,1360.3 1937.9,1360.4 1938.9,1360.4 1939.9,1360.5 1940.9,1360.5 1941.9,1360.6 1943.0,1360.6 1944.0,1360.7 1945.0,1360.7 1946.1,1360.8 1947.1,1360.8 1948.2,1360.8 1949.2,1360.9 1950.2,1360.9 1951.3,1361.0 1952.3,1361.0 1953.4,1361.1 1954.4,1361.1 1955.5,1361.1 1956.5,1361.2 1957.6,1361.2 1958.7,1361.2 1959.7,1361.3 1960.8,1361.3 1961.9,1361.3 1962.9,1361.4 1964.0,1361.4 1964.9,1361.4 1965.8,1361.4 1966.7,1361.5 1967.6,1361.5 1968.6,1361.5 1969.5,1361.5 1970.4,1361.6 1971.3,1361.6 1972.2,1361.6 1973.2,1361.6 1974.1,1361.6 1975.0,1361.7 1975.9,1361.7 1976.9,1361.7 1977.8,1361.7 1978.7,1361.7 1979.7,1361.7 1980.6,1361.7 1981.5,1361.8 1982.5,1361.8 1983.4,1361.8 1984.4,1361.8 1985.3,1361.8 1986.3,1361.8 1987.2,1361.8 1988.2,1361.8 1989.1,1361.9 1990.1,1361.9 1991.0,1361.9 1992.0,1361.9 1992.9,1361.9 1993.9,1361.9 1994.8,1361.9 1995.8,1361.9 1996.8,1361.9 1997.7,1361.9 1998.7,1361.9 1999.6,1361.9 2000.6,1361.9 2001.6,1361.9 2002.5,1361.9 2003.5,1361.9 2004.5,1361.9 2005.5,1361.9 2006.4,1361.9 2007.4,1361.9 2008.4,1361.9 2009.4,1361.9 2010.3,1362.0 2011.3,1362.0 2012.3,1362.0 2013.3,1362.0 2014.3,1362.0 2015.3,1361.9 2016.2,1361.9 2017.2,1361.9 2018.2,1361.9 2019.2,1361.9 2020.2,1361.9 2021.2,1361.9 2022.2,1361.9 2023.2,1361.9 2024.2,1361.9 2025.2,1361.9 2026.2,1361.9 2027.2,1361.9 2028.2,1361.9 2029.2,1361.9 2030.2,1361.9 2031.2,1361.9 2032.2,1361.9 2033.2,1361.9 2034.2,1361.9 2035.2,1361.9 2036.2,1361.9 2037.2,1361.9 2038.2,1361.9 2039.2,1361.9 2040.3,1361.9 2041.3,1361.9 2042.3,1361.9 2043.3,1361.8 2044.3,1361.8 2045.3,1361.8 2046.3,1361.8 2047.4,1361.8 2048.4,1361.8 2049.4,1361.8 2050.4,1361.8 2051.5,1361.8 2052.5,1361.8 2053.5,1361.8 2054.5,1361.8 2055.6,1361.8 2056.6,1361.8 2057.6,1361.8 2058.6,1361.8 2059.7,1361.8 2060.7,1361.8 2061.7,1361.8 2062.8,1361.8 2063.8,1361.7 2064.8,1361.7 2065.9,1361.7 2066.9,1361.7 2067.9,1361.7 2069.0,1361.7 2070.0,1361.7 2071.0,1361.7 2072.1,1361.7 2073.1,1361.7 2074.2,1361.7 2075.2,1361.7 2076.2,1361.7 2077.3,1361.7 2078.3,1361.7 2079.4,1361.7 2080.4,1361.7 2081.5,1361.7 2082.5,1361.7 2083.6,1361.7 2084.6,1361.7 2085.7,1361.7 2086.7,1361.7 2087.7,1361.7 2088.8,1361.7 2089.8,1361.7 2090.9,1361.7 2091.9,1361.7 2093.0,1361.7 2093.9,1361.7 2094.9,1361.7 2095.9,1361.7 2096.8,1361.7 2097.8,1361.7 2098.8,1361.7 2099.9,1361.7 2100.9,1361.7 2101.9,1361.7 2103.0,1361.7 2104.0,1361.7 2105.1,1361.7 2106.2,1361.7 2107.3,1361.7 2108.4,1361.7 2109.5,1361.7 2110.6,1361.7 2111.8,1361.7 2112.9,1361.7 2114.1,1361.7 2115.2,1361.7 2116.4,1361.7 2117.6,1361.7 2118.8,1361.8 2120.0,1361.8 2121.2,1361.8 2122.4,1361.8 2123.6,1361.8 2124.8,1361.8 2126.0,1361.8 2127.3,1361.8 2128.5,1361.8 2129.8,1361.8 2131.0,1361.8 2132.3,1361.8 2133.6,1361.8 2134.8,1361.8 2136.1,1361.8 2137.4,1361.8 2138.7,1361.8 2140.0,1361.8 2141.3,1361.8 2142.6,1361.8 2143.9,1361.8 2145.2,1361.8 2146.5,1361.8 2147.8,1361.8 2149.1,1361.8 2150.4,1361.8 2151.7,1361.8 2153.0,1361.8 2154.4,1361.8 2155.7,1361.8 2157.0,1361.8 2158.3,1361.8 2159.7,1361.8 2161.0,1361.8 2162.3,1361.8 2163.6,1361.8 2165.0,1361.8 2166.3,1361.8 2167.6,1361.8 2168.9,1361.8 2170.2,1361.8 2171.6,1361.8 2172.9,1361.9 2174.2,1361.9 2175.5,1361.9 2176.8,1361.9 2178.1,1361.9 2179.5,1361.9 2180.8,1361.9 2182.1,1361.9 2183.4,1361.9 2184.7,1361.9 2185.9,1361.9 2187.2,1361.9 2188.5,1361.9 2189.8,1361.9 2191.1,1361.9 2192.3,1361.9 2193.6,1361.9 2194.8,1361.9 2196.1,1361.9 2197.3,1361.9 2198.6,1361.9 2199.8,1361.9 2201.0,1361.9 2202.3,1361.9 2203.5,1361.9 2204.7,1361.9 2205.9,1361.9 2207.1,1361.9 2208.2,1361.9 2209.4,1361.9 2210.6,1361.9 2211.7,1361.9 2212.9,1361.9 2214.0,1361.9 2215.1,1361.9 2216.3,1361.9 2217.4,1361.9 2218.5,1361.9 2219.6,1361.9 2220.6,1361.9 2221.7,1361.9 2222.7,1361.9 2223.8,1361.9 2224.8,1361.9 2225.8,1361.9 2226.8,1361.9 2227.8,1361.9 2228.8,1362.0 2229.8,1362.0 2230.8,1362.0 2231.7,1362.0 2232.6,1362.0 2233.5,1362.0 2234.5,1362.0 2235.3,1362.0 2236.2,1362.0 2237.1,1362.0 2237.9,1362.0 2238.8,1362.0 2239.6,1362.0 2240.4,1362.0 2241.1,1362.0 2241.9,1362.0 2242.7,1362.0 2243.4,1362.0 2244.1,1362.0 2244.8,1362.0 2245.5,1362.0 2246.2,1362.0 2246.8,1362.0 2247.5,1362.0 2248.1,1362.0 2248.7,1362.0 2249.2,1362.0 2249.8,1362.0 2250.3,1362.0 2250.9,1362.0 2251.4,1362.0 2251.8,1362.0 2252.3,1362.0 2252.7,1362.0 2253.2,1362.0 2253.6,1362.0 2253.9,1362.0 2254.3,1362.0 2254.6,1362.0 2255.0,1362.0 2255.3,1362.0 2255.5,1362.0 2255.8,1362.0 2256.0,1362.0 2256.2,1362.0 2256.4,1362.0 2256.5,1362.0 2256.7,1362.0 2256.8,1362.0 2256.9,1362.0 2256.9,1362.0 2257.0,1362.0 2257.0,1362.0" marker-start="url(#mD)" marker-mid="url(#mD)" marker-end="url(#mD)"/><text class="tk" x="225" y="1525.5" text-anchor="end">0</text><text class="tk" x="225" y="1380.3" text-anchor="end">10</text><text class="tk" x="225" y="1235.2" text-anchor="end">20</text><text class="tk" x="225" y="1090.0" text-anchor="end">30</text><text class="tk" x="225" y="944.9" text-anchor="end">40</text><text class="tk" x="225" y="799.8" text-anchor="end">50</text><text class="tk" x="225" y="654.6" text-anchor="end">60</text><text class="tk" x="225" y="509.4" text-anchor="end">70</text><text class="tk" x="225" y="364.3" text-anchor="end">80</text><text class="tk" x="225" y="219.1" text-anchor="end">90</text><text class="tk" x="225" y="74.0" text-anchor="end">100</text><text class="tk" x="276.0" y="1607" text-anchor="middle">0</text><text class="tk" x="498.1" y="1607" text-anchor="middle">100</text><text class="tk" x="720.2" y="1607" text-anchor="middle">200</text><text class="tk" x="942.3" y="1607" text-anchor="middle">300</text><text class="tk" x="1164.4" y="1607" text-anchor="middle">400</text><text class="tk" x="1386.5" y="1607" text-anchor="middle">500</text><text class="tk" x="1608.5" y="1607" text-anchor="middle">600</text><text class="tk" x="1830.6" y="1607" text-anchor="middle">700</text><text class="tk" x="2052.7" y="1607" text-anchor="middle">800</text><text class="tk" x="2274.8" y="1607" text-anchor="middle">900</text><text class="ttl" x="1272" y="1710" text-anchor="middle">Temperature (ºC)</text><text class="ttl" transform="translate(107,780) rotate(-90)" text-anchor="middle">% of weight</text><rect x="1660" y="107.7" width="187" height="3" fill="#000"/><circle cx="1753" cy="109.2" r="13" fill="#000"/><text class="lg" x="1887" y="134.7">C(B<tspan dy="5">_</tspan><tspan dy="-5">Glu)</tspan></text><rect x="1660" y="196.8" width="187" height="3" fill="#f00"/><path d="M1753 179.8 L1769.0 207.8 L1737.0 207.8 Z" fill="#f00"/><text class="lg" x="1887" y="223.8">C(B<tspan dy="5">_</tspan><tspan dy="-5">Glu</tspan><tspan dy="5">_</tspan><tspan dy="-5">K)</tspan></text><rect x="1660" y="286.8" width="187" height="3" fill="#00f"/><rect x="1741.0" y="276.3" width="24" height="24" fill="#00f"/><text class="lg" x="1887" y="313.8">C(B<tspan dy="5">_</tspan><tspan dy="-5">Glu</tspan><tspan dy="5">_</tspan><tspan dy="-5">N)</tspan></text><rect x="1660" y="375.6" width="187" height="3" fill="#f0f"/><path d="M1753 359.6 L1770.0 377.1 L1753 394.6 L1736.0 377.1 Z" fill="#f0f"/><text class="lg" x="1887" y="402.6">C(B<tspan dy="5">_</tspan><tspan dy="-5">Glu</tspan><tspan dy="5">_</tspan><tspan dy="-5">P)</tspan></text></svg></body></html>
